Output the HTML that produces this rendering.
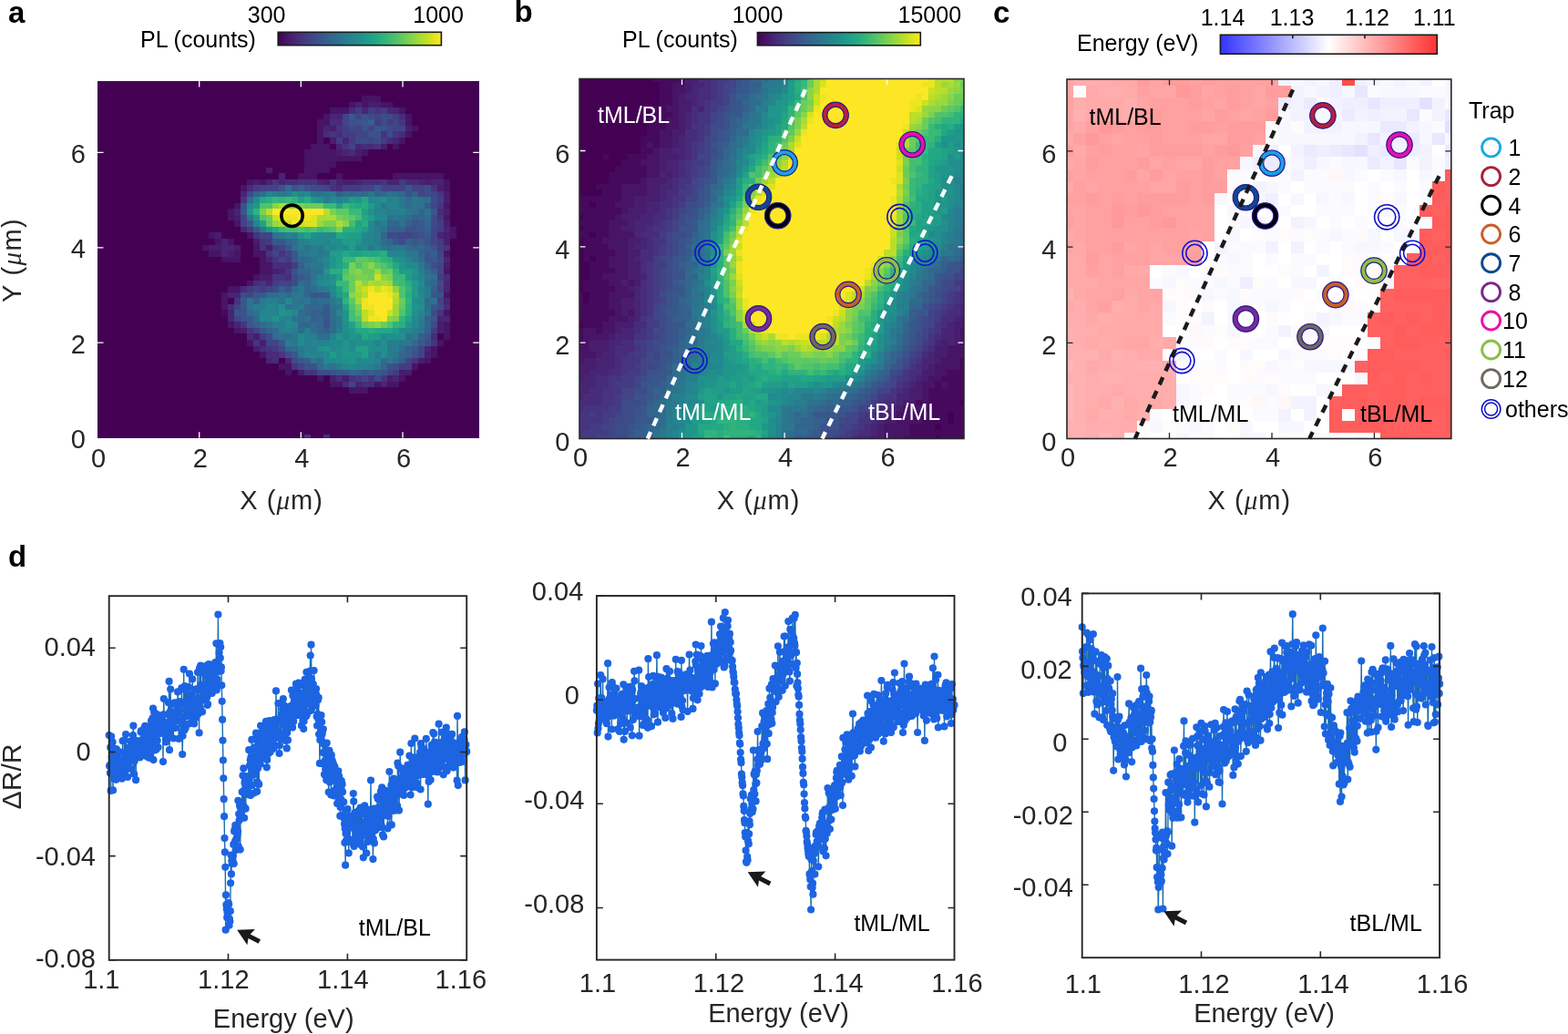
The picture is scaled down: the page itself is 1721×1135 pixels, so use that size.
<!DOCTYPE html><html><head><meta charset="utf-8"><title>Figure</title><style>html,body{margin:0;padding:0;background:#fff;overflow:hidden;}svg{display:block;}</style></head><body><svg width="1721" height="1135" viewBox="0 0 1721 1135" font-family="'Liberation Sans', Arial, Helvetica, sans-serif"><path fill="#440154" d="M107 477h227v4h-227zM341 477h14v4h-14zM362 477h164v4h-164zM107 471h419v6h-419zM107 464h419v7h-419zM107 458h419v6h-419zM107 451h419v7h-419zM107 445h419v6h-419zM107 438h419v7h-419zM107 432h419v6h-419zM107 425h276v7h-276zM404 425h122v7h-122zM107 419h255v6h-255zM438 419h88v6h-88zM107 412h241v7h-241zM355 412h7v7h-7zM445 412h81v7h-81zM107 406h206v6h-206zM320 406h7v6h-7zM452 406h74v6h-74zM107 399h199v7h-199zM459 399h67v7h-67zM107 393h185v6h-185zM306 393h7v6h-7zM473 393h53v6h-53zM107 386h178v7h-178zM480 386h46v7h-46zM107 380h171v6h-171zM480 380h46v6h-46zM107 373h164v7h-164zM487 373h39v7h-39zM107 366h164v7h-164zM480 366h7v7h-7zM494 366h32v7h-32zM107 360h150v6h-150zM494 360h32v6h-32zM107 353h143v7h-143zM494 353h32v7h-32zM107 347h143v6h-143zM494 347h32v6h-32zM107 340h136v7h-136zM494 340h32v7h-32zM107 334h136v6h-136zM494 334h32v6h-32zM107 327h136v7h-136zM250 327h7v7h-7zM494 327h32v7h-32zM107 321h136v6h-136zM494 321h32v6h-32zM107 314h143v7h-143zM494 314h32v7h-32zM107 308h164v6h-164zM494 308h32v6h-32zM107 301h171v7h-171zM494 301h32v7h-32zM107 295h178v6h-178zM494 295h32v6h-32zM107 288h178v7h-178zM494 288h32v7h-32zM107 282h136v6h-136zM264 282h21v6h-21zM494 282h32v6h-32zM107 275h122v7h-122zM264 275h14v7h-14zM494 275h32v7h-32zM107 269h115v6h-115zM264 269h14v6h-14zM494 269h32v6h-32zM107 262h129v7h-129zM257 262h21v7h-21zM494 262h32v7h-32zM107 255h122v7h-122zM243 255h28v7h-28zM501 255h25v7h-25zM107 249h157v6h-157zM501 249h25v6h-25zM107 242h150v7h-150zM494 242h32v7h-32zM107 236h143v6h-143zM494 236h32v6h-32zM107 229h143v7h-143zM494 229h32v7h-32zM107 223h150v6h-150zM494 223h32v6h-32zM107 216h157v7h-157zM494 216h32v7h-32zM107 210h157v6h-157zM494 210h32v6h-32zM107 203h157v7h-157zM494 203h32v7h-32zM107 197h164v6h-164zM494 197h32v6h-32zM107 190h199v7h-199zM313 190h14v7h-14zM348 190h21v7h-21zM376 190h55v7h-55zM487 190h39v7h-39zM107 184h185v6h-185zM299 184h35v6h-35zM362 184h164v6h-164zM107 177h227v7h-227zM369 177h157v7h-157zM107 171h227v6h-227zM397 171h129v6h-129zM107 164h227v7h-227zM404 164h122v7h-122zM107 158h234v6h-234zM362 158h7v6h-7zM425 158h6v6h-6zM438 158h88v6h-88zM107 151h241v7h-241zM355 151h7v7h-7zM445 151h81v7h-81zM107 144h241v7h-241zM452 144h74v7h-74zM107 138h241v6h-241zM459 138h67v6h-67zM107 131h241v7h-241zM452 131h74v7h-74zM107 125h248v6h-248zM452 125h74v6h-74zM107 118h255v7h-255zM445 118h81v7h-81zM107 112h276v6h-276zM431 112h95v6h-95zM107 105h290v7h-290zM418 105h108v7h-108zM107 99h419v6h-419zM107 92h419v7h-419zM107 89h419v3h-419z"/>
<path fill="#463480" d="M334 477h7v4h-7zM383 412h7v7h-7zM404 412h7v7h-7zM418 412h7v7h-7zM334 406h14v6h-14zM320 399h7v7h-7zM452 393h7v6h-7zM306 386h7v7h-7zM292 380h7v6h-7zM278 373h7v7h-7zM473 373h7v7h-7zM271 360h7v6h-7zM264 353h7v7h-7zM480 340h7v7h-7zM257 327h7v7h-7zM285 308h7v6h-7zM299 301h14v7h-14zM313 295h7v6h-7zM299 282h7v6h-7zM292 275h7v7h-7zM306 275h7v7h-7zM285 269h7v6h-7zM487 269h7v6h-7zM285 262h7v7h-7zM278 255h7v7h-7zM480 236h7v6h-7zM480 223h7v6h-7zM264 216h7v7h-7zM480 210h7v6h-7zM362 203h7v7h-7zM473 203h7v7h-7zM299 197h7v6h-7zM327 197h21v6h-21zM362 197h7v6h-7zM418 197h7v6h-7zM376 158h7v6h-7zM411 158h7v6h-7zM362 144h7v7h-7zM418 144h7v7h-7zM431 144h7v7h-7zM369 138h7v6h-7zM438 131h7v7h-7zM411 118h7v7h-7z"/>
<path fill="#472c7b" d="M355 477h7v4h-7zM376 419h7v6h-7zM397 419h14v6h-14zM369 412h7v7h-7zM299 393h7v6h-7zM292 386h14v7h-14zM285 380h7v6h-7zM271 366h7v7h-7zM473 366h7v7h-7zM250 334h7v6h-7zM487 334h7v6h-7zM264 314h7v7h-7zM278 308h7v6h-7zM313 301h7v7h-7zM487 301h7v7h-7zM299 288h21v7h-21zM480 229h7v7h-7zM271 203h7v7h-7zM369 203h7v7h-7zM313 197h14v6h-14zM397 197h21v6h-21zM445 197h14v6h-14zM383 164h7v7h-7zM397 158h14v6h-14zM425 151h6v7h-6zM355 144h7v7h-7zM369 144h7v7h-7zM438 144h7v7h-7zM362 131h14v7h-14zM438 125h7v6h-7zM383 118h7v7h-7z"/>
<path fill="#471466" d="M383 425h21v7h-21zM362 419h14v6h-14zM411 419h7v6h-7zM425 419h13v6h-13zM348 412h7v7h-7zM438 412h7v7h-7zM313 406h7v6h-7zM306 399h14v7h-14zM452 399h7v7h-7zM466 393h7v6h-7zM285 386h7v7h-7zM473 386h7v7h-7zM473 380h7v6h-7zM271 373h7v7h-7zM480 373h7v7h-7zM487 366h7v7h-7zM257 360h7v6h-7zM487 360h7v6h-7zM250 353h7v7h-7zM487 353h7v7h-7zM487 340h7v7h-7zM243 334h7v6h-7zM243 327h7v7h-7zM243 321h7v6h-7zM487 321h7v6h-7zM250 314h14v7h-14zM271 308h7v6h-7zM278 301h7v7h-7zM285 295h14v6h-14zM487 295h7v6h-7zM285 288h14v7h-14zM243 282h21v6h-21zM285 282h7v6h-7zM229 275h14v7h-14zM257 275h7v7h-7zM278 275h14v7h-14zM487 275h7v7h-7zM222 269h7v6h-7zM278 269h7v6h-7zM236 262h7v7h-7zM250 262h7v7h-7zM229 255h7v7h-7zM271 255h7v7h-7zM494 255h7v7h-7zM494 249h7v6h-7zM257 242h7v7h-7zM250 236h7v6h-7zM487 236h7v6h-7zM250 229h7v7h-7zM257 223h7v6h-7zM487 223h7v6h-7zM264 203h7v7h-7zM487 203h7v7h-7zM271 197h7v6h-7zM285 197h7v6h-7zM487 197h7v6h-7zM327 190h21v7h-21zM369 190h7v7h-7zM431 190h56v7h-56zM334 184h28v6h-28zM334 177h35v7h-35zM334 171h63v6h-63zM334 164h35v7h-35zM397 164h7v7h-7zM341 158h21v6h-21zM431 158h7v6h-7zM348 151h7v7h-7zM438 151h7v7h-7zM348 144h7v7h-7zM445 144h7v7h-7zM348 138h7v6h-7zM452 138h7v6h-7zM348 131h14v7h-14zM445 131h7v7h-7zM355 125h7v6h-7zM445 125h7v6h-7zM362 118h21v7h-21zM438 118h7v7h-7zM383 112h7v6h-7zM397 112h7v6h-7zM418 112h13v6h-13zM397 105h21v7h-21z"/>
<path fill="#414487" d="M383 419h7v6h-7zM397 412h7v7h-7zM425 406h6v6h-6zM327 399h7v7h-7zM445 393h7v6h-7zM459 386h7v7h-7zM459 380h7v6h-7zM292 373h14v7h-14zM278 360h7v6h-7zM257 347h7v6h-7zM257 334h7v6h-7zM480 327h7v7h-7zM271 321h7v6h-7zM278 314h7v7h-7zM292 314h7v7h-7zM480 314h7v7h-7zM306 308h14v6h-14zM480 295h7v6h-7zM480 288h7v7h-7zM306 282h7v6h-7zM299 275h7v7h-7zM313 275h7v7h-7zM480 275h7v7h-7zM306 269h7v6h-7zM473 262h7v7h-7zM285 255h14v7h-14zM438 255h14v7h-14zM473 255h7v7h-7zM473 249h7v6h-7zM264 242h7v7h-7zM264 236h7v6h-7zM473 223h7v6h-7zM459 210h7v6h-7zM473 210h7v6h-7zM285 203h21v7h-21zM355 203h7v7h-7zM397 203h14v7h-14zM418 203h27v7h-27zM452 203h14v7h-14zM383 158h7v6h-7zM404 151h7v7h-7zM390 144h14v7h-14zM390 138h7v6h-7zM404 138h7v6h-7zM431 138h14v6h-14zM376 131h7v7h-7zM431 131h7v7h-7zM376 125h7v6h-7zM390 125h7v6h-7zM411 125h7v6h-7z"/>
<path fill="#482474" d="M390 419h7v6h-7zM418 419h7v6h-7zM431 412h7v7h-7zM292 393h7v6h-7zM313 393h7v6h-7zM466 380h7v6h-7zM257 353h7v7h-7zM250 347h7v6h-7zM480 347h14v6h-14zM250 340h7v7h-7zM487 327h7v7h-7zM250 321h14v6h-14zM487 314h7v7h-7zM292 308h7v6h-7zM487 308h7v6h-7zM306 295h7v6h-7zM292 282h7v6h-7zM487 282h7v6h-7zM243 275h7v7h-7zM243 269h14v6h-14zM243 262h7v7h-7zM480 255h7v7h-7zM264 249h7v6h-7zM487 249h7v6h-7zM257 229h7v7h-7zM264 210h7v6h-7zM292 197h7v6h-7zM306 197h7v6h-7zM348 197h7v6h-7zM369 197h7v6h-7zM390 197h7v6h-7zM425 197h13v6h-13zM459 197h7v6h-7zM473 197h14v6h-14zM306 190h7v7h-7zM376 164h7v7h-7zM369 158h7v6h-7zM390 158h7v6h-7zM376 151h7v7h-7zM431 151h7v7h-7zM355 138h7v6h-7zM362 125h14v6h-14zM397 118h7v7h-7zM425 118h13v7h-13zM390 112h7v6h-7z"/>
<path fill="#481d6e" d="M362 412h7v7h-7zM376 412h7v7h-7zM425 412h6v7h-6zM327 406h7v6h-7zM438 406h14v6h-14zM459 393h7v6h-7zM466 386h7v7h-7zM278 380h7v6h-7zM285 373h7v7h-7zM278 366h7v7h-7zM264 360h7v6h-7zM480 360h7v6h-7zM480 353h7v7h-7zM285 301h14v7h-14zM299 295h7v6h-7zM487 288h7v7h-7zM250 275h7v7h-7zM229 269h14v6h-14zM257 269h7v6h-7zM292 269h7v6h-7zM278 262h7v7h-7zM487 262h7v7h-7zM236 255h7v7h-7zM487 255h7v7h-7zM487 242h7v7h-7zM257 236h7v6h-7zM487 229h7v7h-7zM487 216h7v7h-7zM487 210h7v6h-7zM480 203h7v7h-7zM278 197h7v6h-7zM355 197h7v6h-7zM376 197h14v6h-14zM466 197h7v6h-7zM292 184h7v6h-7zM369 164h7v7h-7zM390 164h7v7h-7zM418 158h7v6h-7zM362 151h7v7h-7zM362 138h7v6h-7zM445 138h7v6h-7zM404 112h14v6h-14z"/>
<path fill="#433c83" d="M390 412h7v7h-7zM431 406h7v6h-7zM438 399h14v7h-14zM299 380h7v6h-7zM285 366h7v7h-7zM473 360h7v6h-7zM271 314h7v7h-7zM285 314h7v7h-7zM299 308h7v6h-7zM480 301h7v7h-7zM320 288h7v7h-7zM313 282h7v6h-7zM299 269h7v6h-7zM480 269h7v6h-7zM292 262h7v7h-7zM480 262h7v7h-7zM271 249h7v6h-7zM480 249h7v6h-7zM480 242h7v7h-7zM480 216h7v7h-7zM278 203h7v7h-7zM376 203h21v7h-21zM438 197h7v6h-7zM369 151h7v7h-7zM383 151h7v7h-7zM418 151h7v7h-7zM376 144h14v7h-14zM376 138h7v6h-7zM411 131h7v7h-7zM425 131h6v7h-6zM431 125h7v6h-7zM390 118h7v7h-7zM404 118h7v7h-7zM418 118h7v7h-7z"/>
<path fill="#3e4b89" d="M411 412h7v7h-7zM348 406h14v6h-14zM431 399h7v7h-7zM320 393h7v6h-7zM313 386h7v7h-7zM306 380h7v6h-7zM466 373h7v7h-7zM292 366h7v7h-7zM473 353h7v7h-7zM473 340h7v7h-7zM480 334h7v6h-7zM264 321h7v6h-7zM299 314h7v7h-7zM320 308h7v6h-7zM480 308h7v6h-7zM320 301h7v7h-7zM473 288h7v7h-7zM480 282h7v6h-7zM438 262h7v7h-7zM425 255h13v7h-13zM452 255h7v7h-7zM473 242h7v7h-7zM473 236h7v6h-7zM473 216h7v7h-7zM271 210h7v6h-7zM466 210h7v6h-7zM341 203h14v7h-14zM466 203h7v7h-7zM390 151h14v7h-14zM411 151h7v7h-7zM425 144h6v7h-6zM383 138h7v6h-7zM425 138h6v6h-6zM418 131h7v7h-7zM404 125h7v6h-7zM418 125h13v6h-13z"/>
<path fill="#3b528b" d="M362 406h7v6h-7zM418 406h7v6h-7zM334 399h14v7h-14zM425 399h6v7h-6zM452 386h7v7h-7zM466 366h7v7h-7zM355 353h7v7h-7zM264 347h7v6h-7zM257 340h14v7h-14zM480 321h7v6h-7zM313 314h7v7h-7zM320 295h7v6h-7zM466 282h7v6h-7zM473 269h7v6h-7zM466 262h7v7h-7zM459 255h7v7h-7zM445 249h14v6h-14zM264 223h7v6h-7zM445 210h7v6h-7zM306 203h7v7h-7zM320 203h7v7h-7zM334 203h7v7h-7zM404 144h14v7h-14zM397 138h7v6h-7zM418 138h7v6h-7zM383 131h14v7h-14zM397 125h7v6h-7z"/>
<path fill="#38588c" d="M369 406h14v6h-14zM397 406h7v6h-7zM411 406h7v6h-7zM327 393h7v6h-7zM320 386h7v7h-7zM452 380h7v6h-7zM306 373h7v7h-7zM459 373h7v7h-7zM285 360h7v6h-7zM271 353h7v7h-7zM271 347h7v6h-7zM355 347h7v6h-7zM473 347h7v6h-7zM355 340h7v7h-7zM264 334h7v6h-7zM355 334h7v6h-7zM473 334h7v6h-7zM264 327h7v7h-7zM278 321h14v6h-14zM341 321h21v6h-21zM473 321h7v6h-7zM327 301h7v7h-7zM320 282h7v6h-7zM473 282h7v6h-7zM320 275h7v7h-7zM466 275h7v7h-7zM313 269h7v6h-7zM299 262h14v7h-14zM431 262h7v7h-7zM452 262h7v7h-7zM466 255h7v7h-7zM278 249h7v6h-7zM459 249h7v6h-7zM271 242h7v7h-7zM452 242h14v7h-14zM264 229h7v7h-7zM473 229h7v7h-7zM466 223h7v6h-7zM411 203h7v7h-7zM445 203h7v7h-7zM411 138h7v6h-7zM397 131h7v7h-7zM383 125h7v6h-7z"/>
<path fill="#32668e" d="M383 406h7v6h-7zM418 399h7v7h-7zM438 386h7v7h-7zM313 380h7v6h-7zM452 373h7v7h-7zM292 360h7v6h-7zM348 360h7v6h-7zM327 353h14v7h-14zM348 353h7v7h-7zM466 353h7v7h-7zM348 347h7v6h-7zM334 340h7v7h-7zM334 334h21v6h-21zM341 327h7v7h-7zM334 321h7v6h-7zM334 314h7v7h-7zM334 308h7v6h-7zM473 308h7v6h-7zM327 295h14v6h-14zM327 282h7v6h-7zM459 275h7v7h-7zM452 269h14v6h-14zM313 262h7v7h-7zM425 262h6v7h-6zM418 255h7v7h-7zM425 242h13v7h-13zM466 242h7v7h-7zM459 236h7v6h-7zM459 229h7v7h-7zM278 210h7v6h-7zM383 210h7v6h-7zM397 210h7v6h-7zM411 210h14v6h-14zM438 210h7v6h-7z"/>
<path fill="#355f8d" d="M390 406h7v6h-7zM404 406h7v6h-7zM334 393h7v6h-7zM438 393h7v6h-7zM445 386h7v7h-7zM445 380h7v6h-7zM459 366h7v7h-7zM355 360h7v6h-7zM466 360h7v6h-7zM278 353h7v7h-7zM341 347h7v6h-7zM466 347h7v6h-7zM341 340h14v7h-14zM278 327h7v7h-7zM306 314h7v7h-7zM473 314h7v7h-7zM334 301h7v7h-7zM473 295h7v6h-7zM327 288h7v7h-7zM466 288h7v7h-7zM473 275h7v7h-7zM466 269h7v6h-7zM445 262h7v7h-7zM459 262h7v7h-7zM425 249h20v6h-20zM466 249h7v6h-7zM445 242h7v7h-7zM452 236h7v6h-7zM369 210h7v6h-7zM452 210h7v6h-7zM327 203h7v7h-7zM404 131h7v7h-7z"/>
<path fill="#2f6c8e" d="M348 399h7v7h-7zM348 393h7v6h-7zM418 393h7v6h-7zM431 393h7v6h-7zM320 380h7v6h-7zM438 380h7v6h-7zM299 366h7v7h-7zM313 366h7v7h-7zM348 366h14v7h-14zM299 360h7v6h-7zM327 360h7v6h-7zM341 360h7v6h-7zM362 360h7v6h-7zM285 353h7v7h-7zM341 353h7v7h-7zM362 353h7v7h-7zM278 347h7v6h-7zM327 347h7v6h-7zM362 347h7v6h-7zM271 340h7v7h-7zM327 340h7v7h-7zM362 340h7v7h-7zM466 334h7v6h-7zM348 327h14v7h-14zM466 327h7v7h-7zM292 321h14v6h-14zM313 321h7v6h-7zM320 314h7v7h-7zM341 314h7v7h-7zM327 308h7v6h-7zM466 308h7v6h-7zM473 301h7v7h-7zM466 295h7v6h-7zM334 282h7v6h-7zM459 282h7v6h-7zM445 269h7v6h-7zM320 262h7v7h-7zM418 262h7v7h-7zM445 236h7v6h-7zM466 236h7v6h-7zM445 223h7v6h-7zM271 216h7v7h-7zM445 216h7v7h-7zM466 216h7v7h-7zM285 210h7v6h-7zM376 210h7v6h-7zM390 210h7v6h-7zM431 210h7v6h-7zM313 203h7v7h-7z"/>
<path fill="#2a788e" d="M355 399h7v7h-7zM411 399h7v7h-7zM341 393h7v6h-7zM425 393h6v6h-6zM327 386h7v7h-7zM431 386h7v7h-7zM327 380h7v6h-7zM425 380h6v6h-6zM320 373h7v7h-7zM438 373h14v7h-14zM320 366h7v7h-7zM452 366h7v7h-7zM459 360h7v6h-7zM369 353h7v7h-7zM459 353h7v7h-7zM369 347h7v6h-7zM320 334h7v6h-7zM369 334h7v6h-7zM285 327h7v7h-7zM320 327h7v7h-7zM334 327h7v7h-7zM362 327h7v7h-7zM320 321h14v6h-14zM466 321h7v6h-7zM327 314h7v7h-7zM348 314h7v7h-7zM466 314h7v7h-7zM341 308h7v6h-7zM341 288h14v7h-14zM459 288h7v7h-7zM452 282h7v6h-7zM334 275h7v7h-7zM348 275h7v7h-7zM445 275h14v7h-14zM348 269h7v6h-7zM404 269h7v6h-7zM418 269h7v6h-7zM431 269h14v6h-14zM306 255h7v7h-7zM285 249h7v6h-7zM411 242h7v7h-7zM271 236h7v6h-7zM431 236h7v6h-7zM445 229h7v7h-7zM418 223h7v6h-7zM438 223h7v6h-7zM438 216h7v7h-7zM452 216h7v7h-7zM306 210h7v6h-7zM355 210h14v6h-14zM404 210h7v6h-7z"/>
<path fill="#2d728e" d="M362 399h7v7h-7zM306 366h7v7h-7zM445 366h7v7h-7zM292 353h7v7h-7zM320 347h7v6h-7zM334 347h7v6h-7zM278 340h7v7h-7zM466 340h7v7h-7zM271 334h7v6h-7zM313 334h7v6h-7zM362 334h7v6h-7zM271 327h7v7h-7zM306 327h7v7h-7zM327 327h7v7h-7zM473 327h7v7h-7zM306 321h7v6h-7zM341 301h7v7h-7zM466 301h7v7h-7zM341 295h14v6h-14zM334 288h7v7h-7zM341 282h7v6h-7zM327 275h7v7h-7zM320 269h7v6h-7zM334 269h7v6h-7zM425 269h6v6h-6zM299 255h7v7h-7zM418 249h7v6h-7zM438 242h7v7h-7zM425 236h6v6h-6zM438 236h7v6h-7zM452 229h7v7h-7zM466 229h7v7h-7zM452 223h14v6h-14zM459 216h7v7h-7zM341 210h14v6h-14zM425 210h6v6h-6z"/>
<path fill="#277e8e" d="M369 399h7v7h-7zM404 399h7v7h-7zM411 386h7v7h-7zM425 386h6v7h-6zM334 380h14v6h-14zM431 380h7v6h-7zM313 373h7v7h-7zM334 373h7v7h-7zM425 373h13v7h-13zM334 366h14v7h-14zM306 360h7v6h-7zM320 360h7v6h-7zM334 360h7v6h-7zM369 360h7v6h-7zM452 360h7v6h-7zM299 353h14v7h-14zM459 347h7v6h-7zM278 334h14v6h-14zM327 334h7v6h-7zM292 327h14v7h-14zM355 314h7v7h-7zM459 295h7v6h-7zM348 282h7v6h-7zM341 275h7v7h-7zM355 275h7v7h-7zM327 269h7v6h-7zM341 269h7v6h-7zM327 262h7v7h-7zM411 262h7v7h-7zM320 255h7v7h-7zM411 255h7v7h-7zM411 249h7v6h-7zM418 242h7v7h-7zM425 229h13v7h-13zM355 216h7v7h-7zM425 216h6v7h-6zM299 210h7v6h-7zM313 210h7v6h-7z"/>
<path fill="#228a8e" d="M376 399h14v7h-14zM355 393h14v6h-14zM390 393h21v6h-21zM355 386h7v7h-7zM404 386h7v7h-7zM362 380h7v6h-7zM383 380h7v6h-7zM327 373h7v7h-7zM362 373h14v7h-14zM383 373h7v7h-7zM327 366h7v7h-7zM376 366h7v7h-7zM418 366h7v7h-7zM438 360h14v6h-14zM313 353h7v7h-7zM452 353h7v7h-7zM285 347h7v6h-7zM452 347h7v6h-7zM320 340h7v7h-7zM292 334h7v6h-7zM313 327h7v7h-7zM459 327h7v7h-7zM459 321h7v6h-7zM362 314h7v7h-7zM348 308h7v6h-7zM459 308h7v6h-7zM355 301h7v7h-7zM445 288h14v7h-14zM355 282h7v6h-7zM355 269h7v6h-7zM376 269h7v6h-7zM397 269h7v6h-7zM341 262h14v7h-14zM348 255h21v7h-21zM397 255h7v7h-7zM404 249h7v6h-7zM404 242h7v7h-7zM411 236h14v6h-14zM271 223h7v6h-7zM411 223h7v6h-7zM278 216h7v7h-7zM362 216h7v7h-7zM376 216h7v7h-7zM404 216h14v7h-14zM334 210h7v6h-7z"/>
<path fill="#25848e" d="M390 399h14v7h-14zM411 393h7v6h-7zM334 386h21v7h-21zM341 373h21v7h-21zM411 373h7v7h-7zM362 366h7v7h-7zM313 360h7v6h-7zM320 353h7v7h-7zM292 347h7v6h-7zM306 347h14v6h-14zM285 340h21v7h-21zM369 340h7v7h-7zM459 340h7v7h-7zM299 334h7v6h-7zM369 327h7v7h-7zM362 321h7v6h-7zM459 314h7v7h-7zM348 301h7v7h-7zM459 301h7v7h-7zM355 288h7v7h-7zM445 282h7v6h-7zM425 275h20v7h-20zM362 269h7v6h-7zM390 269h7v6h-7zM411 269h7v6h-7zM334 262h7v7h-7zM355 262h7v7h-7zM397 262h14v7h-14zM313 255h7v7h-7zM404 255h7v7h-7zM278 242h7v7h-7zM411 229h14v7h-14zM438 229h7v7h-7zM425 223h13v6h-13zM369 216h7v7h-7zM431 216h7v7h-7zM292 210h7v6h-7zM327 210h7v6h-7z"/>
<path fill="#21908c" d="M369 393h14v6h-14zM369 386h7v7h-7zM418 386h7v7h-7zM348 380h7v6h-7zM369 380h7v6h-7zM404 380h21v6h-21zM390 373h21v7h-21zM418 373h7v7h-7zM390 366h7v7h-7zM425 366h20v7h-20zM376 360h7v6h-7zM376 353h7v7h-7zM313 340h7v7h-7zM452 340h7v7h-7zM306 334h7v6h-7zM459 334h7v6h-7zM452 327h7v7h-7zM355 308h7v6h-7zM362 301h7v7h-7zM452 301h7v7h-7zM438 282h7v6h-7zM369 269h7v6h-7zM362 262h14v7h-14zM341 255h7v7h-7zM404 229h7v7h-7zM348 216h7v7h-7zM418 216h7v7h-7zM320 210h7v6h-7z"/>
<path fill="#20968b" d="M383 393h7v6h-7zM376 386h21v7h-21zM355 380h7v6h-7zM376 380h7v6h-7zM376 373h7v7h-7zM369 366h7v7h-7zM383 366h7v7h-7zM383 360h7v6h-7zM445 353h7v7h-7zM299 347h7v6h-7zM376 347h7v6h-7zM306 340h7v7h-7zM376 340h7v7h-7zM452 334h7v6h-7zM362 308h7v6h-7zM355 295h7v6h-7zM452 295h7v6h-7zM362 288h7v7h-7zM438 288h7v7h-7zM362 282h7v6h-7zM431 282h7v6h-7zM390 262h7v7h-7zM327 255h7v7h-7zM292 249h7v6h-7zM278 236h7v6h-7zM271 229h7v7h-7zM278 223h7v6h-7zM341 216h7v7h-7zM390 216h7v7h-7z"/>
<path fill="#209c89" d="M362 386h7v7h-7zM404 366h14v7h-14zM431 360h7v6h-7zM369 321h7v6h-7zM452 321h7v6h-7zM452 314h7v7h-7zM452 308h7v6h-7zM445 301h7v7h-7zM438 295h14v6h-14zM362 275h14v7h-14zM383 269h7v6h-7zM376 262h14v7h-14zM383 255h14v7h-14zM397 249h7v6h-7zM404 236h7v6h-7zM404 223h7v6h-7zM383 216h7v7h-7z"/>
<path fill="#21a287" d="M397 386h7v7h-7zM390 380h14v6h-14zM383 353h7v7h-7zM445 347h7v6h-7zM376 334h7v6h-7zM369 314h7v7h-7zM369 301h7v7h-7zM369 288h7v7h-7zM369 282h7v6h-7zM383 275h14v7h-14zM334 255h7v7h-7zM376 255h7v7h-7zM285 242h7v7h-7zM390 242h7v7h-7zM397 229h7v7h-7zM369 223h7v6h-7zM327 216h7v7h-7z"/>
<path fill="#22a884" d="M397 366h7v7h-7zM390 360h14v6h-14zM411 360h20v6h-20zM376 321h7v6h-7zM431 288h7v7h-7zM376 275h7v7h-7zM397 275h21v7h-21zM369 255h7v7h-7zM299 249h7v6h-7zM390 249h7v6h-7zM397 236h7v6h-7zM390 223h7v6h-7zM285 216h7v7h-7zM397 216h7v7h-7z"/>
<path fill="#29ae80" d="M404 360h7v6h-7zM438 353h7v7h-7zM445 340h7v7h-7zM445 334h7v6h-7zM445 321h7v6h-7zM445 308h7v6h-7zM362 295h14v6h-14zM376 288h7v7h-7zM425 282h6v6h-6zM418 275h7v7h-7zM376 249h14v6h-14zM397 242h7v7h-7zM383 223h7v6h-7zM397 223h7v6h-7zM292 216h7v7h-7zM334 216h7v7h-7z"/>
<path fill="#39b977" d="M390 353h7v7h-7zM376 314h7v7h-7zM369 308h14v6h-14zM438 308h7v6h-7zM431 301h14v7h-14zM425 288h6v7h-6zM376 282h14v6h-14zM306 249h7v6h-7zM348 249h7v6h-7zM383 229h14v7h-14zM355 223h14v6h-14zM376 223h7v6h-7zM299 216h7v7h-7zM313 216h7v7h-7z"/>
<path fill="#6ccc5a" d="M397 353h7v7h-7zM418 353h7v7h-7zM390 340h7v7h-7zM438 327h7v7h-7zM383 314h7v7h-7zM383 308h7v6h-7zM383 301h7v7h-7zM404 301h7v7h-7zM397 295h14v6h-14zM425 295h6v6h-6zM397 288h7v7h-7zM292 236h7v6h-7zM376 236h7v6h-7zM334 223h21v6h-21z"/>
<path fill="#7ad151" d="M404 353h7v7h-7zM431 347h7v6h-7zM390 334h7v6h-7zM390 301h14v7h-14zM425 301h6v7h-6zM383 295h7v6h-7zM383 288h7v7h-7zM369 249h7v6h-7zM355 242h14v7h-14zM369 236h7v6h-7zM285 229h7v7h-7zM362 229h7v7h-7zM327 223h7v6h-7z"/>
<path fill="#8ad547" d="M411 353h7v7h-7zM425 347h6v6h-6zM383 321h7v6h-7zM431 314h7v7h-7zM397 308h7v6h-7zM418 301h7v7h-7zM390 295h7v6h-7zM404 288h7v7h-7zM376 242h7v7h-7zM299 223h7v6h-7zM313 223h14v6h-14z"/>
<path fill="#50c36a" d="M425 353h6v7h-6zM390 347h7v6h-7zM438 340h7v7h-7zM383 334h7v6h-7zM438 321h7v6h-7zM438 314h7v7h-7zM376 295h7v6h-7zM390 288h7v7h-7zM418 288h7v7h-7zM404 282h7v6h-7zM327 249h7v6h-7zM341 249h7v6h-7zM362 249h7v6h-7zM285 236h7v6h-7zM285 223h14v6h-14z"/>
<path fill="#30b37c" d="M431 353h7v7h-7zM438 347h7v6h-7zM376 327h7v7h-7zM445 327h7v7h-7zM445 314h7v7h-7zM431 295h7v6h-7zM418 282h7v6h-7zM278 229h7v7h-7zM306 216h7v7h-7zM320 216h7v7h-7z"/>
<path fill="#44be70" d="M383 347h7v6h-7zM383 340h7v7h-7zM431 308h7v6h-7zM411 282h7v6h-7zM313 249h14v6h-14zM334 249h7v6h-7zM355 249h7v6h-7zM383 242h7v7h-7zM390 236h7v6h-7z"/>
<path fill="#bcde28" d="M397 347h7v6h-7zM397 340h7v7h-7zM397 321h7v6h-7zM431 321h7v6h-7zM390 308h7v6h-7zM292 229h7v7h-7zM355 229h7v7h-7z"/>
<path fill="#ede521" d="M404 347h14v6h-14zM397 334h14v6h-14zM397 327h7v7h-7zM425 321h6v6h-6zM404 314h7v7h-7zM418 314h7v7h-7zM306 236h21v6h-21zM334 236h7v6h-7z"/>
<path fill="#fde725" d="M418 347h7v6h-7zM411 340h14v7h-14zM411 334h20v6h-20zM404 327h27v7h-27zM404 321h21v6h-21zM320 242h7v7h-7zM327 236h7v6h-7zM299 229h56v7h-56z"/>
<path fill="#460a5d" d="M243 340h7v7h-7z"/>
<path fill="#dde31e" d="M404 340h7v7h-7zM425 314h6v7h-6zM334 242h14v7h-14zM341 236h7v6h-7z"/>
<path fill="#cce11e" d="M425 340h6v7h-6zM397 314h7v7h-7zM411 314h7v7h-7zM411 301h7v7h-7zM313 242h7v7h-7zM327 242h7v7h-7zM299 236h7v6h-7z"/>
<path fill="#9ad83d" d="M431 340h7v7h-7zM431 334h7v6h-7zM390 321h7v6h-7zM411 308h7v6h-7zM425 308h6v6h-6zM411 295h7v6h-7zM299 242h7v7h-7zM348 242h7v7h-7z"/>
<path fill="#5ec862" d="M438 334h7v6h-7zM383 327h7v7h-7zM376 301h7v7h-7zM418 295h7v6h-7zM411 288h7v7h-7zM390 282h14v6h-14zM292 242h7v7h-7zM383 236h7v6h-7zM369 229h14v7h-14z"/>
<path fill="#abdc33" d="M390 327h7v7h-7zM431 327h7v7h-7zM390 314h7v7h-7zM404 308h7v6h-7zM418 308h7v6h-7zM306 242h7v7h-7zM369 242h7v7h-7zM348 236h21v6h-21zM306 223h7v6h-7z"/>
<path d="M218.7 480.7v-6.5M218.7 89.0v6.5M330.3 480.7v-6.5M330.3 89.0v6.5M442.0 480.7v-6.5M442.0 89.0v6.5M107.0 376.2h6.5M525.7 376.2h-6.5M107.0 271.8h6.5M525.7 271.8h-6.5M107.0 167.3h6.5M525.7 167.3h-6.5" stroke="#ffffff" stroke-width="1.3" fill="none"/>
<text x="108.0" y="513.0" font-size="29" text-anchor="middle" fill="#262626" font-weight="normal" >0</text>
<text x="219.7" y="513.0" font-size="29" text-anchor="middle" fill="#262626" font-weight="normal" >2</text>
<text x="331.3" y="513.0" font-size="29" text-anchor="middle" fill="#262626" font-weight="normal" >4</text>
<text x="443.0" y="513.0" font-size="29" text-anchor="middle" fill="#262626" font-weight="normal" >6</text>
<text x="94.0" y="492.2" font-size="29" text-anchor="end" fill="#262626" font-weight="normal" >0</text>
<text x="94.0" y="387.7" font-size="29" text-anchor="end" fill="#262626" font-weight="normal" >2</text>
<text x="94.0" y="283.3" font-size="29" text-anchor="end" fill="#262626" font-weight="normal" >4</text>
<text x="94.0" y="178.8" font-size="29" text-anchor="end" fill="#262626" font-weight="normal" >6</text>
<circle cx="320.5" cy="236.8" r="11.7" fill="none" stroke="#000" stroke-width="3.6"/>
<path fill="#433c83" d="M636 478h18v4h-18zM921 478h14v4h-14zM640 472h28v6h-28zM928 472h7v6h-7zM647 465h14v7h-14zM935 465h7v7h-7zM661 458h7v7h-7zM647 452h7v6h-7zM661 452h14v6h-14zM942 452h7v6h-7zM668 445h14v7h-14zM956 445h7v7h-7zM675 439h7v6h-7zM956 439h7v6h-7zM675 432h7v7h-7zM963 432h7v7h-7zM675 419h21v7h-21zM682 412h14v7h-14zM984 412h7v7h-7zM689 406h14v6h-14zM696 399h7v7h-7zM998 393h7v6h-7zM696 386h14v7h-14zM1005 386h7v7h-7zM703 379h7v7h-7zM696 373h14v6h-14zM1012 373h7v6h-7zM710 366h7v7h-7zM710 360h7v6h-7zM1019 360h7v6h-7zM710 353h14v7h-14zM710 347h7v6h-7zM1026 347h7v6h-7zM1026 340h7v7h-7zM1033 333h7v7h-7zM717 327h7v6h-7zM1040 327h7v6h-7zM717 320h7v7h-7zM1040 320h7v7h-7zM717 314h7v6h-7zM717 307h7v7h-7zM1047 307h7v7h-7zM717 300h7v7h-7zM717 294h7v6h-7zM717 287h14v7h-14zM717 281h7v6h-7zM724 274h7v7h-7zM724 268h7v6h-7zM724 254h7v7h-7zM731 248h7v6h-7zM731 241h7v7h-7zM738 235h7v6h-7zM738 228h7v7h-7zM745 221h7v7h-7zM745 208h14v7h-14zM752 202h7v6h-7zM759 189h7v6h-7zM759 182h7v7h-7zM759 175h14v7h-14zM766 162h7v7h-7zM766 156h7v6h-7zM773 142h7v7h-7zM773 136h7v6h-7zM780 116h7v7h-7zM780 110h14v6h-14zM787 103h7v7h-7zM787 96h7v7h-7zM787 90h7v6h-7zM787 86h14v4h-14z"/>
<path fill="#414487" d="M654 478h14v4h-14zM914 478h7v4h-7zM668 472h7v6h-7zM921 472h7v6h-7zM661 465h14v7h-14zM921 465h14v7h-14zM668 458h7v7h-7zM928 458h14v7h-14zM675 452h7v6h-7zM935 452h7v6h-7zM942 445h14v7h-14zM682 432h14v7h-14zM682 426h14v6h-14zM963 426h14v6h-14zM696 419h7v7h-7zM977 419h7v7h-7zM696 412h7v7h-7zM977 412h7v7h-7zM703 406h7v6h-7zM984 406h7v6h-7zM703 399h14v7h-14zM991 399h7v7h-7zM703 393h7v6h-7zM717 386h7v7h-7zM998 386h7v7h-7zM710 379h7v7h-7zM1005 379h7v7h-7zM710 373h7v6h-7zM717 366h7v7h-7zM1012 366h7v7h-7zM1012 360h7v6h-7zM1019 353h7v7h-7zM717 347h7v6h-7zM1019 347h7v6h-7zM717 340h7v7h-7zM1019 340h7v7h-7zM717 333h7v7h-7zM1026 333h7v7h-7zM724 327h7v6h-7zM1033 327h7v6h-7zM1033 320h7v7h-7zM724 314h7v6h-7zM1040 314h14v6h-14zM724 307h7v7h-7zM724 300h7v7h-7zM1047 300h11v7h-11zM724 294h7v6h-7zM1054 294h4v6h-4zM724 281h7v6h-7zM731 274h7v7h-7zM731 268h7v6h-7zM731 261h7v7h-7zM731 254h7v7h-7zM738 248h7v6h-7zM738 241h7v7h-7zM745 228h7v7h-7zM752 215h14v6h-14zM759 208h7v7h-7zM759 202h7v6h-7zM759 195h7v7h-7zM766 189h7v6h-7zM766 182h7v7h-7zM773 175h7v7h-7zM766 169h14v6h-14zM773 162h7v7h-7zM773 156h7v6h-7zM773 149h7v7h-7zM780 129h7v7h-7zM780 123h7v6h-7zM787 116h7v7h-7zM794 110h7v6h-7zM794 103h7v7h-7zM794 96h7v7h-7zM794 90h14v6h-14zM801 86h7v4h-7z"/>
<path fill="#3e4b89" d="M668 478h21v4h-21zM907 478h7v4h-7zM675 472h14v6h-14zM907 472h14v6h-14zM675 465h14v7h-14zM675 458h21v7h-21zM921 458h7v7h-7zM682 452h14v6h-14zM928 452h7v6h-7zM682 445h14v7h-14zM682 439h21v6h-21zM949 439h7v6h-7zM956 432h7v7h-7zM696 426h14v6h-14zM970 419h7v7h-7zM703 412h7v7h-7zM977 406h7v6h-7zM717 399h7v7h-7zM710 393h14v6h-14zM991 393h7v6h-7zM710 386h7v7h-7zM717 379h7v7h-7zM998 379h7v7h-7zM717 373h14v6h-14zM1005 373h7v6h-7zM724 366h7v7h-7zM1005 366h7v7h-7zM717 360h14v6h-14zM724 353h7v7h-7zM1012 353h7v7h-7zM724 347h7v6h-7zM1012 347h7v6h-7zM724 340h7v7h-7zM724 333h7v7h-7zM1019 333h7v7h-7zM724 320h7v7h-7zM1026 320h7v7h-7zM731 314h7v6h-7zM1033 314h7v6h-7zM731 307h7v7h-7zM1033 307h14v7h-14zM731 300h7v7h-7zM731 294h7v6h-7zM731 287h7v7h-7zM1054 287h4v7h-4zM731 281h7v6h-7zM738 274h7v7h-7zM738 268h7v6h-7zM738 261h7v7h-7zM738 254h14v7h-14zM745 241h7v7h-7zM745 235h7v6h-7zM752 228h7v7h-7zM752 221h14v7h-14zM766 202h7v6h-7zM766 195h7v7h-7zM773 189h7v6h-7zM773 182h7v7h-7zM780 162h7v7h-7zM780 149h7v7h-7zM780 142h7v7h-7zM780 136h14v6h-14zM787 129h7v7h-7zM787 123h7v6h-7zM794 116h7v7h-7zM801 96h7v7h-7z"/>
<path fill="#38588c" d="M689 478h7v4h-7zM886 478h14v4h-14zM893 472h7v6h-7zM696 465h7v7h-7zM696 458h21v7h-21zM703 452h7v6h-7zM893 452h28v6h-28zM703 445h7v7h-7zM921 445h14v7h-14zM935 439h7v6h-7zM710 432h7v7h-7zM942 432h7v7h-7zM710 426h7v6h-7zM949 426h7v6h-7zM710 419h14v7h-14zM956 419h7v7h-7zM717 412h14v7h-14zM970 412h7v7h-7zM724 406h14v6h-14zM977 399h7v7h-7zM731 393h7v6h-7zM731 379h7v7h-7zM991 379h7v7h-7zM738 373h7v6h-7zM738 366h7v7h-7zM998 366h7v7h-7zM738 360h7v6h-7zM998 360h7v6h-7zM738 353h14v7h-14zM998 353h7v7h-7zM731 340h14v7h-14zM1005 340h14v7h-14zM738 333h7v7h-7zM738 327h7v6h-7zM1019 327h7v6h-7zM738 320h14v7h-14zM1019 320h7v7h-7zM745 314h7v6h-7zM1019 314h7v6h-7zM738 307h7v7h-7zM1026 307h7v7h-7zM1026 300h7v7h-7zM745 294h7v6h-7zM1040 287h7v7h-7zM745 281h7v6h-7zM1054 281h4v6h-4zM752 274h7v7h-7zM752 261h7v7h-7zM759 248h7v6h-7zM759 241h7v7h-7zM773 215h7v6h-7zM773 208h7v7h-7zM773 202h7v6h-7zM780 195h7v7h-7zM780 189h7v6h-7zM780 182h7v7h-7zM780 175h7v7h-7zM787 169h7v6h-7zM787 162h7v7h-7zM787 156h7v6h-7zM794 149h7v7h-7zM794 142h7v7h-7zM801 123h14v6h-14zM808 116h7v7h-7zM808 110h7v6h-7zM808 96h14v7h-14zM815 90h7v6h-7zM815 86h7v4h-7z"/>
<path fill="#355f8d" d="M696 478h14v4h-14zM872 478h14v4h-14zM696 472h14v6h-14zM886 472h7v6h-7zM703 465h7v7h-7zM893 465h7v7h-7zM893 458h14v7h-14zM907 445h14v7h-14zM710 439h7v6h-7zM921 439h14v6h-14zM717 432h7v7h-7zM935 432h7v7h-7zM724 426h7v6h-7zM942 426h7v6h-7zM724 419h7v7h-7zM963 412h7v7h-7zM970 406h7v6h-7zM731 399h7v7h-7zM738 393h7v6h-7zM738 386h7v7h-7zM984 386h7v7h-7zM738 379h7v7h-7zM991 373h7v6h-7zM745 366h7v7h-7zM991 366h7v7h-7zM745 360h7v6h-7zM738 347h14v6h-14zM998 347h7v6h-7zM745 340h14v7h-14zM998 340h7v7h-7zM745 333h7v7h-7zM1012 327h7v6h-7zM1012 320h7v7h-7zM745 307h7v7h-7zM1033 294h7v6h-7zM745 287h7v7h-7zM1033 287h7v7h-7zM752 281h7v6h-7zM1054 274h4v7h-4zM752 268h7v6h-7zM759 254h7v7h-7zM766 235h7v6h-7zM766 228h7v7h-7zM773 221h7v7h-7zM787 175h7v7h-7zM794 156h7v6h-7zM801 142h7v7h-7zM801 136h7v6h-7zM801 129h7v7h-7zM815 116h7v7h-7zM808 103h14v7h-14zM822 96h7v7h-7zM822 90h14v6h-14zM822 86h7v4h-7z"/>
<path fill="#32668e" d="M710 478h7v4h-7zM710 472h7v6h-7zM872 472h7v6h-7zM710 465h14v7h-14zM872 465h21v7h-21zM879 458h14v7h-14zM710 452h14v6h-14zM872 452h7v6h-7zM886 452h7v6h-7zM710 445h14v7h-14zM893 445h14v7h-14zM717 439h7v6h-7zM907 439h7v6h-7zM724 432h7v7h-7zM928 432h7v7h-7zM717 426h7v6h-7zM731 419h7v7h-7zM949 419h7v7h-7zM731 412h7v7h-7zM963 406h7v6h-7zM970 399h7v7h-7zM977 393h7v6h-7zM745 386h7v7h-7zM977 386h7v7h-7zM745 379h7v7h-7zM984 379h7v7h-7zM745 373h7v6h-7zM752 360h7v6h-7zM991 360h7v6h-7zM991 353h7v7h-7zM752 347h7v6h-7zM752 333h7v7h-7zM998 333h14v7h-14zM745 327h7v6h-7zM752 320h7v7h-7zM1005 320h7v7h-7zM752 314h7v6h-7zM1012 314h7v6h-7zM752 307h7v7h-7zM1012 307h14v7h-14zM752 300h14v7h-14zM752 294h7v6h-7zM1019 294h14v6h-14zM752 287h14v7h-14zM1033 281h7v6h-7zM1047 281h7v6h-7zM759 274h7v7h-7zM1054 268h4v6h-4zM759 261h7v7h-7zM773 228h7v7h-7zM780 215h7v6h-7zM780 202h7v6h-7zM787 189h7v6h-7zM787 182h7v7h-7zM794 169h7v6h-7zM794 162h7v7h-7zM801 149h7v7h-7zM808 136h7v6h-7zM808 129h7v7h-7zM815 110h7v6h-7zM829 96h7v7h-7zM829 86h7v4h-7z"/>
<path fill="#2d728e" d="M717 478h7v4h-7zM717 472h7v6h-7zM858 472h7v6h-7zM717 458h7v7h-7zM865 458h7v7h-7zM865 452h7v6h-7zM879 452h7v6h-7zM886 439h14v6h-14zM731 432h7v7h-7zM907 432h7v7h-7zM731 426h14v6h-14zM921 426h14v6h-14zM942 419h7v7h-7zM738 412h14v7h-14zM949 412h7v7h-7zM745 406h7v6h-7zM956 406h7v6h-7zM752 393h7v6h-7zM759 386h7v7h-7zM970 386h7v7h-7zM759 379h7v7h-7zM977 379h7v7h-7zM759 360h7v6h-7zM984 360h7v6h-7zM759 347h7v6h-7zM984 347h7v6h-7zM759 333h7v7h-7zM759 327h7v6h-7zM759 320h14v7h-14zM759 314h7v6h-7zM1005 314h7v6h-7zM1012 300h7v7h-7zM759 294h7v6h-7zM1012 294h7v6h-7zM1019 287h7v7h-7zM766 281h7v6h-7zM1040 268h14v6h-14zM1054 261h4v7h-4zM773 254h7v7h-7zM773 248h7v6h-7zM1054 248h4v6h-4zM773 241h7v7h-7zM780 221h7v7h-7zM787 208h7v7h-7zM801 182h7v7h-7zM801 175h7v7h-7zM801 169h7v6h-7zM808 156h7v6h-7zM808 149h7v7h-7zM822 123h7v6h-7zM829 103h7v7h-7zM836 96h7v7h-7zM843 86h8v4h-8z"/>
<path fill="#2a788e" d="M724 478h7v4h-7zM724 472h7v6h-7zM858 465h14v7h-14zM858 458h7v7h-7zM731 452h7v6h-7zM858 452h7v6h-7zM731 445h7v7h-7zM858 445h28v7h-28zM731 439h14v6h-14zM879 432h14v7h-14zM900 432h7v7h-7zM745 426h7v6h-7zM907 426h14v6h-14zM738 419h14v7h-14zM935 419h7v7h-7zM759 406h7v6h-7zM963 399h7v7h-7zM759 393h7v6h-7zM766 386h7v7h-7zM766 373h7v6h-7zM766 366h7v7h-7zM977 366h7v7h-7zM766 360h7v6h-7zM977 360h7v6h-7zM984 353h7v7h-7zM759 340h14v7h-14zM991 340h7v7h-7zM766 333h7v7h-7zM766 327h7v6h-7zM998 320h7v7h-7zM998 314h7v6h-7zM766 307h7v7h-7zM1005 307h7v7h-7zM1005 300h7v7h-7zM766 294h7v6h-7zM766 287h7v7h-7zM759 281h7v6h-7zM773 281h7v6h-7zM1026 281h7v6h-7zM773 274h7v7h-7zM1033 274h14v7h-14zM773 261h7v7h-7zM1047 261h7v7h-7zM1047 254h7v7h-7zM1047 248h7v6h-7zM1054 241h4v7h-4zM1054 235h4v6h-4zM780 228h7v7h-7zM787 221h7v7h-7zM1054 208h4v7h-4zM794 195h7v7h-7zM801 189h7v6h-7zM815 149h7v7h-7zM815 136h14v6h-14zM822 129h14v7h-14zM829 123h7v6h-7zM836 103h7v7h-7zM836 90h15v6h-15zM851 86h7v4h-7z"/>
<path fill="#277e8e" d="M731 478h7v4h-7zM731 472h7v6h-7zM731 465h14v7h-14zM731 458h7v7h-7zM738 445h7v7h-7zM745 439h7v6h-7zM872 439h14v6h-14zM738 432h14v7h-14zM893 432h7v7h-7zM752 412h14v7h-14zM752 406h7v6h-7zM949 406h7v6h-7zM766 399h7v7h-7zM956 399h7v7h-7zM766 393h7v6h-7zM963 393h7v6h-7zM773 386h7v7h-7zM963 386h7v7h-7zM766 379h7v7h-7zM970 379h7v7h-7zM977 373h7v6h-7zM773 366h7v7h-7zM773 360h7v6h-7zM766 353h7v7h-7zM766 347h7v6h-7zM773 340h7v7h-7zM773 333h7v7h-7zM984 333h14v7h-14zM991 327h7v6h-7zM991 320h7v7h-7zM766 314h7v6h-7zM998 307h7v7h-7zM766 300h7v7h-7zM1005 294h7v6h-7zM773 287h7v7h-7zM773 268h7v6h-7zM1033 268h7v6h-7zM1040 261h7v7h-7zM1040 254h7v7h-7zM1047 241h7v7h-7zM780 235h7v6h-7zM1047 235h7v6h-7zM1047 228h11v7h-11zM787 215h7v6h-7zM1054 215h4v6h-4zM794 202h7v6h-7zM1054 202h4v6h-4zM801 195h7v7h-7zM808 169h7v6h-7zM808 162h7v7h-7zM815 156h7v6h-7zM829 136h7v6h-7zM829 116h14v7h-14zM836 110h7v6h-7zM843 96h15v7h-15zM851 90h7v6h-7z"/>
<path fill="#25848e" d="M738 478h7v4h-7zM851 478h7v4h-7zM738 472h7v6h-7zM851 472h7v6h-7zM745 465h7v7h-7zM851 465h7v7h-7zM738 458h7v7h-7zM851 458h7v7h-7zM738 452h7v6h-7zM745 445h7v7h-7zM752 439h14v6h-14zM865 439h7v6h-7zM865 432h14v7h-14zM752 426h14v6h-14zM872 426h21v6h-21zM900 426h7v6h-7zM752 419h7v7h-7zM921 419h14v7h-14zM942 412h7v7h-7zM766 406h7v6h-7zM759 399h7v7h-7zM773 399h14v7h-14zM773 393h7v6h-7zM773 379h14v7h-14zM773 373h14v6h-14zM970 373h7v6h-7zM780 366h7v7h-7zM970 366h7v7h-7zM773 353h7v7h-7zM977 353h7v7h-7zM773 347h7v6h-7zM984 340h7v7h-7zM984 327h7v6h-7zM773 320h7v7h-7zM984 320h7v7h-7zM773 314h7v6h-7zM773 300h7v7h-7zM998 300h7v7h-7zM773 294h7v6h-7zM1005 287h14v7h-14zM1019 281h7v6h-7zM1026 274h7v7h-7zM1033 261h7v7h-7zM1033 254h7v7h-7zM780 248h7v6h-7zM1040 248h7v6h-7zM780 241h7v7h-7zM1040 241h7v7h-7zM1040 235h7v6h-7zM1047 221h11v7h-11zM794 208h7v7h-7zM801 202h7v6h-7zM1047 195h11v7h-11zM1054 189h4v6h-4zM808 182h7v7h-7zM808 175h7v7h-7zM815 162h7v7h-7zM822 142h7v7h-7zM843 110h8v6h-8zM843 103h8v7h-8zM858 90h7v6h-7zM858 86h7v4h-7z"/>
<path fill="#21908c" d="M745 478h7v4h-7zM745 472h7v6h-7zM843 472h8v6h-8zM843 465h8v7h-8zM843 458h8v7h-8zM752 452h14v6h-14zM759 445h7v7h-7zM766 439h7v6h-7zM851 439h7v6h-7zM851 432h7v7h-7zM851 426h7v6h-7zM865 426h7v6h-7zM766 419h7v7h-7zM893 419h7v7h-7zM766 412h21v7h-21zM780 406h7v6h-7zM942 406h7v6h-7zM956 393h7v6h-7zM956 386h7v7h-7zM963 379h7v7h-7zM963 373h7v6h-7zM787 366h7v7h-7zM963 366h7v7h-7zM780 360h7v6h-7zM780 353h7v7h-7zM780 347h7v6h-7zM970 347h7v6h-7zM970 340h14v7h-14zM977 333h7v7h-7zM780 327h7v6h-7zM977 327h7v6h-7zM984 314h7v6h-7zM773 307h7v7h-7zM991 300h7v7h-7zM1005 281h7v6h-7zM780 274h7v7h-7zM1012 274h7v7h-7zM780 261h7v7h-7zM1026 261h7v7h-7zM780 254h7v7h-7zM1026 254h7v7h-7zM1026 248h14v6h-14zM787 241h7v7h-7zM1033 241h7v7h-7zM1026 221h7v7h-7zM1040 221h7v7h-7zM794 215h7v6h-7zM1040 215h7v6h-7zM1033 208h7v7h-7zM1033 202h14v6h-14zM1033 195h14v7h-14zM1040 189h7v6h-7zM1047 182h7v7h-7zM1040 175h14v7h-14zM815 169h7v6h-7zM1040 169h7v6h-7zM1033 156h7v6h-7zM1047 156h7v6h-7zM829 149h7v7h-7zM829 142h7v7h-7zM1054 136h4v6h-4zM843 129h8v7h-8z"/>
<path fill="#20968b" d="M752 478h7v4h-7zM752 472h14v6h-14zM752 465h14v7h-14zM836 465h7v7h-7zM843 452h8v6h-8zM843 439h8v6h-8zM787 432h7v7h-7zM766 426h7v6h-7zM794 426h7v6h-7zM836 426h15v6h-15zM773 419h14v7h-14zM858 419h7v7h-7zM886 419h7v7h-7zM900 419h14v7h-14zM794 412h7v7h-7zM794 406h14v6h-14zM935 406h7v6h-7zM794 399h21v7h-21zM794 393h7v6h-7zM949 393h7v6h-7zM794 379h7v7h-7zM794 373h7v6h-7zM963 347h7v6h-7zM780 340h7v7h-7zM970 333h7v7h-7zM780 320h7v7h-7zM977 320h7v7h-7zM780 314h7v6h-7zM984 307h7v7h-7zM991 294h7v6h-7zM780 287h7v7h-7zM998 281h7v6h-7zM1005 274h7v7h-7zM780 268h7v6h-7zM1019 268h7v6h-7zM1019 261h7v7h-7zM1019 248h7v6h-7zM794 228h7v7h-7zM1026 228h7v7h-7zM1033 221h7v7h-7zM801 215h7v6h-7zM1026 215h7v6h-7zM1026 208h7v7h-7zM1040 208h7v7h-7zM1033 189h7v6h-7zM815 182h7v7h-7zM1026 182h21v7h-21zM1047 162h7v7h-7zM829 156h7v6h-7zM1054 156h4v6h-4zM1033 149h25v7h-25zM836 142h7v7h-7zM1047 142h11v7h-11zM843 136h8v6h-8zM851 129h7v7h-7zM843 123h15v6h-15zM843 116h15v7h-15zM851 110h14v6h-14zM858 103h7v7h-7zM865 86h7v4h-7z"/>
<path fill="#21a287" d="M759 478h14v4h-14zM822 478h7v4h-7zM836 472h7v6h-7zM773 458h7v7h-7zM836 458h7v7h-7zM766 452h7v6h-7zM766 445h14v7h-14zM829 445h7v7h-7zM773 439h14v6h-14zM815 439h7v6h-7zM836 439h7v6h-7zM773 432h14v7h-14zM794 432h14v7h-14zM815 432h14v7h-14zM773 426h7v6h-7zM822 426h7v6h-7zM815 419h7v7h-7zM836 419h7v7h-7zM865 419h7v7h-7zM815 412h7v7h-7zM858 412h21v7h-21zM893 412h14v7h-14zM808 393h7v6h-7zM808 386h7v7h-7zM956 373h7v6h-7zM956 366h7v7h-7zM787 347h7v6h-7zM787 340h7v7h-7zM787 333h7v7h-7zM970 327h7v6h-7zM984 300h7v7h-7zM780 294h7v6h-7zM984 294h7v6h-7zM991 281h7v6h-7zM998 274h7v7h-7zM1005 268h7v6h-7zM787 261h7v7h-7zM1012 254h7v7h-7zM1005 248h7v6h-7zM1005 241h7v7h-7zM794 235h7v6h-7zM1012 235h7v6h-7zM1012 228h14v7h-14zM801 221h7v7h-7zM1012 221h14v7h-14zM1019 215h7v6h-7zM808 208h7v7h-7zM1019 208h7v7h-7zM1019 202h14v6h-14zM815 189h7v6h-7zM1019 189h7v6h-7zM1019 182h7v7h-7zM1026 175h7v7h-7zM822 169h7v6h-7zM1033 169h7v6h-7zM1033 162h7v7h-7zM836 156h7v6h-7zM851 142h7v7h-7zM851 136h7v6h-7zM858 123h7v6h-7zM865 110h7v6h-7z"/>
<path fill="#39b977" d="M773 478h7v4h-7zM900 406h7v6h-7zM851 399h7v7h-7zM815 379h7v7h-7zM942 373h7v6h-7zM942 366h7v7h-7zM801 353h7v7h-7zM801 347h7v6h-7zM949 347h7v6h-7zM956 333h7v7h-7zM984 281h7v6h-7zM787 268h7v6h-7zM998 241h7v7h-7zM801 235h7v6h-7zM808 221h7v7h-7zM815 208h7v7h-7zM998 208h7v7h-7zM815 202h7v6h-7zM998 202h7v6h-7zM998 195h7v7h-7zM1005 189h7v6h-7zM1012 162h7v7h-7zM1005 156h14v6h-14zM1012 149h14v7h-14zM1019 142h14v7h-14zM1019 136h7v6h-7zM865 129h7v7h-7zM1054 116h4v7h-4zM872 110h7v6h-7zM879 90h7v6h-7z"/>
<path fill="#30b37c" d="M780 478h7v4h-7zM801 478h7v4h-7zM829 478h7v4h-7zM773 472h14v6h-14zM794 472h35v6h-35zM801 465h7v7h-7zM787 458h21v7h-21zM808 452h7v6h-7zM822 452h7v6h-7zM851 406h7v6h-7zM865 406h21v6h-21zM893 406h7v6h-7zM836 399h15v7h-15zM858 399h7v7h-7zM921 399h7v7h-7zM829 393h7v6h-7zM843 393h8v6h-8zM928 393h14v6h-14zM935 386h7v7h-7zM942 379h7v7h-7zM794 353h7v7h-7zM949 353h7v7h-7zM794 340h7v7h-7zM794 327h7v6h-7zM963 327h7v6h-7zM963 320h7v7h-7zM970 314h7v6h-7zM787 307h7v7h-7zM970 307h7v7h-7zM787 300h7v7h-7zM787 294h7v6h-7zM977 294h7v6h-7zM984 287h7v7h-7zM787 281h7v6h-7zM801 241h7v7h-7zM998 221h7v7h-7zM1005 202h7v6h-7zM822 195h7v7h-7zM1005 195h14v7h-14zM1012 189h7v6h-7zM1005 182h14v7h-14zM1012 175h7v7h-7zM843 162h8v7h-8zM843 156h8v6h-8zM1019 156h7v6h-7zM851 149h7v7h-7zM1033 129h21v7h-21zM865 123h7v6h-7zM1047 123h7v6h-7zM865 116h7v7h-7zM879 86h7v4h-7z"/>
<path fill="#29ae80" d="M787 478h7v4h-7zM808 478h14v4h-14zM787 472h7v6h-7zM829 472h7v6h-7zM794 465h7v7h-7zM808 465h14v7h-14zM808 458h14v7h-14zM773 452h7v6h-7zM794 452h14v6h-14zM815 452h7v6h-7zM787 445h21v7h-21zM815 445h7v7h-7zM801 439h14v6h-14zM829 419h7v7h-7zM836 412h7v7h-7zM843 406h8v6h-8zM907 406h7v6h-7zM921 406h7v6h-7zM822 399h7v7h-7zM822 393h7v6h-7zM815 386h7v7h-7zM949 386h7v7h-7zM808 379h7v7h-7zM801 366h7v7h-7zM949 366h7v7h-7zM801 360h7v6h-7zM949 360h14v6h-14zM794 347h7v6h-7zM956 347h7v6h-7zM956 340h7v7h-7zM963 333h7v7h-7zM787 327h7v6h-7zM787 320h7v7h-7zM787 314h7v6h-7zM977 307h7v7h-7zM977 300h7v7h-7zM787 287h7v7h-7zM787 274h7v7h-7zM991 274h7v7h-7zM998 261h7v7h-7zM794 248h7v6h-7zM998 235h7v6h-7zM801 228h7v7h-7zM998 228h14v7h-14zM1005 221h7v7h-7zM1005 208h7v7h-7zM815 195h7v7h-7zM829 175h7v7h-7zM836 169h7v6h-7zM1012 169h7v6h-7zM843 149h8v7h-8zM1026 149h7v7h-7zM1026 136h7v6h-7zM1040 136h7v6h-7zM1054 123h4v6h-4zM872 96h7v7h-7zM872 90h7v6h-7z"/>
<path fill="#44be70" d="M794 478h7v4h-7zM886 406h7v6h-7zM865 399h7v7h-7zM893 399h7v7h-7zM907 399h14v7h-14zM836 393h7v6h-7zM851 393h7v6h-7zM921 393h7v6h-7zM822 386h7v7h-7zM815 373h7v6h-7zM808 366h7v7h-7zM808 360h7v6h-7zM808 353h7v7h-7zM942 347h7v6h-7zM794 333h7v7h-7zM956 327h7v6h-7zM963 314h7v6h-7zM991 268h7v6h-7zM794 254h7v7h-7zM801 248h7v6h-7zM998 215h7v6h-7zM829 189h7v6h-7zM829 182h7v7h-7zM998 182h7v7h-7zM836 175h7v7h-7zM998 175h14v7h-14zM1005 169h7v6h-7zM1005 162h7v7h-7zM851 156h7v6h-7zM858 142h7v7h-7zM1026 129h7v7h-7zM1040 123h7v6h-7zM879 96h7v7h-7z"/>
<path fill="#209c89" d="M836 478h7v4h-7zM759 458h14v7h-14zM836 452h7v6h-7zM780 445h7v7h-7zM836 445h7v7h-7zM829 439h7v6h-7zM766 432h7v7h-7zM780 426h14v6h-14zM801 426h14v6h-14zM829 426h7v6h-7zM787 419h14v7h-14zM808 419h7v7h-7zM843 419h15v7h-15zM872 419h14v7h-14zM787 412h7v7h-7zM801 412h14v7h-14zM822 412h7v7h-7zM907 412h21v7h-21zM808 406h14v6h-14zM815 399h7v7h-7zM942 399h7v7h-7zM801 393h7v6h-7zM942 393h7v6h-7zM794 386h14v7h-14zM801 379h7v7h-7zM956 379h7v7h-7zM794 366h7v7h-7zM787 360h14v6h-14zM963 360h7v6h-7zM787 353h7v7h-7zM963 353h7v7h-7zM963 340h7v7h-7zM780 307h7v7h-7zM780 300h7v7h-7zM991 287h7v7h-7zM780 281h7v6h-7zM1012 268h7v6h-7zM1012 261h7v7h-7zM787 254h7v7h-7zM787 248h7v6h-7zM1012 248h7v6h-7zM1019 241h14v7h-14zM1019 235h14v6h-14zM1033 228h7v7h-7zM1033 215h7v6h-7zM808 202h7v6h-7zM808 195h7v7h-7zM1026 195h7v7h-7zM1026 189h7v6h-7zM822 175h7v7h-7zM1033 175h7v7h-7zM1047 169h7v6h-7zM829 162h7v7h-7zM1040 162h7v7h-7zM1026 156h7v6h-7zM1040 156h7v6h-7zM836 149h7v7h-7zM843 142h8v7h-8zM1040 142h7v7h-7zM1047 136h7v6h-7zM858 116h7v7h-7zM865 103h7v7h-7zM865 96h7v7h-7zM865 90h7v6h-7z"/>
<path fill="#228a8e" d="M843 478h8v4h-8zM745 458h14v7h-14zM745 452h7v6h-7zM851 452h7v6h-7zM752 445h7v7h-7zM843 445h15v7h-15zM858 439h7v6h-7zM752 432h14v7h-14zM843 432h8v7h-8zM858 432h7v7h-7zM858 426h7v6h-7zM893 426h7v6h-7zM759 419h7v7h-7zM914 419h7v7h-7zM928 412h14v7h-14zM773 406h7v6h-7zM787 406h7v6h-7zM787 399h7v7h-7zM949 399h7v7h-7zM780 393h14v6h-14zM780 386h14v7h-14zM787 379h7v7h-7zM787 373h7v6h-7zM970 360h7v6h-7zM970 353h7v7h-7zM977 347h7v6h-7zM780 333h7v7h-7zM773 327h7v6h-7zM991 314h7v6h-7zM991 307h7v7h-7zM998 294h7v6h-7zM998 287h7v7h-7zM1012 281h7v6h-7zM1019 274h7v7h-7zM1026 268h7v6h-7zM1019 254h7v7h-7zM787 235h7v6h-7zM1033 235h7v6h-7zM787 228h7v7h-7zM1040 228h7v7h-7zM794 221h7v7h-7zM1047 215h7v6h-7zM801 208h7v7h-7zM1047 208h7v7h-7zM1047 202h7v6h-7zM808 189h7v6h-7zM1047 189h7v6h-7zM1054 182h4v7h-4zM815 175h7v7h-7zM1054 175h4v7h-4zM1054 169h4v6h-4zM822 162h7v7h-7zM1054 162h4v7h-4zM822 156h7v6h-7zM822 149h7v7h-7zM836 136h7v6h-7zM836 129h7v7h-7zM836 123h7v6h-7zM851 103h7v7h-7zM858 96h7v7h-7z"/>
<path fill="#2f6c8e" d="M858 478h14v4h-14zM865 472h7v6h-7zM879 472h7v6h-7zM724 465h7v7h-7zM724 458h7v7h-7zM872 458h7v7h-7zM724 452h7v6h-7zM724 445h7v7h-7zM886 445h7v7h-7zM724 439h7v6h-7zM900 439h7v6h-7zM914 439h7v6h-7zM914 432h14v7h-14zM935 426h7v6h-7zM956 412h7v7h-7zM738 406h7v6h-7zM738 399h21v7h-21zM745 393h7v6h-7zM970 393h7v6h-7zM752 386h7v7h-7zM752 379h7v7h-7zM752 373h14v6h-14zM984 373h7v6h-7zM752 366h14v7h-14zM984 366h7v7h-7zM752 353h14v7h-14zM991 347h7v6h-7zM752 327h7v6h-7zM998 327h14v6h-14zM759 307h7v7h-7zM1019 300h7v7h-7zM1026 287h7v7h-7zM1040 281h7v6h-7zM766 274h7v7h-7zM1047 274h7v7h-7zM759 268h14v6h-14zM766 261h7v7h-7zM766 254h7v7h-7zM1054 254h4v7h-4zM766 248h7v6h-7zM766 241h7v7h-7zM773 235h7v6h-7zM780 208h7v7h-7zM787 202h7v6h-7zM787 195h7v7h-7zM794 189h7v6h-7zM794 182h7v7h-7zM794 175h7v7h-7zM801 162h7v7h-7zM801 156h7v6h-7zM808 142h14v7h-14zM815 129h7v7h-7zM815 123h7v6h-7zM822 116h7v7h-7zM822 110h14v6h-14zM822 103h7v7h-7zM836 86h7v4h-7z"/>
<path fill="#3b528b" d="M900 478h7v4h-7zM689 472h7v6h-7zM900 472h7v6h-7zM689 465h7v7h-7zM900 465h21v7h-21zM907 458h14v7h-14zM696 452h7v6h-7zM921 452h7v6h-7zM696 445h7v7h-7zM935 445h7v7h-7zM703 439h7v6h-7zM942 439h7v6h-7zM696 432h14v7h-14zM949 432h7v7h-7zM956 426h7v6h-7zM703 419h7v7h-7zM963 419h7v7h-7zM710 412h7v7h-7zM710 406h14v6h-14zM724 399h7v7h-7zM984 399h7v7h-7zM724 393h7v6h-7zM984 393h7v6h-7zM724 386h14v7h-14zM991 386h7v7h-7zM724 379h7v7h-7zM731 373h7v6h-7zM998 373h7v6h-7zM731 366h7v7h-7zM731 360h7v6h-7zM1005 360h7v6h-7zM731 353h7v7h-7zM1005 353h7v7h-7zM731 347h7v6h-7zM1005 347h7v6h-7zM731 333h7v7h-7zM1012 333h7v7h-7zM731 327h7v6h-7zM1026 327h7v6h-7zM731 320h7v7h-7zM738 314h7v6h-7zM1026 314h7v6h-7zM738 300h14v7h-14zM1033 300h14v7h-14zM738 294h7v6h-7zM1040 294h14v6h-14zM738 287h7v7h-7zM1047 287h7v7h-7zM738 281h7v6h-7zM745 274h7v7h-7zM745 268h7v6h-7zM745 261h7v7h-7zM752 254h7v7h-7zM745 248h14v6h-14zM752 241h7v7h-7zM752 235h14v6h-14zM759 228h7v7h-7zM766 221h7v7h-7zM766 215h7v6h-7zM766 208h7v7h-7zM773 195h7v7h-7zM780 169h7v6h-7zM780 156h7v6h-7zM787 149h7v7h-7zM787 142h7v7h-7zM794 136h7v6h-7zM794 129h7v7h-7zM794 123h7v6h-7zM801 116h7v7h-7zM801 110h7v6h-7zM801 103h7v7h-7zM808 90h7v6h-7zM808 86h7v4h-7z"/>
<path fill="#472c7b" d="M935 478h7v4h-7zM942 472h14v6h-14zM949 465h7v7h-7zM956 458h7v7h-7zM956 452h7v6h-7zM636 445h4v7h-4zM963 445h7v7h-7zM636 439h25v6h-25zM970 439h14v6h-14zM640 432h21v7h-21zM647 426h14v6h-14zM984 426h7v6h-7zM654 419h14v7h-14zM991 419h7v7h-7zM654 412h14v7h-14zM998 412h7v7h-7zM668 406h14v6h-14zM998 406h14v6h-14zM675 399h7v7h-7zM1005 399h7v7h-7zM675 393h7v6h-7zM675 386h14v7h-14zM1012 386h7v7h-7zM675 379h21v7h-21zM1019 379h7v7h-7zM682 373h14v6h-14zM1026 366h7v7h-7zM696 360h7v6h-7zM696 353h14v7h-14zM1033 353h7v7h-7zM1033 347h14v6h-14zM703 340h7v7h-7zM1040 340h14v7h-14zM703 333h7v7h-7zM1047 333h7v7h-7zM703 327h7v6h-7zM1054 327h4v6h-4zM703 320h7v7h-7zM1054 320h4v7h-4zM703 314h7v6h-7zM703 307h7v7h-7zM703 294h7v6h-7zM703 287h7v7h-7zM703 281h14v6h-14zM703 274h14v7h-14zM710 268h7v6h-7zM710 261h7v7h-7zM703 254h21v7h-21zM710 248h7v6h-7zM717 241h7v7h-7zM717 235h14v6h-14zM724 228h7v7h-7zM724 221h14v7h-14zM731 215h7v6h-7zM731 208h14v7h-14zM738 202h7v6h-7zM738 195h7v7h-7zM745 189h7v6h-7zM745 182h7v7h-7zM745 175h7v7h-7zM752 169h7v6h-7zM752 162h7v7h-7zM752 156h7v6h-7zM752 149h14v7h-14zM752 142h14v7h-14zM759 129h7v7h-7zM759 123h7v6h-7zM759 116h7v7h-7zM766 110h7v6h-7zM766 103h14v7h-14zM766 96h14v7h-14zM773 90h7v6h-7zM766 86h14v4h-14z"/>
<path fill="#482474" d="M942 478h14v4h-14zM956 472h7v6h-7zM956 465h7v7h-7zM963 458h7v7h-7zM963 452h14v6h-14zM970 445h14v7h-14zM984 439h7v6h-7zM636 432h4v7h-4zM984 432h14v7h-14zM636 426h11v6h-11zM991 426h7v6h-7zM636 419h18v7h-18zM998 419h7v7h-7zM640 412h14v7h-14zM1005 412h7v7h-7zM647 406h21v6h-21zM654 399h21v7h-21zM1012 399h7v7h-7zM654 393h21v6h-21zM1012 393h14v6h-14zM661 386h14v7h-14zM1019 386h7v7h-7zM668 379h7v7h-7zM668 373h14v6h-14zM1026 373h7v6h-7zM1040 373h7v6h-7zM675 366h21v7h-21zM1033 366h14v7h-14zM682 360h14v6h-14zM1033 360h14v6h-14zM1040 353h7v7h-7zM696 347h7v6h-7zM1047 347h7v6h-7zM696 340h7v7h-7zM1054 340h4v7h-4zM696 333h7v7h-7zM1054 333h4v7h-4zM696 327h7v6h-7zM696 320h7v7h-7zM696 314h7v6h-7zM703 300h7v7h-7zM696 281h7v6h-7zM696 268h14v6h-14zM703 261h7v7h-7zM696 254h7v7h-7zM696 248h14v6h-14zM696 241h21v7h-21zM703 235h14v6h-14zM710 228h14v7h-14zM710 221h14v7h-14zM724 215h7v6h-7zM724 208h7v7h-7zM724 202h14v6h-14zM731 195h7v7h-7zM724 189h7v6h-7zM738 189h7v6h-7zM731 182h14v7h-14zM731 175h14v7h-14zM745 169h7v6h-7zM738 162h14v7h-14zM745 156h7v6h-7zM745 149h7v7h-7zM752 136h7v6h-7zM752 129h7v7h-7zM752 123h7v6h-7zM766 116h7v7h-7zM759 110h7v6h-7zM752 103h14v7h-14zM759 96h7v7h-7zM759 90h14v6h-14z"/>
<path fill="#481d6e" d="M956 478h14v4h-14zM963 472h7v6h-7zM963 465h7v7h-7zM970 458h14v7h-14zM977 452h7v6h-7zM984 445h7v7h-7zM991 439h14v6h-14zM998 432h14v7h-14zM998 426h14v6h-14zM1005 419h7v7h-7zM636 412h4v7h-4zM1012 412h7v7h-7zM636 406h11v6h-11zM1012 406h14v6h-14zM636 399h18v7h-18zM1019 399h7v7h-7zM640 393h14v6h-14zM1026 393h7v6h-7zM654 386h7v7h-7zM1026 386h14v7h-14zM647 379h21v7h-21zM1026 379h14v7h-14zM647 373h21v6h-21zM1033 373h7v6h-7zM1047 373h7v6h-7zM668 366h7v7h-7zM1047 366h7v7h-7zM675 360h7v6h-7zM1047 360h7v6h-7zM675 353h21v7h-21zM1047 353h11v7h-11zM689 347h7v6h-7zM1054 347h4v6h-4zM682 340h7v7h-7zM682 333h14v7h-14zM682 327h14v6h-14zM689 314h7v6h-7zM682 307h7v7h-7zM696 307h7v7h-7zM689 300h14v7h-14zM689 294h14v6h-14zM689 287h14v7h-14zM689 281h7v6h-7zM689 274h14v7h-14zM689 268h7v6h-7zM689 261h14v7h-14zM682 248h14v6h-14zM689 241h7v7h-7zM682 235h21v6h-21zM689 228h21v7h-21zM696 221h14v7h-14zM696 215h28v6h-28zM710 208h14v7h-14zM710 202h14v6h-14zM710 195h21v7h-21zM731 189h7v6h-7zM724 182h7v7h-7zM724 175h7v7h-7zM724 169h21v6h-21zM724 162h14v7h-14zM738 156h7v6h-7zM738 149h7v7h-7zM738 142h14v7h-14zM745 136h7v6h-7zM745 129h7v7h-7zM745 123h7v6h-7zM745 116h14v7h-14zM745 110h14v6h-14zM745 103h7v7h-7zM752 96h7v7h-7zM752 90h7v6h-7zM752 86h14v4h-14z"/>
<path fill="#471466" d="M970 478h21v4h-21zM970 472h28v6h-28zM970 465h28v7h-28zM984 458h28v7h-28zM984 452h21v6h-21zM1012 452h7v6h-7zM991 445h21v7h-21zM1012 439h7v6h-7zM1012 432h7v7h-7zM1012 426h7v6h-7zM1012 419h14v7h-14zM1033 419h7v7h-7zM1019 412h14v7h-14zM1026 406h14v6h-14zM1026 399h28v7h-28zM636 393h4v6h-4zM1033 393h21v6h-21zM636 386h18v7h-18zM1040 386h18v7h-18zM636 379h11v7h-11zM1040 379h18v7h-18zM640 373h7v6h-7zM1054 373h4v6h-4zM640 366h28v7h-28zM1054 366h4v7h-4zM640 360h14v6h-14zM661 360h14v6h-14zM1054 360h4v6h-4zM661 353h14v7h-14zM668 347h21v6h-21zM675 340h7v7h-7zM689 340h7v7h-7zM668 333h14v7h-14zM668 327h14v6h-14zM668 320h28v7h-28zM675 314h14v6h-14zM668 307h14v7h-14zM689 307h7v7h-7zM661 300h28v7h-28zM675 294h14v6h-14zM668 287h21v7h-21zM668 281h21v6h-21zM675 274h14v7h-14zM668 268h21v6h-21zM661 261h28v7h-28zM668 254h28v7h-28zM668 248h14v6h-14zM668 241h21v7h-21zM675 235h7v6h-7zM682 228h7v7h-7zM675 221h21v7h-21zM682 215h14v6h-14zM682 208h28v7h-28zM682 202h28v6h-28zM703 195h7v7h-7zM710 189h14v6h-14zM710 182h14v7h-14zM703 175h21v7h-21zM710 169h14v6h-14zM717 162h7v7h-7zM710 156h7v6h-7zM724 156h14v6h-14zM724 149h14v7h-14zM724 142h14v7h-14zM731 136h14v6h-14zM731 129h14v7h-14zM738 123h7v6h-7zM731 116h14v7h-14zM738 110h7v6h-7zM738 103h7v7h-7zM738 96h14v7h-14zM738 90h14v6h-14z"/>
<path fill="#460a5d" d="M991 478h35v4h-35zM1033 478h25v4h-25zM998 472h60v6h-60zM998 465h28v7h-28zM1033 465h25v7h-25zM1012 458h28v7h-28zM1047 458h11v7h-11zM1005 452h7v6h-7zM1019 452h21v6h-21zM1047 452h11v6h-11zM1012 445h46v7h-46zM1005 439h7v6h-7zM1019 439h35v6h-35zM1019 432h39v7h-39zM1019 426h39v6h-39zM1026 419h7v7h-7zM1040 419h18v7h-18zM1033 412h25v7h-25zM1040 406h18v6h-18zM1054 399h4v7h-4zM1054 393h4v6h-4zM636 373h4v6h-4zM636 366h4v7h-4zM636 360h4v6h-4zM654 360h7v6h-7zM640 353h21v7h-21zM636 347h32v6h-32zM636 340h39v7h-39zM636 333h32v7h-32zM636 327h4v6h-4zM647 327h21v6h-21zM636 320h4v7h-4zM647 320h21v7h-21zM640 314h35v6h-35zM640 307h28v7h-28zM647 300h14v7h-14zM647 294h28v6h-28zM647 287h21v7h-21zM640 281h7v6h-7zM654 281h14v6h-14zM640 274h35v7h-35zM640 268h28v6h-28zM640 261h21v7h-21zM636 254h11v7h-11zM654 254h14v7h-14zM640 248h28v6h-28zM636 241h32v7h-32zM640 235h35v6h-35zM636 228h46v7h-46zM636 221h11v7h-11zM654 221h21v7h-21zM636 215h46v6h-46zM661 208h21v7h-21zM654 202h28v6h-28zM668 195h35v7h-35zM668 189h42v6h-42zM675 182h35v7h-35zM682 175h21v7h-21zM661 169h7v6h-7zM689 169h21v6h-21zM703 162h14v7h-14zM703 156h7v6h-7zM717 156h7v6h-7zM703 149h21v7h-21zM710 142h14v7h-14zM710 136h21v6h-21zM710 129h21v7h-21zM717 123h21v6h-21zM717 116h14v7h-14zM724 110h14v6h-14zM724 103h14v7h-14zM724 96h14v7h-14zM724 90h14v6h-14zM717 86h35v4h-35z"/>
<path fill="#440154" d="M1026 478h7v4h-7zM1026 465h7v7h-7zM1040 458h7v7h-7zM1040 452h7v6h-7zM1054 439h4v6h-4zM636 353h4v7h-4zM640 327h7v6h-7zM640 320h7v7h-7zM636 314h4v6h-4zM636 307h4v7h-4zM636 300h11v7h-11zM636 294h11v6h-11zM636 287h11v7h-11zM636 281h4v6h-4zM647 281h7v6h-7zM636 274h4v7h-4zM636 268h4v6h-4zM636 261h4v7h-4zM647 254h7v7h-7zM636 248h4v6h-4zM636 235h4v6h-4zM647 221h7v7h-7zM636 208h25v7h-25zM636 202h18v6h-18zM636 195h32v7h-32zM636 189h32v6h-32zM636 182h39v7h-39zM636 175h46v7h-46zM636 169h25v6h-25zM668 169h21v6h-21zM636 162h67v7h-67zM636 156h67v6h-67zM636 149h67v7h-67zM636 142h74v7h-74zM636 136h74v6h-74zM636 129h74v7h-74zM636 123h81v6h-81zM636 116h81v7h-81zM636 110h88v6h-88zM636 103h88v7h-88zM636 96h88v7h-88zM636 90h88v6h-88zM636 86h81v4h-81z"/>
<path fill="#463480" d="M636 472h4v6h-4zM935 472h7v6h-7zM636 465h11v7h-11zM942 465h7v7h-7zM636 458h25v7h-25zM942 458h14v7h-14zM636 452h11v6h-11zM654 452h7v6h-7zM949 452h7v6h-7zM640 445h28v7h-28zM661 439h14v6h-14zM963 439h7v6h-7zM661 432h14v7h-14zM970 432h14v7h-14zM661 426h21v6h-21zM977 426h7v6h-7zM668 419h7v7h-7zM984 419h7v7h-7zM668 412h14v7h-14zM991 412h7v7h-7zM682 406h7v6h-7zM991 406h7v6h-7zM682 399h14v7h-14zM998 399h7v7h-7zM682 393h21v6h-21zM1005 393h7v6h-7zM689 386h7v7h-7zM696 379h7v7h-7zM1012 379h7v7h-7zM1019 373h7v6h-7zM696 366h14v7h-14zM1019 366h7v7h-7zM703 360h7v6h-7zM1026 360h7v6h-7zM1026 353h7v7h-7zM703 347h7v6h-7zM710 340h7v7h-7zM1033 340h7v7h-7zM710 333h7v7h-7zM1040 333h7v7h-7zM710 327h7v6h-7zM1047 327h7v6h-7zM710 320h7v7h-7zM1047 320h7v7h-7zM710 314h7v6h-7zM1054 314h4v6h-4zM710 307h7v7h-7zM1054 307h4v7h-4zM710 300h7v7h-7zM710 294h7v6h-7zM710 287h7v7h-7zM717 274h7v7h-7zM717 268h7v6h-7zM717 261h14v7h-14zM717 248h14v6h-14zM724 241h7v7h-7zM731 235h7v6h-7zM731 228h7v7h-7zM738 221h7v7h-7zM738 215h14v6h-14zM745 202h7v6h-7zM745 195h14v7h-14zM752 189h7v6h-7zM752 182h7v7h-7zM752 175h7v7h-7zM759 169h7v6h-7zM759 162h7v7h-7zM759 156h7v6h-7zM766 149h7v7h-7zM766 142h7v7h-7zM759 136h14v6h-14zM766 129h14v7h-14zM766 123h14v6h-14zM773 116h7v7h-7zM773 110h7v6h-7zM780 103h7v7h-7zM780 96h7v7h-7zM780 90h7v6h-7zM780 86h7v4h-7z"/>
<path fill="#22a884" d="M766 472h7v6h-7zM766 465h28v7h-28zM822 465h14v7h-14zM780 458h7v7h-7zM822 458h14v7h-14zM780 452h14v6h-14zM829 452h7v6h-7zM808 445h7v7h-7zM822 445h7v7h-7zM787 439h14v6h-14zM822 439h7v6h-7zM808 432h7v7h-7zM829 432h14v7h-14zM815 426h7v6h-7zM801 419h7v7h-7zM822 419h7v7h-7zM829 412h7v7h-7zM843 412h15v7h-15zM879 412h14v7h-14zM822 406h21v6h-21zM858 406h7v6h-7zM914 406h7v6h-7zM928 406h7v6h-7zM829 399h7v7h-7zM928 399h14v7h-14zM815 393h7v6h-7zM942 386h7v7h-7zM949 379h7v7h-7zM801 373h14v6h-14zM949 373h7v6h-7zM956 353h7v7h-7zM970 320h7v7h-7zM977 314h7v6h-7zM998 268h7v6h-7zM1005 261h7v7h-7zM998 254h14v7h-14zM998 248h7v6h-7zM794 241h7v7h-7zM1012 241h7v7h-7zM1005 235h7v6h-7zM808 215h7v6h-7zM1005 215h14v6h-14zM1012 208h7v7h-7zM1012 202h7v6h-7zM1019 195h7v7h-7zM822 182h7v7h-7zM1019 175h7v7h-7zM829 169h7v6h-7zM1019 169h14v6h-14zM836 162h7v7h-7zM1019 162h14v7h-14zM1033 142h7v7h-7zM858 136h7v6h-7zM1033 136h7v6h-7zM858 129h7v7h-7zM1054 129h4v7h-4zM872 103h7v7h-7zM872 86h7v4h-7z"/>
<path fill="#5ec862" d="M872 399h7v7h-7zM865 393h35v6h-35zM907 393h14v6h-14zM843 386h8v7h-8zM858 386h7v7h-7zM928 379h7v7h-7zM822 373h7v6h-7zM935 360h7v6h-7zM935 353h7v7h-7zM949 333h7v7h-7zM801 327h7v6h-7zM949 327h7v6h-7zM794 300h7v7h-7zM794 294h7v6h-7zM970 294h7v6h-7zM794 287h7v7h-7zM794 268h7v6h-7zM991 261h7v7h-7zM991 254h7v7h-7zM991 241h7v7h-7zM808 235h7v6h-7zM991 228h7v7h-7zM815 215h7v6h-7zM836 182h7v7h-7zM851 162h7v7h-7zM998 162h7v7h-7zM1005 149h7v7h-7zM865 142h7v7h-7zM872 123h7v6h-7zM1040 116h7v7h-7zM1054 110h4v6h-4z"/>
<path fill="#50c36a" d="M879 399h14v7h-14zM900 399h7v7h-7zM858 393h7v6h-7zM829 386h14v7h-14zM921 386h14v7h-14zM822 379h7v7h-7zM935 379h7v7h-7zM815 366h7v7h-7zM935 366h7v7h-7zM942 360h7v6h-7zM942 353h7v7h-7zM801 340h7v7h-7zM942 340h14v7h-14zM801 333h7v7h-7zM794 320h7v7h-7zM956 320h7v7h-7zM794 314h7v6h-7zM794 307h7v7h-7zM970 300h7v7h-7zM977 287h7v7h-7zM794 281h7v6h-7zM984 274h7v7h-7zM794 261h7v7h-7zM991 248h7v6h-7zM991 235h7v6h-7zM808 228h7v7h-7zM991 221h7v7h-7zM822 189h7v6h-7zM998 189h7v6h-7zM843 169h8v6h-8zM998 169h7v6h-7zM858 149h7v7h-7zM1012 142h7v7h-7zM865 136h7v6h-7zM1019 129h7v7h-7zM1026 123h14v6h-14zM872 116h7v7h-7zM1047 116h7v7h-7zM879 103h7v7h-7z"/>
<path fill="#6ccc5a" d="M900 393h7v6h-7zM865 386h14v7h-14zM914 386h7v7h-7zM829 379h7v7h-7zM935 373h7v6h-7zM928 366h7v7h-7zM815 360h7v6h-7zM935 347h7v6h-7zM949 320h7v7h-7zM963 307h7v7h-7zM984 268h7v6h-7zM801 254h7v7h-7zM991 215h7v6h-7zM822 202h7v6h-7zM991 202h7v6h-7zM829 195h7v7h-7zM836 189h7v6h-7zM991 189h7v6h-7zM991 182h7v7h-7zM843 175h8v7h-8zM851 169h7v6h-7zM858 156h7v6h-7zM998 156h7v6h-7zM998 149h7v7h-7zM1005 142h7v7h-7zM1012 136h7v6h-7zM1012 129h7v7h-7zM879 116h7v7h-7zM1033 116h7v7h-7zM879 110h7v6h-7zM1047 110h7v6h-7zM1047 103h11v7h-11zM886 90h7v6h-7zM1054 90h4v6h-4zM886 86h7v4h-7z"/>
<path fill="#7ad151" d="M851 386h7v7h-7zM893 386h14v7h-14zM836 379h15v7h-15zM865 379h7v7h-7zM921 373h7v6h-7zM822 366h7v7h-7zM921 366h7v7h-7zM928 353h7v7h-7zM935 340h7v7h-7zM935 333h14v7h-14zM801 320h7v7h-7zM949 314h14v6h-14zM801 307h7v7h-7zM801 294h7v6h-7zM794 274h7v7h-7zM801 261h7v7h-7zM984 254h7v7h-7zM808 241h7v7h-7zM815 221h7v7h-7zM991 208h7v7h-7zM991 195h7v7h-7zM991 175h7v7h-7zM991 169h7v6h-7zM858 162h7v7h-7zM991 162h7v7h-7zM865 149h7v7h-7zM872 136h7v6h-7zM872 129h7v7h-7zM1019 123h7v6h-7zM886 110h7v6h-7zM1040 110h7v6h-7zM1054 96h4v7h-4zM1054 86h4v4h-4z"/>
<path fill="#8ad547" d="M879 386h14v7h-14zM907 386h7v7h-7zM851 379h14v7h-14zM914 379h14v7h-14zM829 373h7v6h-7zM843 373h8v6h-8zM928 373h7v6h-7zM928 360h7v6h-7zM808 347h7v6h-7zM928 347h7v6h-7zM808 340h7v7h-7zM928 340h7v7h-7zM942 327h7v6h-7zM801 314h7v6h-7zM956 307h7v7h-7zM963 300h7v7h-7zM963 294h7v6h-7zM970 287h7v7h-7zM801 281h7v6h-7zM977 281h7v6h-7zM984 261h7v7h-7zM822 208h7v7h-7zM843 182h8v7h-8zM851 175h7v7h-7zM858 169h7v6h-7zM998 142h7v7h-7zM1005 136h7v6h-7zM879 123h7v6h-7zM886 116h7v7h-7zM1019 116h14v7h-14zM886 103h7v7h-7zM1040 103h7v7h-7zM886 96h7v7h-7zM1047 96h7v7h-7zM1047 86h7v4h-7z"/>
<path fill="#9ad83d" d="M872 379h7v7h-7zM893 379h7v7h-7zM907 379h7v7h-7zM836 373h7v6h-7zM851 373h7v6h-7zM921 360h7v6h-7zM921 353h7v7h-7zM801 300h7v7h-7zM801 287h7v7h-7zM801 274h7v7h-7zM801 268h7v6h-7zM984 248h7v6h-7zM984 241h7v7h-7zM984 235h7v6h-7zM815 228h7v7h-7zM984 228h7v7h-7zM822 215h7v6h-7zM836 195h7v7h-7zM843 189h8v6h-8zM851 182h7v7h-7zM872 142h7v7h-7zM998 136h7v6h-7zM1012 123h7v6h-7zM1012 116h7v7h-7zM1026 110h14v6h-14zM1033 103h7v7h-7zM1040 96h7v7h-7zM1033 90h7v6h-7zM1047 90h7v6h-7z"/>
<path fill="#bcde28" d="M879 379h7v7h-7zM858 373h7v6h-7zM872 373h7v6h-7zM893 373h28v6h-28zM914 366h7v7h-7zM914 353h7v7h-7zM815 347h7v6h-7zM921 347h7v6h-7zM935 327h7v6h-7zM935 320h7v7h-7zM808 314h7v6h-7zM949 307h7v7h-7zM970 274h14v7h-14zM977 268h7v6h-7zM977 261h7v7h-7zM808 254h7v7h-7zM815 241h7v7h-7zM815 235h7v6h-7zM984 221h7v7h-7zM984 208h7v7h-7zM843 195h8v7h-8zM851 189h7v6h-7zM858 182h7v7h-7zM865 169h7v6h-7zM879 136h7v6h-7zM998 129h7v7h-7zM998 123h14v6h-14zM1019 103h7v7h-7zM1026 96h14v7h-14zM1026 90h7v6h-7zM1026 86h21v4h-21z"/>
<path fill="#abdc33" d="M886 379h7v7h-7zM900 379h7v7h-7zM865 373h7v6h-7zM829 366h7v7h-7zM843 366h8v7h-8zM907 366h7v7h-7zM822 360h7v6h-7zM914 360h7v6h-7zM815 353h7v7h-7zM808 333h7v7h-7zM928 333h7v7h-7zM808 327h7v6h-7zM942 320h7v7h-7zM956 300h7v7h-7zM963 287h7v7h-7zM808 248h7v6h-7zM822 221h7v7h-7zM984 215h7v6h-7zM829 208h7v7h-7zM829 202h7v6h-7zM984 202h7v6h-7zM858 175h7v7h-7zM865 162h7v7h-7zM865 156h7v6h-7zM991 156h7v6h-7zM991 149h7v7h-7zM879 129h7v7h-7zM1005 129h7v7h-7zM1019 110h7v6h-7zM1026 103h7v7h-7zM893 96h7v7h-7zM893 90h7v6h-7zM1040 90h7v6h-7zM893 86h7v4h-7z"/>
<path fill="#cce11e" d="M879 373h14v6h-14zM836 366h7v7h-7zM829 360h7v6h-7zM914 347h7v6h-7zM815 340h7v7h-7zM921 340h7v7h-7zM808 320h7v7h-7zM942 314h7v6h-7zM808 307h7v7h-7zM956 294h7v6h-7zM808 281h7v6h-7zM963 281h14v6h-14zM808 268h7v6h-7zM977 254h7v7h-7zM977 248h7v6h-7zM836 202h7v6h-7zM984 182h7v7h-7zM984 169h7v6h-7zM984 162h7v7h-7zM872 149h7v7h-7zM991 142h7v7h-7zM893 110h7v6h-7zM1012 110h7v6h-7zM893 103h7v7h-7zM1019 96h7v7h-7zM900 86h7v4h-7z"/>
<path fill="#ede521" d="M851 366h14v7h-14zM872 366h28v7h-28zM836 360h7v6h-7zM907 347h7v6h-7zM914 340h7v7h-7zM815 333h7v7h-7zM815 327h7v6h-7zM921 327h7v6h-7zM949 300h7v7h-7zM808 294h7v6h-7zM949 294h7v6h-7zM808 287h7v7h-7zM956 287h7v7h-7zM808 274h7v7h-7zM815 248h7v6h-7zM977 235h7v6h-7zM822 228h7v7h-7zM977 221h7v7h-7zM829 215h7v6h-7zM977 215h7v6h-7zM977 195h7v7h-7zM858 189h7v6h-7zM865 175h7v7h-7zM879 142h7v7h-7zM991 136h7v6h-7zM886 129h7v7h-7zM893 116h7v7h-7zM998 116h7v7h-7zM998 110h14v6h-14zM900 103h7v7h-7zM1005 103h7v7h-7zM1012 90h14v6h-14zM1019 86h7v4h-7z"/>
<path fill="#fde725" d="M865 366h7v7h-7zM843 360h64v6h-64zM829 353h85v7h-85zM822 347h85v6h-85zM822 340h92v7h-92zM822 333h99v7h-99zM822 327h99v6h-99zM815 320h113v7h-113zM815 314h127v6h-127zM815 307h134v7h-134zM815 300h134v7h-134zM815 294h134v6h-134zM815 287h141v7h-141zM815 281h148v6h-148zM815 274h155v7h-155zM815 268h162v6h-162zM815 261h162v7h-162zM815 254h162v7h-162zM822 248h155v6h-155zM822 241h155v7h-155zM822 235h155v6h-155zM829 228h155v7h-155zM829 221h148v7h-148zM836 215h141v6h-141zM843 208h141v7h-141zM851 202h133v6h-133zM851 195h126v7h-126zM865 189h119v6h-119zM865 182h119v7h-119zM872 175h112v7h-112zM872 169h112v6h-112zM872 162h112v7h-112zM879 156h105v6h-105zM879 149h112v7h-112zM886 142h105v7h-105zM886 136h105v6h-105zM893 129h105v7h-105zM893 123h105v6h-105zM900 116h98v7h-98zM900 110h98v6h-98zM907 103h98v7h-98zM1012 103h7v7h-7zM900 96h119v7h-119zM907 90h105v6h-105zM907 86h112v4h-112z"/>
<path fill="#dde31e" d="M900 366h7v7h-7zM907 360h7v6h-7zM822 353h7v7h-7zM921 333h7v7h-7zM928 327h7v6h-7zM928 320h7v7h-7zM808 300h7v7h-7zM808 261h7v7h-7zM977 241h7v7h-7zM836 208h7v7h-7zM843 202h8v6h-8zM984 195h7v7h-7zM984 189h7v6h-7zM984 175h7v7h-7zM872 156h7v6h-7zM984 156h7v6h-7zM886 123h7v6h-7zM1005 116h7v7h-7zM900 90h7v6h-7z"/>
<path d="M748.5 481.5v-6.5M748.5 86.5v6.5M861.1 481.5v-6.5M861.1 86.5v6.5M973.6 481.5v-6.5M973.6 86.5v6.5M636.0 376.2h6.5M1058.0 376.2h-6.5M636.0 270.8h6.5M1058.0 270.8h-6.5M636.0 165.5h6.5M1058.0 165.5h-6.5" stroke="#ffffff" stroke-width="1.3" fill="none"/>
<rect x="636.0" y="86.5" width="422.0" height="395.0" fill="none" stroke="#2a2a2a" stroke-width="1.6"/>
<text x="637.0" y="512.0" font-size="29" text-anchor="middle" fill="#262626" font-weight="normal" >0</text>
<text x="749.5" y="512.0" font-size="29" text-anchor="middle" fill="#262626" font-weight="normal" >2</text>
<text x="862.1" y="512.0" font-size="29" text-anchor="middle" fill="#262626" font-weight="normal" >4</text>
<text x="974.6" y="512.0" font-size="29" text-anchor="middle" fill="#262626" font-weight="normal" >6</text>
<text x="625.5" y="494.5" font-size="29" text-anchor="end" fill="#262626" font-weight="normal" >0</text>
<text x="625.5" y="389.2" font-size="29" text-anchor="end" fill="#262626" font-weight="normal" >2</text>
<text x="625.5" y="283.8" font-size="29" text-anchor="end" fill="#262626" font-weight="normal" >4</text>
<text x="625.5" y="178.5" font-size="29" text-anchor="end" fill="#262626" font-weight="normal" >6</text>
<text x="656.0" y="135.0" font-size="25" text-anchor="start" fill="#fff" font-weight="normal" >tML/BL</text>
<text x="741.0" y="461.0" font-size="25" text-anchor="start" fill="#fff" font-weight="normal" >tML/ML</text>
<text x="953.0" y="461.0" font-size="25" text-anchor="start" fill="#fff" font-weight="normal" >tBL/ML</text>
<circle cx="917.1" cy="126.4" r="11.8" fill="none" stroke="#b8203c" stroke-width="5.2"/>
<circle cx="917.1" cy="126.4" r="14.2" fill="none" stroke="#2a1a8a" stroke-width="1.2"/>
<circle cx="917.1" cy="126.4" r="9.3" fill="none" stroke="#2a1a8a" stroke-width="1.2"/>
<circle cx="1001.2" cy="158.7" r="11.8" fill="none" stroke="#e810b0" stroke-width="5.2"/>
<circle cx="1001.2" cy="158.7" r="14.2" fill="none" stroke="#2a1a8a" stroke-width="1.2"/>
<circle cx="1001.2" cy="158.7" r="9.3" fill="none" stroke="#2a1a8a" stroke-width="1.2"/>
<circle cx="861.1" cy="178.8" r="11.8" fill="none" stroke="#1aa0ea" stroke-width="5.2"/>
<circle cx="861.1" cy="178.8" r="14.2" fill="none" stroke="#2a1a8a" stroke-width="1.2"/>
<circle cx="861.1" cy="178.8" r="9.3" fill="none" stroke="#2a1a8a" stroke-width="1.2"/>
<circle cx="832.5" cy="216.3" r="11.8" fill="none" stroke="#0d4a94" stroke-width="5.2"/>
<circle cx="832.5" cy="216.3" r="14.2" fill="none" stroke="#2a1a8a" stroke-width="1.2"/>
<circle cx="832.5" cy="216.3" r="9.3" fill="none" stroke="#2a1a8a" stroke-width="1.2"/>
<circle cx="853.7" cy="236.7" r="11.8" fill="none" stroke="#000010" stroke-width="5.2"/>
<circle cx="853.7" cy="236.7" r="14.2" fill="none" stroke="#2a1a8a" stroke-width="1.2"/>
<circle cx="853.7" cy="236.7" r="9.3" fill="none" stroke="#2a1a8a" stroke-width="1.2"/>
<circle cx="987.4" cy="238.0" r="13.6" fill="none" stroke="#1010c0" stroke-width="1.6"/>
<circle cx="987.4" cy="238.0" r="9.6" fill="none" stroke="#1010c0" stroke-width="1.6"/>
<circle cx="776.5" cy="277.6" r="13.6" fill="none" stroke="#1010d0" stroke-width="1.6"/>
<circle cx="776.5" cy="277.6" r="9.6" fill="none" stroke="#1010d0" stroke-width="1.6"/>
<circle cx="1015.3" cy="277.6" r="13.6" fill="none" stroke="#1010d0" stroke-width="1.6"/>
<circle cx="1015.3" cy="277.6" r="9.6" fill="none" stroke="#1010d0" stroke-width="1.6"/>
<circle cx="973.2" cy="296.9" r="11.8" fill="none" stroke="#8cc048" stroke-width="5.2"/>
<circle cx="973.2" cy="296.9" r="14.2" fill="none" stroke="#2a1a8a" stroke-width="1.2"/>
<circle cx="973.2" cy="296.9" r="9.3" fill="none" stroke="#2a1a8a" stroke-width="1.2"/>
<circle cx="931.1" cy="323.4" r="11.8" fill="none" stroke="#c8602a" stroke-width="5.2"/>
<circle cx="931.1" cy="323.4" r="14.2" fill="none" stroke="#2a1a8a" stroke-width="1.2"/>
<circle cx="931.1" cy="323.4" r="9.3" fill="none" stroke="#2a1a8a" stroke-width="1.2"/>
<circle cx="832.5" cy="349.8" r="11.8" fill="none" stroke="#7a2a9a" stroke-width="5.2"/>
<circle cx="832.5" cy="349.8" r="14.2" fill="none" stroke="#2a1a8a" stroke-width="1.2"/>
<circle cx="832.5" cy="349.8" r="9.3" fill="none" stroke="#2a1a8a" stroke-width="1.2"/>
<circle cx="903.1" cy="369.6" r="11.8" fill="none" stroke="#706860" stroke-width="5.2"/>
<circle cx="903.1" cy="369.6" r="14.2" fill="none" stroke="#2a1a8a" stroke-width="1.2"/>
<circle cx="903.1" cy="369.6" r="9.3" fill="none" stroke="#2a1a8a" stroke-width="1.2"/>
<circle cx="762.4" cy="395.9" r="13.6" fill="none" stroke="#1010d0" stroke-width="1.6"/>
<circle cx="762.4" cy="395.9" r="9.6" fill="none" stroke="#1010d0" stroke-width="1.6"/>
<path d="M710.8 481.5L886.9 91.8" stroke="#ffffff" stroke-width="4.4" stroke-dasharray="9 7.5" stroke-dashoffset="1" fill="none"/>
<path d="M902.4 481.5L1047.9 186.6" stroke="#ffffff" stroke-width="4.4" stroke-dasharray="9 7.5" stroke-dashoffset="1" fill="none"/>
<path fill="#ffadad" d="M1171 475h7v7h-7zM1192 475h14v7h-14zM1220 475h14v7h-14zM1192 462h56v13h-56zM1220 449h14v13h-14zM1192 435h14v14h-14zM1248 435h14v14h-14zM1276 435h15v14h-15zM1192 422h28v13h-28zM1234 422h57v13h-57zM1171 409h7v13h-7zM1192 409h14v13h-14zM1234 409h57v13h-57zM1206 396h42v13h-42zM1276 396h15v13h-15zM1171 383h7v13h-7zM1234 383h14v13h-14zM1178 370h14v13h-14zM1206 370h14v13h-14zM1262 370h14v13h-14zM1178 357h28v13h-28zM1171 343h21v14h-21zM1206 343h14v14h-14zM1178 330h14v13h-14zM1220 330h14v13h-14zM1220 120h28v13h-28zM1178 107h14v13h-14zM1234 107h14v13h-14zM1206 94h28v13h-28zM1178 87h42v7h-42z"/>
<path fill="#ffb1b1" d="M1178 475h14v7h-14zM1171 462h21v13h-21zM1178 449h14v13h-14zM1206 449h14v13h-14zM1248 449h14v13h-14zM1178 435h14v14h-14zM1220 435h14v14h-14zM1178 422h14v13h-14zM1178 409h14v13h-14zM1206 409h28v13h-28zM1178 396h14v13h-14zM1248 396h28v13h-28zM1178 383h28v13h-28zM1220 383h14v13h-14zM1171 370h7v13h-7zM1171 357h7v13h-7zM1171 317h7v13h-7zM1178 120h14v13h-14z"/>
<path fill="#ffb6b6" d="M1206 475h14v7h-14zM1171 449h7v13h-7zM1171 435h7v14h-7zM1171 422h7v13h-7zM1171 396h7v13h-7z"/>
<path fill="#fbfbff" d="M1234 475h28v7h-28zM1305 475h28v7h-28zM1417 475h28v7h-28zM1459 475h14v7h-14zM1291 462h14v13h-14zM1319 462h14v13h-14zM1262 449h14v13h-14zM1375 449h28v13h-28zM1305 435h14v14h-14zM1347 435h14v14h-14zM1389 435h14v14h-14zM1305 422h14v13h-14zM1347 422h42v13h-42zM1459 422h14v13h-14zM1375 409h14v13h-14zM1403 409h42v13h-42zM1291 396h28v13h-28zM1333 396h14v13h-14zM1403 396h14v13h-14zM1333 383h14v13h-14zM1417 383h42v13h-42zM1291 370h28v13h-28zM1375 370h28v13h-28zM1431 370h14v13h-14zM1501 370h14v13h-14zM1319 357h14v13h-14zM1389 357h14v13h-14zM1276 343h15v14h-15zM1431 343h14v14h-14zM1473 343h28v14h-28zM1361 330h14v13h-14zM1403 330h14v13h-14zM1487 330h14v13h-14zM1305 317h14v13h-14zM1333 317h14v13h-14zM1375 317h42v13h-42zM1445 317h14v13h-14zM1473 317h14v13h-14zM1262 304h14v13h-14zM1305 304h28v13h-28zM1347 304h14v13h-14zM1389 304h14v13h-14zM1459 304h14v13h-14zM1276 291h15v13h-15zM1347 291h28v13h-28zM1417 291h14v13h-14zM1487 291h14v13h-14zM1333 278h14v13h-14zM1361 278h14v13h-14zM1389 278h14v13h-14zM1417 278h28v13h-28zM1487 278h28v13h-28zM1347 265h42v13h-42zM1445 265h14v13h-14zM1473 265h14v13h-14zM1515 265h15v13h-15zM1544 265h14v13h-14zM1389 251h14v14h-14zM1417 251h14v14h-14zM1445 251h14v14h-14zM1473 251h14v14h-14zM1389 238h14v13h-14zM1459 238h14v13h-14zM1487 238h14v13h-14zM1530 238h14v13h-14zM1558 238h14v13h-14zM1361 225h14v13h-14zM1389 225h28v13h-28zM1445 225h42v13h-42zM1501 225h14v13h-14zM1530 225h14v13h-14zM1459 212h14v13h-14zM1501 212h14v13h-14zM1558 212h14v13h-14zM1361 199h14v13h-14zM1403 199h14v13h-14zM1431 199h56v13h-56zM1501 199h14v13h-14zM1530 199h14v13h-14zM1558 199h14v13h-14zM1347 186h28v13h-28zM1403 186h14v13h-14zM1431 186h28v13h-28zM1487 186h14v13h-14zM1515 186h15v13h-15zM1572 186h14v13h-14zM1403 172h14v14h-14zM1459 172h14v14h-14zM1544 172h14v14h-14zM1572 172h14v14h-14zM1389 146h14v13h-14zM1572 133h14v13h-14zM1558 120h14v13h-14zM1586 107h7v13h-7zM1501 94h14v13h-14zM1558 94h28v13h-28z"/>
<path fill="#ffffff" d="M1262 475h29v7h-29zM1333 475h28v7h-28zM1389 475h14v7h-14zM1473 475h14v7h-14zM1501 475h14v7h-14zM1333 462h14v13h-14zM1375 462h28v13h-28zM1431 462h28v13h-28zM1276 449h57v13h-57zM1361 449h14v13h-14zM1417 449h14v13h-14zM1445 449h14v13h-14zM1473 449h14v13h-14zM1319 435h28v14h-28zM1445 435h14v14h-14zM1333 422h14v13h-14zM1417 422h28v13h-28zM1291 409h14v13h-14zM1347 409h14v13h-14zM1445 409h42v13h-42zM1347 396h14v13h-14zM1305 383h28v13h-28zM1347 383h14v13h-14zM1375 383h28v13h-28zM1473 383h14v13h-14zM1333 370h14v13h-14zM1403 370h14v13h-14zM1445 370h14v13h-14zM1487 370h14v13h-14zM1276 357h29v13h-29zM1361 357h28v13h-28zM1459 357h42v13h-42zM1333 343h14v14h-14zM1361 343h28v14h-28zM1403 343h28v14h-28zM1305 330h14v13h-14zM1333 330h14v13h-14zM1417 330h14v13h-14zM1445 330h14v13h-14zM1501 330h14v13h-14zM1431 317h14v13h-14zM1459 317h14v13h-14zM1487 317h14v13h-14zM1403 304h14v13h-14zM1445 304h14v13h-14zM1473 304h14v13h-14zM1501 304h14v13h-14zM1262 291h14v13h-14zM1305 291h14v13h-14zM1375 291h28v13h-28zM1431 291h14v13h-14zM1459 291h14v13h-14zM1319 278h14v13h-14zM1375 278h14v13h-14zM1403 278h14v13h-14zM1445 278h28v13h-28zM1515 278h29v13h-29zM1319 265h14v13h-14zM1403 265h14v13h-14zM1431 265h14v13h-14zM1459 265h14v13h-14zM1530 265h14v13h-14zM1333 251h14v14h-14zM1361 251h14v14h-14zM1515 251h15v14h-15zM1333 238h14v13h-14zM1403 238h14v13h-14zM1445 238h14v13h-14zM1473 238h14v13h-14zM1501 238h29v13h-29zM1544 238h14v13h-14zM1333 225h14v13h-14zM1375 225h14v13h-14zM1417 225h28v13h-28zM1487 225h14v13h-14zM1544 225h14v13h-14zM1361 212h14v13h-14zM1403 212h14v13h-14zM1431 212h14v13h-14zM1487 212h14v13h-14zM1544 212h14v13h-14zM1417 199h14v13h-14zM1487 199h14v13h-14zM1515 199h15v13h-15zM1544 199h14v13h-14zM1375 186h14v13h-14zM1501 186h14v13h-14zM1544 186h14v13h-14zM1403 159h14v13h-14zM1572 159h14v13h-14zM1445 107h14v13h-14zM1178 94h14v13h-14zM1572 87h14v7h-14z"/>
<path fill="#f7f7ff" d="M1291 475h14v7h-14zM1361 475h28v7h-28zM1262 462h14v13h-14zM1305 462h14v13h-14zM1361 462h14v13h-14zM1403 462h28v13h-28zM1291 435h14v14h-14zM1291 422h14v13h-14zM1389 422h14v13h-14zM1445 422h14v13h-14zM1487 409h14v13h-14zM1389 396h14v13h-14zM1431 396h56v13h-56zM1361 383h14v13h-14zM1403 383h14v13h-14zM1347 357h14v13h-14zM1431 357h28v13h-28zM1347 343h14v14h-14zM1459 343h14v14h-14zM1276 330h15v13h-15zM1347 330h14v13h-14zM1389 330h14v13h-14zM1459 330h14v13h-14zM1319 317h14v13h-14zM1347 317h14v13h-14zM1276 304h15v13h-15zM1333 304h14v13h-14zM1417 304h28v13h-28zM1291 291h14v13h-14zM1515 291h15v13h-15zM1347 278h14v13h-14zM1487 265h28v13h-28zM1347 251h14v14h-14zM1459 251h14v14h-14zM1501 251h14v14h-14zM1530 251h28v14h-28zM1361 238h14v13h-14zM1431 238h14v13h-14zM1347 225h14v13h-14zM1515 225h15v13h-15zM1333 212h14v13h-14zM1375 212h14v13h-14zM1417 212h14v13h-14zM1445 212h14v13h-14zM1473 212h14v13h-14zM1530 212h14v13h-14zM1389 199h14v13h-14zM1473 186h14v13h-14zM1530 186h14v13h-14zM1558 186h14v13h-14zM1361 172h14v14h-14zM1417 172h14v14h-14zM1445 172h14v14h-14zM1473 172h28v14h-28zM1375 159h14v13h-14zM1403 146h84v13h-84zM1558 146h14v13h-14zM1586 146h7v13h-7zM1403 133h14v13h-14zM1473 133h42v13h-42zM1558 133h14v13h-14zM1403 120h14v13h-14zM1445 120h28v13h-28zM1431 94h14v13h-14zM1473 94h14v13h-14zM1515 94h43v13h-43zM1586 94h7v13h-7zM1417 87h14v7h-14zM1445 87h14v7h-14zM1515 87h15v7h-15zM1544 87h14v7h-14zM1586 87h7v7h-7z"/>
<path fill="#fffbfb" d="M1403 475h14v7h-14zM1445 475h14v7h-14zM1487 475h14v7h-14zM1248 462h14v13h-14zM1276 462h15v13h-15zM1347 462h14v13h-14zM1333 449h28v13h-28zM1361 435h14v14h-14zM1319 422h14v13h-14zM1403 422h14v13h-14zM1305 409h42v13h-42zM1361 409h14v13h-14zM1389 409h14v13h-14zM1319 396h14v13h-14zM1361 396h28v13h-28zM1417 396h14v13h-14zM1276 383h15v13h-15zM1459 383h14v13h-14zM1487 383h14v13h-14zM1319 370h14v13h-14zM1347 370h28v13h-28zM1417 370h14v13h-14zM1459 370h28v13h-28zM1333 357h14v13h-14zM1417 357h14v13h-14zM1291 343h28v14h-28zM1389 343h14v14h-14zM1291 330h14v13h-14zM1319 330h14v13h-14zM1375 330h14v13h-14zM1431 330h14v13h-14zM1276 317h29v13h-29zM1361 317h14v13h-14zM1417 317h14v13h-14zM1501 317h14v13h-14zM1291 304h14v13h-14zM1375 304h14v13h-14zM1487 304h14v13h-14zM1319 291h28v13h-28zM1403 291h14v13h-14zM1473 291h14v13h-14zM1501 291h14v13h-14zM1473 278h14v13h-14zM1375 251h14v14h-14zM1403 251h14v14h-14zM1431 251h14v14h-14zM1487 251h14v14h-14zM1347 238h14v13h-14zM1347 212h14v13h-14zM1515 212h15v13h-15zM1347 199h14v13h-14zM1389 186h14v13h-14zM1389 133h14v13h-14zM1417 133h14v13h-14z"/>
<path fill="#ff5c5c" d="M1515 475h29v7h-29zM1459 462h71v13h-71zM1558 462h14v13h-14zM1586 462h7v13h-7zM1459 449h14v13h-14zM1515 449h15v13h-15zM1586 449h7v13h-7zM1473 435h28v14h-28zM1515 435h29v14h-29zM1558 435h35v14h-35zM1473 422h28v13h-28zM1515 422h29v13h-29zM1501 409h14v13h-14zM1530 409h14v13h-14zM1558 409h14v13h-14zM1501 396h57v13h-57zM1501 383h29v13h-29zM1586 383h7v13h-7zM1530 370h28v13h-28zM1530 357h14v13h-14zM1558 357h35v13h-35zM1515 343h15v14h-15zM1544 343h14v14h-14zM1572 343h14v14h-14zM1572 330h14v13h-14zM1530 317h63v13h-63zM1558 291h28v13h-28zM1544 278h28v13h-28zM1586 278h7v13h-7zM1558 265h35v13h-35zM1558 251h14v14h-14zM1586 251h7v14h-7zM1572 238h21v13h-21zM1558 225h14v13h-14zM1586 225h7v13h-7zM1572 212h14v13h-14zM1572 199h14v13h-14zM1586 186h7v13h-7z"/>
<path fill="#ff6060" d="M1544 475h49v7h-49zM1530 462h28v13h-28zM1572 462h14v13h-14zM1487 449h28v13h-28zM1530 449h56v13h-56zM1459 435h14v14h-14zM1501 435h14v14h-14zM1544 435h14v14h-14zM1501 422h14v13h-14zM1544 422h49v13h-49zM1515 409h15v13h-15zM1544 409h14v13h-14zM1572 409h21v13h-21zM1487 396h14v13h-14zM1558 396h35v13h-35zM1530 383h56v13h-56zM1515 370h15v13h-15zM1558 370h35v13h-35zM1501 357h29v13h-29zM1544 357h14v13h-14zM1501 343h14v14h-14zM1530 343h14v14h-14zM1558 343h14v14h-14zM1586 343h7v14h-7zM1515 330h57v13h-57zM1586 330h7v13h-7zM1515 317h15v13h-15zM1530 304h42v13h-42zM1530 291h28v13h-28zM1586 291h7v13h-7zM1572 278h14v13h-14zM1572 251h14v14h-14zM1572 225h14v13h-14zM1586 212h7v13h-7zM1586 199h7v13h-7z"/>
<path fill="#ffa9a9" d="M1192 449h14v13h-14zM1234 449h14v13h-14zM1206 435h14v14h-14zM1234 435h14v14h-14zM1262 435h14v14h-14zM1220 422h14v13h-14zM1192 396h14v13h-14zM1206 383h14v13h-14zM1248 383h28v13h-28zM1192 370h14v13h-14zM1220 370h14v13h-14zM1276 370h15v13h-15zM1206 357h70v13h-70zM1192 343h14v14h-14zM1220 343h56v14h-56zM1171 330h7v13h-7zM1234 330h14v13h-14zM1262 330h14v13h-14zM1178 317h14v13h-14zM1234 317h14v13h-14zM1171 304h35v13h-35zM1171 291h21v13h-21zM1234 291h28v13h-28zM1171 278h21v13h-21zM1178 265h14v13h-14zM1171 251h7v14h-7zM1171 199h7v13h-7zM1171 172h7v14h-7zM1178 159h14v13h-14zM1171 146h7v13h-7zM1178 133h14v13h-14zM1192 120h28v13h-28zM1192 107h42v13h-42zM1192 94h14v13h-14zM1234 94h14v13h-14zM1220 87h28v7h-28z"/>
<path fill="#f3f3ff" d="M1403 449h14v13h-14zM1431 449h14v13h-14zM1417 435h28v14h-28zM1291 383h14v13h-14zM1403 357h14v13h-14zM1319 343h14v14h-14zM1445 343h14v14h-14zM1515 304h15v13h-15zM1445 291h14v13h-14zM1333 265h14v13h-14zM1389 265h14v13h-14zM1417 265h14v13h-14zM1375 238h14v13h-14zM1417 238h14v13h-14zM1375 199h14v13h-14zM1417 186h14v13h-14zM1515 172h15v14h-15zM1558 172h14v14h-14zM1417 159h14v13h-14zM1530 159h14v13h-14zM1558 159h14v13h-14zM1487 146h14v13h-14zM1515 146h15v13h-15zM1431 133h42v13h-42zM1544 133h14v13h-14zM1417 120h28v13h-28zM1487 120h14v13h-14zM1515 120h29v13h-29zM1572 120h14v13h-14zM1417 107h14v13h-14zM1459 107h14v13h-14zM1572 107h14v13h-14zM1417 94h14v13h-14zM1445 94h14v13h-14zM1403 87h14v7h-14zM1431 87h14v7h-14zM1501 87h14v7h-14zM1530 87h14v7h-14zM1558 87h14v7h-14z"/>
<path fill="#fff7f7" d="M1375 435h14v14h-14zM1403 435h14v14h-14zM1305 357h14v13h-14zM1473 330h14v13h-14zM1459 186h14v13h-14z"/>
<path fill="#ffa5a5" d="M1234 370h28v13h-28zM1192 330h14v13h-14zM1248 330h14v13h-14zM1192 317h28v13h-28zM1248 317h28v13h-28zM1206 304h56v13h-56zM1206 291h14v13h-14zM1206 278h14v13h-14zM1262 278h43v13h-43zM1171 265h7v13h-7zM1234 265h14v13h-14zM1262 265h14v13h-14zM1178 251h14v14h-14zM1305 251h14v14h-14zM1178 238h14v13h-14zM1171 225h21v13h-21zM1192 199h14v13h-14zM1262 199h29v13h-29zM1178 186h14v13h-14zM1248 186h14v13h-14zM1276 186h15v13h-15zM1178 172h14v14h-14zM1262 172h14v14h-14zM1291 172h28v14h-28zM1248 159h14v13h-14zM1220 146h14v13h-14zM1319 146h28v13h-28zM1171 133h7v13h-7zM1171 120h7v13h-7zM1319 120h14v13h-14zM1361 120h14v13h-14zM1248 107h14v13h-14zM1333 107h14v13h-14zM1375 107h14v13h-14zM1171 94h7v13h-7zM1262 94h29v13h-29zM1319 94h14v13h-14zM1375 94h14v13h-14zM1171 87h7v7h-7zM1262 87h14v7h-14z"/>
<path fill="#ffa1a1" d="M1206 330h14v13h-14zM1220 317h14v13h-14zM1192 291h14v13h-14zM1220 291h14v13h-14zM1220 278h42v13h-42zM1192 265h28v13h-28zM1248 265h14v13h-14zM1276 265h43v13h-43zM1192 251h113v14h-113zM1319 251h14v14h-14zM1171 238h7v13h-7zM1192 238h28v13h-28zM1234 238h28v13h-28zM1291 238h42v13h-42zM1192 225h28v13h-28zM1276 225h57v13h-57zM1171 212h21v13h-21zM1206 212h14v13h-14zM1234 212h14v13h-14zM1305 212h14v13h-14zM1178 199h14v13h-14zM1206 199h56v13h-56zM1305 199h14v13h-14zM1171 186h7v13h-7zM1192 186h42v13h-42zM1291 186h28v13h-28zM1333 186h14v13h-14zM1206 172h42v14h-42zM1276 172h15v14h-15zM1333 172h28v14h-28zM1171 159h7v13h-7zM1192 159h14v13h-14zM1220 159h28v13h-28zM1319 159h14v13h-14zM1361 159h14v13h-14zM1178 146h14v13h-14zM1206 146h14v13h-14zM1234 146h28v13h-28zM1276 146h43v13h-43zM1375 146h14v13h-14zM1192 133h14v13h-14zM1234 133h14v13h-14zM1276 133h29v13h-29zM1333 133h14v13h-14zM1276 120h43v13h-43zM1347 120h14v13h-14zM1375 120h14v13h-14zM1171 107h7v13h-7zM1262 107h43v13h-43zM1319 107h14v13h-14zM1361 107h14v13h-14zM1389 107h14v13h-14zM1248 94h14v13h-14zM1333 94h14v13h-14zM1361 94h14v13h-14zM1305 87h14v7h-14zM1333 87h70v7h-70z"/>
<path fill="#efefff" d="M1361 304h14v13h-14zM1389 212h14v13h-14zM1375 172h14v14h-14zM1431 172h14v14h-14zM1586 172h7v14h-7zM1389 159h14v13h-14zM1445 159h14v13h-14zM1501 159h14v13h-14zM1544 159h14v13h-14zM1530 146h14v13h-14zM1501 120h14v13h-14zM1473 107h28v13h-28zM1515 107h43v13h-43zM1459 94h14v13h-14zM1459 87h14v7h-14zM1487 87h14v7h-14z"/>
<path fill="#ff6464" d="M1572 304h21v13h-21z"/>
<path fill="#ff9d9d" d="M1192 278h14v13h-14zM1305 278h14v13h-14zM1220 265h14v13h-14zM1262 238h14v13h-14zM1234 225h14v13h-14zM1262 225h14v13h-14zM1192 212h14v13h-14zM1220 212h14v13h-14zM1248 212h57v13h-57zM1319 212h14v13h-14zM1291 199h14v13h-14zM1319 199h28v13h-28zM1234 186h14v13h-14zM1262 186h14v13h-14zM1319 186h14v13h-14zM1192 172h14v14h-14zM1248 172h14v14h-14zM1319 172h14v14h-14zM1206 159h14v13h-14zM1262 159h57v13h-57zM1333 159h14v13h-14zM1262 146h14v13h-14zM1347 146h28v13h-28zM1220 133h14v13h-14zM1248 133h28v13h-28zM1305 133h28v13h-28zM1347 133h42v13h-42zM1248 120h28v13h-28zM1333 120h14v13h-14zM1389 120h14v13h-14zM1305 107h14v13h-14zM1347 107h14v13h-14zM1305 94h14v13h-14zM1347 94h14v13h-14zM1389 94h28v13h-28zM1248 87h14v7h-14zM1276 87h29v7h-29zM1319 87h14v7h-14z"/>
<path fill="#ff9999" d="M1220 238h14v13h-14zM1276 238h15v13h-15zM1220 225h14v13h-14zM1248 225h14v13h-14zM1347 159h14v13h-14zM1192 146h14v13h-14zM1206 133h14v13h-14zM1291 94h14v13h-14z"/>
<path fill="#ebebff" d="M1389 172h14v14h-14zM1501 172h14v14h-14zM1431 159h14v13h-14zM1459 159h14v13h-14zM1515 159h15v13h-15zM1586 159h7v13h-7zM1544 146h14v13h-14zM1515 133h29v13h-29zM1473 120h14v13h-14zM1403 107h14v13h-14zM1431 107h14v13h-14z"/>
<path fill="#e7e7ff" d="M1530 172h14v14h-14zM1473 159h14v13h-14zM1501 146h14v13h-14zM1572 146h14v13h-14zM1544 120h14v13h-14zM1586 120h7v13h-7zM1501 107h14v13h-14zM1487 94h14v13h-14z"/>
<path fill="#e2e2ff" d="M1487 159h14v13h-14zM1586 133h7v13h-7zM1558 107h14v13h-14z"/>
<path fill="#ff4b4b" d="M1473 87h14v7h-14z"/>
<path d="M1283.5 481.5v-6.5M1283.5 87.0v6.5M1396.0 481.5v-6.5M1396.0 87.0v6.5M1508.4 481.5v-6.5M1508.4 87.0v6.5M1171.0 376.3h6.5M1592.8 376.3h-6.5M1171.0 271.1h6.5M1592.8 271.1h-6.5M1171.0 165.9h6.5M1592.8 165.9h-6.5" stroke="#262626" stroke-width="1.3" fill="none"/>
<rect x="1171.0" y="87.0" width="421.79999999999995" height="394.5" fill="none" stroke="#262626" stroke-width="1.6"/>
<text x="1172.0" y="512.0" font-size="29" text-anchor="middle" fill="#262626" font-weight="normal" >0</text>
<text x="1284.5" y="512.0" font-size="29" text-anchor="middle" fill="#262626" font-weight="normal" >2</text>
<text x="1397.0" y="512.0" font-size="29" text-anchor="middle" fill="#262626" font-weight="normal" >4</text>
<text x="1509.4" y="512.0" font-size="29" text-anchor="middle" fill="#262626" font-weight="normal" >6</text>
<text x="1159.5" y="494.5" font-size="29" text-anchor="end" fill="#262626" font-weight="normal" >0</text>
<text x="1159.5" y="389.3" font-size="29" text-anchor="end" fill="#262626" font-weight="normal" >2</text>
<text x="1159.5" y="284.1" font-size="29" text-anchor="end" fill="#262626" font-weight="normal" >4</text>
<text x="1159.5" y="178.9" font-size="29" text-anchor="end" fill="#262626" font-weight="normal" >6</text>
<text x="1195.5" y="137.0" font-size="25" text-anchor="start" fill="#000" font-weight="normal" >tML/BL</text>
<text x="1287.0" y="463.0" font-size="25" text-anchor="start" fill="#000" font-weight="normal" >tML/ML</text>
<text x="1493.0" y="463.0" font-size="25" text-anchor="start" fill="#000" font-weight="normal" >tBL/ML</text>
<circle cx="1451.9" cy="126.9" r="11.8" fill="none" stroke="#b8203c" stroke-width="5.2"/>
<circle cx="1451.9" cy="126.9" r="14.2" fill="none" stroke="#2a1a8a" stroke-width="1.2"/>
<circle cx="1451.9" cy="126.9" r="9.3" fill="none" stroke="#2a1a8a" stroke-width="1.2"/>
<circle cx="1536.0" cy="159.1" r="11.8" fill="none" stroke="#e810b0" stroke-width="5.2"/>
<circle cx="1536.0" cy="159.1" r="14.2" fill="none" stroke="#2a1a8a" stroke-width="1.2"/>
<circle cx="1536.0" cy="159.1" r="9.3" fill="none" stroke="#2a1a8a" stroke-width="1.2"/>
<circle cx="1396.0" cy="179.2" r="11.8" fill="none" stroke="#1aa0ea" stroke-width="5.2"/>
<circle cx="1396.0" cy="179.2" r="14.2" fill="none" stroke="#2a1a8a" stroke-width="1.2"/>
<circle cx="1396.0" cy="179.2" r="9.3" fill="none" stroke="#2a1a8a" stroke-width="1.2"/>
<circle cx="1367.4" cy="216.7" r="11.8" fill="none" stroke="#0d4a94" stroke-width="5.2"/>
<circle cx="1367.4" cy="216.7" r="14.2" fill="none" stroke="#2a1a8a" stroke-width="1.2"/>
<circle cx="1367.4" cy="216.7" r="9.3" fill="none" stroke="#2a1a8a" stroke-width="1.2"/>
<circle cx="1388.6" cy="237.0" r="11.8" fill="none" stroke="#000010" stroke-width="5.2"/>
<circle cx="1388.6" cy="237.0" r="14.2" fill="none" stroke="#2a1a8a" stroke-width="1.2"/>
<circle cx="1388.6" cy="237.0" r="9.3" fill="none" stroke="#2a1a8a" stroke-width="1.2"/>
<circle cx="1522.2" cy="238.3" r="13.6" fill="none" stroke="#1010c0" stroke-width="1.6"/>
<circle cx="1522.2" cy="238.3" r="9.6" fill="none" stroke="#1010c0" stroke-width="1.6"/>
<circle cx="1311.4" cy="277.9" r="13.6" fill="none" stroke="#1010d0" stroke-width="1.6"/>
<circle cx="1311.4" cy="277.9" r="9.6" fill="none" stroke="#1010d0" stroke-width="1.6"/>
<circle cx="1550.2" cy="277.9" r="13.6" fill="none" stroke="#1010d0" stroke-width="1.6"/>
<circle cx="1550.2" cy="277.9" r="9.6" fill="none" stroke="#1010d0" stroke-width="1.6"/>
<circle cx="1508.0" cy="297.1" r="11.8" fill="none" stroke="#8cc048" stroke-width="5.2"/>
<circle cx="1508.0" cy="297.1" r="14.2" fill="none" stroke="#2a1a8a" stroke-width="1.2"/>
<circle cx="1508.0" cy="297.1" r="9.3" fill="none" stroke="#2a1a8a" stroke-width="1.2"/>
<circle cx="1465.9" cy="323.6" r="11.8" fill="none" stroke="#c8602a" stroke-width="5.2"/>
<circle cx="1465.9" cy="323.6" r="14.2" fill="none" stroke="#2a1a8a" stroke-width="1.2"/>
<circle cx="1465.9" cy="323.6" r="9.3" fill="none" stroke="#2a1a8a" stroke-width="1.2"/>
<circle cx="1367.4" cy="350.0" r="11.8" fill="none" stroke="#7a2a9a" stroke-width="5.2"/>
<circle cx="1367.4" cy="350.0" r="14.2" fill="none" stroke="#2a1a8a" stroke-width="1.2"/>
<circle cx="1367.4" cy="350.0" r="9.3" fill="none" stroke="#2a1a8a" stroke-width="1.2"/>
<circle cx="1438.0" cy="369.7" r="11.8" fill="none" stroke="#706860" stroke-width="5.2"/>
<circle cx="1438.0" cy="369.7" r="14.2" fill="none" stroke="#2a1a8a" stroke-width="1.2"/>
<circle cx="1438.0" cy="369.7" r="9.3" fill="none" stroke="#2a1a8a" stroke-width="1.2"/>
<circle cx="1297.3" cy="396.0" r="13.6" fill="none" stroke="#1010d0" stroke-width="1.6"/>
<circle cx="1297.3" cy="396.0" r="9.6" fill="none" stroke="#1010d0" stroke-width="1.6"/>
<path d="M1245.8 481.5L1421.8 92.3" stroke="#1a1a1a" stroke-width="4.4" stroke-dasharray="9 7.5" stroke-dashoffset="1" fill="none"/>
<path d="M1437.2 481.5L1582.7 186.9" stroke="#1a1a1a" stroke-width="4.4" stroke-dasharray="9 7.5" stroke-dashoffset="1" fill="none"/>
<text x="1612.0" y="130.0" font-size="25" text-anchor="start" fill="#000" font-weight="normal" >Trap</text>
<circle cx="1636.6" cy="161.9" r="10.0" fill="none" stroke="#1ea8e0" stroke-width="2.9"/>
<text x="1655.5" y="171.2" font-size="25" text-anchor="start" fill="#000" font-weight="normal" >1</text>
<circle cx="1636.6" cy="193.6" r="10.0" fill="none" stroke="#a8203a" stroke-width="2.9"/>
<text x="1655.5" y="202.9" font-size="25" text-anchor="start" fill="#000" font-weight="normal" >2</text>
<circle cx="1636.6" cy="225.3" r="10.0" fill="none" stroke="#000000" stroke-width="2.9"/>
<text x="1655.5" y="234.6" font-size="25" text-anchor="start" fill="#000" font-weight="normal" >4</text>
<circle cx="1636.6" cy="257.0" r="10.0" fill="none" stroke="#c8602a" stroke-width="2.9"/>
<text x="1655.5" y="266.3" font-size="25" text-anchor="start" fill="#000" font-weight="normal" >6</text>
<circle cx="1636.6" cy="288.7" r="10.0" fill="none" stroke="#0d4a8c" stroke-width="2.9"/>
<text x="1655.5" y="298.0" font-size="25" text-anchor="start" fill="#000" font-weight="normal" >7</text>
<circle cx="1636.6" cy="320.6" r="10.0" fill="none" stroke="#7a2a8a" stroke-width="2.9"/>
<text x="1655.5" y="329.9" font-size="25" text-anchor="start" fill="#000" font-weight="normal" >8</text>
<circle cx="1636.6" cy="352.0" r="10.0" fill="none" stroke="#e810a8" stroke-width="2.9"/>
<text x="1649.0" y="361.3" font-size="25" text-anchor="start" fill="#000" font-weight="normal" >10</text>
<circle cx="1636.6" cy="384.0" r="10.0" fill="none" stroke="#88c048" stroke-width="2.9"/>
<text x="1649.0" y="393.3" font-size="25" text-anchor="start" fill="#000" font-weight="normal" >11</text>
<circle cx="1636.6" cy="415.6" r="10.0" fill="none" stroke="#706860" stroke-width="2.9"/>
<text x="1649.0" y="424.9" font-size="25" text-anchor="start" fill="#000" font-weight="normal" >12</text>
<circle cx="1636.6" cy="449.0" r="10.3" fill="none" stroke="#1010c8" stroke-width="1.5"/>
<circle cx="1636.6" cy="449.0" r="7.0" fill="none" stroke="#1010c8" stroke-width="1.5"/>
<text x="1652.0" y="457.5" font-size="25" text-anchor="start" fill="#000" font-weight="normal" >others</text>
<defs><linearGradient id="gv" x1="0" x2="1" y1="0" y2="0"><stop offset="0.0000" stop-color="#440154"/><stop offset="0.0667" stop-color="#481a6c"/><stop offset="0.1333" stop-color="#472f7d"/><stop offset="0.2000" stop-color="#414487"/><stop offset="0.2667" stop-color="#39568c"/><stop offset="0.3333" stop-color="#31688e"/><stop offset="0.4000" stop-color="#2a788e"/><stop offset="0.4667" stop-color="#23888e"/><stop offset="0.5333" stop-color="#1f988b"/><stop offset="0.6000" stop-color="#22a884"/><stop offset="0.6667" stop-color="#35b779"/><stop offset="0.7333" stop-color="#54c568"/><stop offset="0.8000" stop-color="#7ad151"/><stop offset="0.8667" stop-color="#a5db36"/><stop offset="0.9333" stop-color="#d2e21b"/><stop offset="1.0000" stop-color="#fde725"/></linearGradient><linearGradient id="gbwr" x1="0" x2="1" y1="0" y2="0"><stop offset="0" stop-color="#3333ff"/><stop offset="0.5" stop-color="#ffffff"/><stop offset="1" stop-color="#ff3333"/></linearGradient></defs>
<rect x="305.2" y="35.3" width="179.2" height="14.4" fill="url(#gv)" stroke="#1a1a1a" stroke-width="1.6"/>
<text x="292.6" y="24.5" font-size="25" text-anchor="middle" fill="#000" font-weight="normal" >300</text>
<text x="481.1" y="24.5" font-size="25" text-anchor="middle" fill="#000" font-weight="normal" >1000</text>
<text x="154.0" y="52.0" font-size="25" text-anchor="start" fill="#000" font-weight="normal" >PL (counts)</text>
<rect x="831.4" y="35.6" width="178.9" height="14.2" fill="url(#gv)" stroke="#1a1a1a" stroke-width="1.6"/>
<text x="831.5" y="24.5" font-size="25" text-anchor="middle" fill="#000" font-weight="normal" >1000</text>
<text x="1020.3" y="24.5" font-size="25" text-anchor="middle" fill="#000" font-weight="normal" >15000</text>
<text x="683.0" y="52.0" font-size="25" text-anchor="start" fill="#000" font-weight="normal" >PL (counts)</text>
<rect x="1339.4" y="38.3" width="237.9" height="20.9" fill="url(#gbwr)" stroke="#1a1a1a" stroke-width="1.6"/>
<path d="M1418.8 38.3v4M1498 38.3v4" stroke="#1a1a1a" stroke-width="1.6"/>
<text x="1342.0" y="27.5" font-size="25" text-anchor="middle" fill="#000" font-weight="normal" >1.14</text>
<text x="1418.0" y="27.5" font-size="25" text-anchor="middle" fill="#000" font-weight="normal" >1.13</text>
<text x="1500.5" y="27.5" font-size="25" text-anchor="middle" fill="#000" font-weight="normal" >1.12</text>
<text x="1574.3" y="27.5" font-size="25" text-anchor="middle" fill="#000" font-weight="normal" >1.11</text>
<text x="1182.0" y="56.3" font-size="25" text-anchor="start" fill="#000" font-weight="normal" >Energy (eV)</text>
<text x="263.3" y="558.8" font-size="29" textLength="90.5" lengthAdjust="spacing" fill="#262626">X (<tspan font-family="Liberation Serif" font-style="italic">μ</tspan>m)</text>
<text x="786.8" y="558.8" font-size="29" textLength="90.5" lengthAdjust="spacing" fill="#262626">X (<tspan font-family="Liberation Serif" font-style="italic">μ</tspan>m)</text>
<text x="1325.6" y="558.8" font-size="29" textLength="90.5" lengthAdjust="spacing" fill="#262626">X (<tspan font-family="Liberation Serif" font-style="italic">μ</tspan>m)</text>
<text transform="translate(22.8,331.9) rotate(-90)" font-size="29" textLength="91.5" lengthAdjust="spacing" fill="#262626">Y (<tspan font-family="Liberation Serif" font-style="italic">μ</tspan>m)</text>
<text x="9.0" y="24.6" font-size="33" text-anchor="start" fill="#000" font-weight="bold" >a</text>
<text x="564.5" y="24.4" font-size="33" text-anchor="start" fill="#000" font-weight="bold" >b</text>
<text x="1090.0" y="24.6" font-size="33" text-anchor="start" fill="#000" font-weight="bold" >c</text>
<text x="9.0" y="622.0" font-size="33" text-anchor="start" fill="#000" font-weight="bold" >d</text>
<path d="M119.7 807.1 120.1 840.8 120.5 840.0 120.9 848.6 121.3 820.4 121.7 867.9 122.1 808.4 122.4 846.1 122.8 830.5 123.2 839.5 123.6 814.6 124.0 867.4 124.4 842.1 124.8 843.5 125.2 821.5 125.6 855.2 126.0 841.9 126.4 852.7 126.8 839.0 127.2 830.9 127.5 855.8 127.9 822.4 128.3 825.9 128.7 831.7 129.1 825.7 129.5 849.2 129.9 840.8 130.3 852.7 130.7 842.7 131.1 825.3 131.5 848.9 131.9 844.4 132.3 848.6 132.7 850.9 133.0 848.2 133.4 838.3 133.8 854.7 134.2 834.5 134.6 813.3 135.0 826.8 135.4 840.6 135.8 850.8 136.2 848.6 136.6 812.4 137.0 836.6 137.4 846.8 137.8 834.4 138.1 806.0 138.5 835.3 138.9 827.8 139.3 832.4 139.7 841.7 140.1 853.0 140.5 840.8 140.9 838.3 141.3 826.0 141.7 821.9 142.1 820.1 142.5 829.2 142.9 819.9 143.2 843.8 143.6 813.6 144.0 824.1 144.4 835.7 144.8 823.6 145.2 831.6 145.6 813.2 146.0 807.0 146.4 796.7 146.8 849.5 147.2 849.7 147.6 835.4 148.0 825.1 148.4 814.0 148.7 821.9 149.1 856.2 149.5 830.3 149.9 813.0 150.3 821.5 150.7 813.1 151.1 827.3 151.5 826.6 151.9 820.4 152.3 816.7 152.7 819.4 153.1 820.1 153.5 831.4 153.8 815.4 154.2 818.8 154.6 803.4 155.0 802.0 155.4 816.6 155.8 824.5 156.2 827.9 156.6 811.8 157.0 816.5 157.4 825.9 157.8 816.1 158.2 825.5 158.6 798.3 158.9 822.1 159.3 796.9 159.7 808.6 160.1 799.2 160.5 830.0 160.9 810.8 161.3 801.9 161.7 826.6 162.1 816.0 162.5 811.1 162.9 831.6 163.3 806.1 163.7 797.8 164.1 822.7 164.4 804.3 164.8 828.5 165.2 809.2 165.6 832.2 166.0 791.4 166.4 801.7 166.8 808.1 167.2 818.8 167.6 788.1 168.0 777.6 168.4 834.1 168.8 787.9 169.2 781.9 169.5 800.8 169.9 823.4 170.3 792.5 170.7 807.8 171.1 820.1 171.5 822.8 171.9 796.2 172.3 784.1 172.7 813.1 173.1 795.9 173.5 820.3 173.9 791.2 174.3 802.2 174.6 805.4 175.0 803.9 175.4 789.2 175.8 790.8 176.2 793.8 176.6 799.4 177.0 800.0 177.4 791.7 177.8 797.2 178.2 790.3 178.6 804.8 179.0 836.1 179.4 784.3 179.8 767.0 180.1 792.6 180.5 800.4 180.9 800.7 181.3 800.2 181.7 798.0 182.1 814.6 182.5 805.4 182.9 812.3 183.3 793.5 183.7 801.4 184.1 784.2 184.5 800.8 184.9 771.2 185.2 792.6 185.6 747.9 186.0 823.2 186.4 804.4 186.8 781.1 187.2 756.6 187.6 797.5 188.0 792.8 188.4 796.5 188.8 773.1 189.2 796.8 189.6 782.1 190.0 796.6 190.3 810.5 190.7 786.6 191.1 783.5 191.5 771.4 191.9 791.9 192.3 799.1 192.7 781.3 193.1 785.7 193.5 784.8 193.9 789.8 194.3 771.1 194.7 782.5 195.1 759.4 195.5 770.9 195.8 777.3 196.2 810.9 196.6 777.5 197.0 779.9 197.4 773.7 197.8 770.0 198.2 791.1 198.6 772.6 199.0 792.8 199.4 755.2 199.8 803.6 200.2 828.0 200.6 807.7 200.9 796.1 201.3 799.2 201.7 734.8 202.1 786.8 202.5 801.5 202.9 753.2 203.3 795.8 203.7 799.0 204.1 758.2 204.5 770.8 204.9 786.1 205.3 758.3 205.7 776.8 206.0 754.2 206.4 770.3 206.8 754.1 207.2 775.2 207.6 794.4 208.0 739.5 208.4 783.4 208.8 777.8 209.2 784.8 209.6 776.9 210.0 769.8 210.4 770.0 210.8 762.7 211.2 745.4 211.5 773.3 211.9 789.4 212.3 788.1 212.7 780.0 213.1 794.5 213.5 756.9 213.9 776.1 214.3 772.8 214.7 767.8 215.1 788.0 215.5 779.6 215.9 756.3 216.3 756.7 216.6 771.9 217.0 738.0 217.4 783.8 217.8 772.6 218.2 766.9 218.6 804.4 219.0 733.7 219.4 756.6 219.8 777.1 220.2 730.6 220.6 751.9 221.0 753.8 221.4 768.7 221.7 757.6 222.1 781.3 222.5 738.2 222.9 763.3 223.3 755.3 223.7 739.0 224.1 752.1 224.5 751.9 224.9 751.3 225.3 765.8 225.7 742.0 226.1 731.0 226.5 742.2 226.9 730.7 227.2 765.5 227.6 773.9 228.0 772.9 228.4 732.8 228.8 754.2 229.2 729.0 229.6 760.8 230.0 755.1 230.4 746.6 230.8 733.7 231.2 745.9 231.6 743.0 232.0 745.3 232.3 742.3 232.7 760.9 233.1 741.7 233.5 745.9 233.9 743.3 234.3 734.6 234.7 751.4 235.1 742.8 235.5 744.4 235.9 733.2 236.3 727.2 236.7 752.4 237.1 728.9 237.4 706.3 237.8 757.4 238.2 746.4 238.6 745.8 239.0 735.4 239.4 674.5 239.8 728.2 240.2 737.3 240.6 716.3 241.0 733.0 241.4 706.0 241.8 722.3 242.2 710.3 242.6 736.5 242.9 732.4 243.3 752.3 243.7 769.8 244.1 789.9 244.5 812.8 244.9 834.5 245.3 854.3 245.7 877.2 246.1 896.2 246.5 920.1 246.9 935.4 247.3 951.8 247.7 1020.7 248.0 982.4 248.4 993.2 248.8 997.9 249.2 1007.2 249.6 1002.2 250.0 1003.5 250.4 998.1 250.8 991.2 251.2 992.4 251.6 1015.7 252.0 1008.7 252.4 1011.5 252.8 1000.1 253.1 969.3 253.5 938.6 253.9 959.4 254.3 944.9 254.7 948.1 255.1 943.2 255.5 944.4 255.9 939.5 256.3 926.9 256.7 948.0 257.1 912.4 257.5 910.6 257.9 923.9 258.3 905.9 258.6 933.2 259.0 921.7 259.4 909.5 259.8 912.8 260.2 914.7 260.6 916.2 261.0 912.6 261.4 878.8 261.8 929.4 262.2 893.5 262.6 900.4 263.0 884.2 263.4 885.5 263.7 932.6 264.1 880.7 264.5 882.7 264.9 885.3 265.3 890.7 265.7 869.3 266.1 886.4 266.5 851.3 266.9 868.5 267.3 843.4 267.7 885.1 268.1 897.8 268.5 859.4 268.8 855.6 269.2 866.0 269.6 887.7 270.0 869.8 270.4 852.2 270.8 862.4 271.2 859.7 271.6 858.9 272.0 868.4 272.4 860.8 272.8 872.3 273.2 823.2 273.6 855.1 274.0 840.3 274.3 861.9 274.7 834.2 275.1 873.1 275.5 831.0 275.9 844.5 276.3 811.9 276.7 862.0 277.1 840.8 277.5 835.8 277.9 822.2 278.3 846.1 278.7 837.9 279.1 870.3 279.4 850.1 279.8 830.4 280.2 820.0 280.6 839.9 281.0 804.5 281.4 808.2 281.8 834.6 282.2 868.8 282.6 858.7 283.0 843.2 283.4 814.4 283.8 825.8 284.2 860.9 284.5 832.7 284.9 804.7 285.3 833.7 285.7 838.7 286.1 796.5 286.5 825.6 286.9 832.9 287.3 820.1 287.7 824.4 288.1 830.5 288.5 805.6 288.9 806.4 289.3 801.2 289.7 823.4 290.0 804.2 290.4 821.4 290.8 813.2 291.2 804.2 291.6 798.6 292.0 791.9 292.4 811.1 292.8 842.3 293.2 833.9 293.6 796.1 294.0 820.5 294.4 809.3 294.8 827.1 295.1 799.0 295.5 819.0 295.9 791.1 296.3 825.7 296.7 795.1 297.1 801.1 297.5 821.3 297.9 793.7 298.3 822.9 298.7 821.2 299.1 797.7 299.5 817.1 299.9 816.1 300.2 811.9 300.6 821.1 301.0 790.2 301.4 796.1 301.8 805.6 302.2 805.7 302.6 796.8 303.0 758.4 303.4 789.5 303.8 809.4 304.2 789.8 304.6 802.5 305.0 803.2 305.4 772.0 305.7 805.4 306.1 805.7 306.5 827.0 306.9 818.3 307.3 790.3 307.7 806.7 308.1 788.2 308.5 811.9 308.9 806.2 309.3 784.2 309.7 772.1 310.1 778.4 310.5 775.1 310.8 767.2 311.2 776.6 311.6 805.3 312.0 792.8 312.4 774.9 312.8 796.5 313.2 783.2 313.6 812.9 314.0 801.4 314.4 780.8 314.8 821.4 315.2 804.2 315.6 787.6 315.9 812.4 316.3 785.6 316.7 797.9 317.1 793.0 317.5 791.7 317.9 782.0 318.3 792.7 318.7 782.6 319.1 792.4 319.5 774.8 319.9 757.5 320.3 779.3 320.7 779.3 321.1 798.6 321.4 763.4 321.8 791.8 322.2 792.1 322.6 771.4 323.0 776.5 323.4 762.3 323.8 756.8 324.2 785.8 324.6 775.4 325.0 750.7 325.4 762.0 325.8 765.3 326.2 756.0 326.5 783.9 326.9 765.0 327.3 753.1 327.7 749.5 328.1 785.1 328.5 776.4 328.9 766.5 329.3 776.0 329.7 777.0 330.1 760.6 330.5 775.5 330.9 796.4 331.3 764.0 331.6 775.2 332.0 779.3 332.4 791.2 332.8 752.4 333.2 800.1 333.6 791.8 334.0 770.2 334.4 747.4 334.8 745.7 335.2 781.8 335.6 766.9 336.0 786.2 336.4 737.8 336.8 784.7 337.1 764.4 337.5 746.3 337.9 764.3 338.3 738.5 338.7 772.6 339.1 753.5 339.5 745.7 339.9 759.8 340.3 736.5 340.7 719.6 341.1 780.1 341.5 707.7 341.9 744.9 342.2 753.0 342.6 776.9 343.0 755.5 343.4 765.9 343.8 751.0 344.2 756.6 344.6 736.1 345.0 763.0 345.4 759.0 345.8 762.6 346.2 771.8 346.6 773.8 347.0 756.2 347.3 762.5 347.7 786.4 348.1 796.5 348.5 783.9 348.9 768.6 349.3 789.2 349.7 765.8 350.1 806.1 350.5 795.5 350.9 837.9 351.3 812.3 351.7 811.0 352.1 801.3 352.5 785.2 352.8 811.8 353.2 792.5 353.6 805.9 354.0 802.8 354.4 826.1 354.8 800.3 355.2 838.5 355.6 817.0 356.0 850.1 356.4 835.4 356.8 851.1 357.2 844.2 357.6 827.7 357.9 835.6 358.3 856.3 358.7 815.5 359.1 833.0 359.5 823.7 359.9 827.7 360.3 849.9 360.7 869.6 361.1 855.0 361.5 823.9 361.9 858.4 362.3 831.4 362.7 853.3 363.0 839.0 363.4 872.6 363.8 828.9 364.2 847.5 364.6 834.5 365.0 845.5 365.4 837.1 365.8 851.2 366.2 839.3 366.6 873.4 367.0 867.8 367.4 841.6 367.8 853.7 368.2 857.2 368.5 857.4 368.9 848.3 369.3 865.7 369.7 850.4 370.1 882.1 370.5 866.1 370.9 846.5 371.3 846.3 371.7 879.6 372.1 851.9 372.5 880.8 372.9 855.6 373.3 895.7 373.6 885.9 374.0 879.8 374.4 877.7 374.8 857.1 375.2 867.8 375.6 860.9 376.0 869.3 376.4 894.4 376.8 897.2 377.2 880.4 377.6 898.2 378.0 904.6 378.4 925.1 378.7 909.8 379.1 949.7 379.5 915.0 379.9 922.8 380.3 898.0 380.7 915.3 381.1 913.1 381.5 888.2 381.9 923.8 382.3 903.5 382.7 936.4 383.1 906.0 383.5 902.1 383.9 895.5 384.2 921.6 384.6 903.5 385.0 903.5 385.4 908.5 385.8 906.0 386.2 901.4 386.6 902.3 387.0 923.0 387.4 926.0 387.8 871.0 388.2 879.7 388.6 928.9 389.0 901.5 389.3 892.4 389.7 897.1 390.1 906.1 390.5 922.0 390.9 910.9 391.3 915.5 391.7 906.2 392.1 912.2 392.5 910.2 392.9 893.1 393.3 890.0 393.7 925.8 394.1 915.1 394.4 920.0 394.8 890.1 395.2 909.1 395.6 886.7 396.0 915.2 396.4 907.6 396.8 927.9 397.2 888.4 397.6 912.9 398.0 929.4 398.4 916.0 398.8 941.3 399.2 907.4 399.6 905.1 399.9 902.4 400.3 884.3 400.7 913.9 401.1 894.2 401.5 901.4 401.9 908.8 402.3 936.6 402.7 891.5 403.1 918.2 403.5 905.0 403.9 924.0 404.3 900.8 404.7 903.3 405.0 904.3 405.4 906.6 405.8 888.8 406.2 889.9 406.6 893.3 407.0 856.5 407.4 912.7 407.8 909.3 408.2 918.6 408.6 896.9 409.0 913.4 409.4 943.1 409.8 920.9 410.1 901.7 410.5 887.6 410.9 925.4 411.3 910.8 411.7 904.6 412.1 911.3 412.5 892.0 412.9 899.2 413.3 893.9 413.7 908.9 414.1 874.7 414.5 896.9 414.9 877.1 415.3 902.2 415.6 886.3 416.0 904.5 416.4 908.0 416.8 903.7 417.2 893.3 417.6 895.3 418.0 868.6 418.4 907.9 418.8 906.4 419.2 864.4 419.6 880.0 420.0 916.3 420.4 880.4 420.7 883.7 421.1 918.4 421.5 891.5 421.9 885.7 422.3 874.0 422.7 870.1 423.1 882.3 423.5 867.9 423.9 884.8 424.3 894.8 424.7 895.4 425.1 872.9 425.5 909.5 425.8 869.8 426.2 895.8 426.6 884.1 427.0 870.7 427.4 847.0 427.8 905.9 428.2 888.6 428.6 875.3 429.0 884.3 429.4 862.1 429.8 905.4 430.2 868.5 430.6 867.0 431.0 872.0 431.3 855.8 431.7 889.9 432.1 854.6 432.5 881.0 432.9 859.2 433.3 874.2 433.7 856.8 434.1 856.7 434.5 889.5 434.9 869.5 435.3 868.1 435.7 869.7 436.1 884.6 436.4 837.6 436.8 861.4 437.2 840.8 437.6 871.8 438.0 889.6 438.4 860.3 438.8 870.1 439.2 825.7 439.6 857.0 440.0 843.0 440.4 862.9 440.8 864.1 441.2 859.4 441.5 853.3 441.9 845.6 442.3 859.7 442.7 867.6 443.1 873.0 443.5 858.0 443.9 848.0 444.3 849.4 444.7 856.1 445.1 864.4 445.5 853.0 445.9 846.3 446.3 855.0 446.7 852.4 447.0 856.0 447.4 839.8 447.8 859.6 448.2 850.0 448.6 846.5 449.0 841.3 449.4 829.5 449.8 841.3 450.2 842.1 450.6 872.5 451.0 841.3 451.4 816.0 451.8 862.0 452.1 864.5 452.5 852.2 452.9 833.5 453.3 840.5 453.7 855.0 454.1 848.1 454.5 831.9 454.9 836.9 455.3 810.5 455.7 831.3 456.1 840.6 456.5 836.4 456.9 850.4 457.2 859.4 457.6 842.0 458.0 836.9 458.4 864.5 458.8 851.2 459.2 848.6 459.6 838.9 460.0 846.3 460.4 835.5 460.8 840.3 461.2 825.7 461.6 866.5 462.0 816.2 462.4 819.4 462.7 839.3 463.1 830.1 463.5 830.4 463.9 850.0 464.3 834.5 464.7 826.8 465.1 833.4 465.5 822.1 465.9 835.9 466.3 835.8 466.7 848.1 467.1 842.0 467.5 843.2 467.8 810.9 468.2 832.4 468.6 850.6 469.0 829.7 469.4 838.3 469.8 882.7 470.2 827.9 470.6 857.9 471.0 826.1 471.4 848.7 471.8 855.9 472.2 826.7 472.6 856.1 472.9 840.3 473.3 830.5 473.7 817.9 474.1 822.1 474.5 833.5 474.9 845.1 475.3 804.0 475.7 841.4 476.1 805.4 476.5 838.7 476.9 814.6 477.3 815.7 477.7 846.9 478.1 826.0 478.4 819.8 478.8 820.4 479.2 833.6 479.6 826.0 480.0 836.1 480.4 847.5 480.8 815.3 481.2 838.0 481.6 794.7 482.0 820.4 482.4 842.4 482.8 831.3 483.2 833.0 483.5 841.5 483.9 820.9 484.3 835.3 484.7 803.8 485.1 815.0 485.5 840.7 485.9 827.7 486.3 830.6 486.7 850.3 487.1 813.0 487.5 812.6 487.9 803.1 488.3 833.1 488.6 810.2 489.0 829.0 489.4 802.1 489.8 798.6 490.2 823.3 490.6 846.2 491.0 829.7 491.4 815.2 491.8 806.5 492.2 841.2 492.6 827.0 493.0 820.5 493.4 817.4 493.8 810.1 494.1 837.5 494.5 829.5 494.9 808.1 495.3 817.0 495.7 816.0 496.1 805.9 496.5 821.1 496.9 814.8 497.3 827.3 497.7 842.6 498.1 841.8 498.5 821.5 498.9 825.6 499.2 832.3 499.6 817.9 500.0 835.8 500.4 821.0 500.8 823.1 501.2 835.1 501.6 856.7 502.0 785.9 502.4 817.9 502.8 862.1 503.2 828.9 503.6 816.8 504.0 826.0 504.3 814.0 504.7 837.0 505.1 820.0 505.5 823.4 505.9 825.3 506.3 825.9 506.7 819.6 507.1 808.8 507.5 836.0 507.9 828.6 508.3 820.2 508.7 824.4 509.1 816.9 509.5 811.9 509.8 803.4 510.2 824.3 510.6 856.4 511.0 823.6 511.4 817.4 511.8 825.4 512.2 824.9" fill="none" stroke="#1a6db0" stroke-width="1.4"/>
<path d="M119.7 807.1h0M120.1 840.8h0M120.5 840.0h0M120.9 848.6h0M121.3 820.4h0M121.7 867.9h0M122.1 808.4h0M122.4 846.1h0M122.8 830.5h0M123.2 839.5h0M123.6 814.6h0M124.0 867.4h0M124.4 842.1h0M124.8 843.5h0M125.2 821.5h0M125.6 855.2h0M126.0 841.9h0M126.4 852.7h0M126.8 839.0h0M127.2 830.9h0M127.5 855.8h0M127.9 822.4h0M128.3 825.9h0M128.7 831.7h0M129.1 825.7h0M129.5 849.2h0M129.9 840.8h0M130.3 852.7h0M130.7 842.7h0M131.1 825.3h0M131.5 848.9h0M131.9 844.4h0M132.3 848.6h0M132.7 850.9h0M133.0 848.2h0M133.4 838.3h0M133.8 854.7h0M134.2 834.5h0M134.6 813.3h0M135.0 826.8h0M135.4 840.6h0M135.8 850.8h0M136.2 848.6h0M136.6 812.4h0M137.0 836.6h0M137.4 846.8h0M137.8 834.4h0M138.1 806.0h0M138.5 835.3h0M138.9 827.8h0M139.3 832.4h0M139.7 841.7h0M140.1 853.0h0M140.5 840.8h0M140.9 838.3h0M141.3 826.0h0M141.7 821.9h0M142.1 820.1h0M142.5 829.2h0M142.9 819.9h0M143.2 843.8h0M143.6 813.6h0M144.0 824.1h0M144.4 835.7h0M144.8 823.6h0M145.2 831.6h0M145.6 813.2h0M146.0 807.0h0M146.4 796.7h0M146.8 849.5h0M147.2 849.7h0M147.6 835.4h0M148.0 825.1h0M148.4 814.0h0M148.7 821.9h0M149.1 856.2h0M149.5 830.3h0M149.9 813.0h0M150.3 821.5h0M150.7 813.1h0M151.1 827.3h0M151.5 826.6h0M151.9 820.4h0M152.3 816.7h0M152.7 819.4h0M153.1 820.1h0M153.5 831.4h0M153.8 815.4h0M154.2 818.8h0M154.6 803.4h0M155.0 802.0h0M155.4 816.6h0M155.8 824.5h0M156.2 827.9h0M156.6 811.8h0M157.0 816.5h0M157.4 825.9h0M157.8 816.1h0M158.2 825.5h0M158.6 798.3h0M158.9 822.1h0M159.3 796.9h0M159.7 808.6h0M160.1 799.2h0M160.5 830.0h0M160.9 810.8h0M161.3 801.9h0M161.7 826.6h0M162.1 816.0h0M162.5 811.1h0M162.9 831.6h0M163.3 806.1h0M163.7 797.8h0M164.1 822.7h0M164.4 804.3h0M164.8 828.5h0M165.2 809.2h0M165.6 832.2h0M166.0 791.4h0M166.4 801.7h0M166.8 808.1h0M167.2 818.8h0M167.6 788.1h0M168.0 777.6h0M168.4 834.1h0M168.8 787.9h0M169.2 781.9h0M169.5 800.8h0M169.9 823.4h0M170.3 792.5h0M170.7 807.8h0M171.1 820.1h0M171.5 822.8h0M171.9 796.2h0M172.3 784.1h0M172.7 813.1h0M173.1 795.9h0M173.5 820.3h0M173.9 791.2h0M174.3 802.2h0M174.6 805.4h0M175.0 803.9h0M175.4 789.2h0M175.8 790.8h0M176.2 793.8h0M176.6 799.4h0M177.0 800.0h0M177.4 791.7h0M177.8 797.2h0M178.2 790.3h0M178.6 804.8h0M179.0 836.1h0M179.4 784.3h0M179.8 767.0h0M180.1 792.6h0M180.5 800.4h0M180.9 800.7h0M181.3 800.2h0M181.7 798.0h0M182.1 814.6h0M182.5 805.4h0M182.9 812.3h0M183.3 793.5h0M183.7 801.4h0M184.1 784.2h0M184.5 800.8h0M184.9 771.2h0M185.2 792.6h0M185.6 747.9h0M186.0 823.2h0M186.4 804.4h0M186.8 781.1h0M187.2 756.6h0M187.6 797.5h0M188.0 792.8h0M188.4 796.5h0M188.8 773.1h0M189.2 796.8h0M189.6 782.1h0M190.0 796.6h0M190.3 810.5h0M190.7 786.6h0M191.1 783.5h0M191.5 771.4h0M191.9 791.9h0M192.3 799.1h0M192.7 781.3h0M193.1 785.7h0M193.5 784.8h0M193.9 789.8h0M194.3 771.1h0M194.7 782.5h0M195.1 759.4h0M195.5 770.9h0M195.8 777.3h0M196.2 810.9h0M196.6 777.5h0M197.0 779.9h0M197.4 773.7h0M197.8 770.0h0M198.2 791.1h0M198.6 772.6h0M199.0 792.8h0M199.4 755.2h0M199.8 803.6h0M200.2 828.0h0M200.6 807.7h0M200.9 796.1h0M201.3 799.2h0M201.7 734.8h0M202.1 786.8h0M202.5 801.5h0M202.9 753.2h0M203.3 795.8h0M203.7 799.0h0M204.1 758.2h0M204.5 770.8h0M204.9 786.1h0M205.3 758.3h0M205.7 776.8h0M206.0 754.2h0M206.4 770.3h0M206.8 754.1h0M207.2 775.2h0M207.6 794.4h0M208.0 739.5h0M208.4 783.4h0M208.8 777.8h0M209.2 784.8h0M209.6 776.9h0M210.0 769.8h0M210.4 770.0h0M210.8 762.7h0M211.2 745.4h0M211.5 773.3h0M211.9 789.4h0M212.3 788.1h0M212.7 780.0h0M213.1 794.5h0M213.5 756.9h0M213.9 776.1h0M214.3 772.8h0M214.7 767.8h0M215.1 788.0h0M215.5 779.6h0M215.9 756.3h0M216.3 756.7h0M216.6 771.9h0M217.0 738.0h0M217.4 783.8h0M217.8 772.6h0M218.2 766.9h0M218.6 804.4h0M219.0 733.7h0M219.4 756.6h0M219.8 777.1h0M220.2 730.6h0M220.6 751.9h0M221.0 753.8h0M221.4 768.7h0M221.7 757.6h0M222.1 781.3h0M222.5 738.2h0M222.9 763.3h0M223.3 755.3h0M223.7 739.0h0M224.1 752.1h0M224.5 751.9h0M224.9 751.3h0M225.3 765.8h0M225.7 742.0h0M226.1 731.0h0M226.5 742.2h0M226.9 730.7h0M227.2 765.5h0M227.6 773.9h0M228.0 772.9h0M228.4 732.8h0M228.8 754.2h0M229.2 729.0h0M229.6 760.8h0M230.0 755.1h0M230.4 746.6h0M230.8 733.7h0M231.2 745.9h0M231.6 743.0h0M232.0 745.3h0M232.3 742.3h0M232.7 760.9h0M233.1 741.7h0M233.5 745.9h0M233.9 743.3h0M234.3 734.6h0M234.7 751.4h0M235.1 742.8h0M235.5 744.4h0M235.9 733.2h0M236.3 727.2h0M236.7 752.4h0M237.1 728.9h0M237.4 706.3h0M237.8 757.4h0M238.2 746.4h0M238.6 745.8h0M239.0 735.4h0M239.4 674.5h0M239.8 728.2h0M240.2 737.3h0M240.6 716.3h0M241.0 733.0h0M241.4 706.0h0M241.8 722.3h0M242.2 710.3h0M242.6 736.5h0M242.9 732.4h0M243.3 752.3h0M243.7 769.8h0M244.1 789.9h0M244.5 812.8h0M244.9 834.5h0M245.3 854.3h0M245.7 877.2h0M246.1 896.2h0M246.5 920.1h0M246.9 935.4h0M247.3 951.8h0M247.7 1020.7h0M248.0 982.4h0M248.4 993.2h0M248.8 997.9h0M249.2 1007.2h0M249.6 1002.2h0M250.0 1003.5h0M250.4 998.1h0M250.8 991.2h0M251.2 992.4h0M251.6 1015.7h0M252.0 1008.7h0M252.4 1011.5h0M252.8 1000.1h0M253.1 969.3h0M253.5 938.6h0M253.9 959.4h0M254.3 944.9h0M254.7 948.1h0M255.1 943.2h0M255.5 944.4h0M255.9 939.5h0M256.3 926.9h0M256.7 948.0h0M257.1 912.4h0M257.5 910.6h0M257.9 923.9h0M258.3 905.9h0M258.6 933.2h0M259.0 921.7h0M259.4 909.5h0M259.8 912.8h0M260.2 914.7h0M260.6 916.2h0M261.0 912.6h0M261.4 878.8h0M261.8 929.4h0M262.2 893.5h0M262.6 900.4h0M263.0 884.2h0M263.4 885.5h0M263.7 932.6h0M264.1 880.7h0M264.5 882.7h0M264.9 885.3h0M265.3 890.7h0M265.7 869.3h0M266.1 886.4h0M266.5 851.3h0M266.9 868.5h0M267.3 843.4h0M267.7 885.1h0M268.1 897.8h0M268.5 859.4h0M268.8 855.6h0M269.2 866.0h0M269.6 887.7h0M270.0 869.8h0M270.4 852.2h0M270.8 862.4h0M271.2 859.7h0M271.6 858.9h0M272.0 868.4h0M272.4 860.8h0M272.8 872.3h0M273.2 823.2h0M273.6 855.1h0M274.0 840.3h0M274.3 861.9h0M274.7 834.2h0M275.1 873.1h0M275.5 831.0h0M275.9 844.5h0M276.3 811.9h0M276.7 862.0h0M277.1 840.8h0M277.5 835.8h0M277.9 822.2h0M278.3 846.1h0M278.7 837.9h0M279.1 870.3h0M279.4 850.1h0M279.8 830.4h0M280.2 820.0h0M280.6 839.9h0M281.0 804.5h0M281.4 808.2h0M281.8 834.6h0M282.2 868.8h0M282.6 858.7h0M283.0 843.2h0M283.4 814.4h0M283.8 825.8h0M284.2 860.9h0M284.5 832.7h0M284.9 804.7h0M285.3 833.7h0M285.7 838.7h0M286.1 796.5h0M286.5 825.6h0M286.9 832.9h0M287.3 820.1h0M287.7 824.4h0M288.1 830.5h0M288.5 805.6h0M288.9 806.4h0M289.3 801.2h0M289.7 823.4h0M290.0 804.2h0M290.4 821.4h0M290.8 813.2h0M291.2 804.2h0M291.6 798.6h0M292.0 791.9h0M292.4 811.1h0M292.8 842.3h0M293.2 833.9h0M293.6 796.1h0M294.0 820.5h0M294.4 809.3h0M294.8 827.1h0M295.1 799.0h0M295.5 819.0h0M295.9 791.1h0M296.3 825.7h0M296.7 795.1h0M297.1 801.1h0M297.5 821.3h0M297.9 793.7h0M298.3 822.9h0M298.7 821.2h0M299.1 797.7h0M299.5 817.1h0M299.9 816.1h0M300.2 811.9h0M300.6 821.1h0M301.0 790.2h0M301.4 796.1h0M301.8 805.6h0M302.2 805.7h0M302.6 796.8h0M303.0 758.4h0M303.4 789.5h0M303.8 809.4h0M304.2 789.8h0M304.6 802.5h0M305.0 803.2h0M305.4 772.0h0M305.7 805.4h0M306.1 805.7h0M306.5 827.0h0M306.9 818.3h0M307.3 790.3h0M307.7 806.7h0M308.1 788.2h0M308.5 811.9h0M308.9 806.2h0M309.3 784.2h0M309.7 772.1h0M310.1 778.4h0M310.5 775.1h0M310.8 767.2h0M311.2 776.6h0M311.6 805.3h0M312.0 792.8h0M312.4 774.9h0M312.8 796.5h0M313.2 783.2h0M313.6 812.9h0M314.0 801.4h0M314.4 780.8h0M314.8 821.4h0M315.2 804.2h0M315.6 787.6h0M315.9 812.4h0M316.3 785.6h0M316.7 797.9h0M317.1 793.0h0M317.5 791.7h0M317.9 782.0h0M318.3 792.7h0M318.7 782.6h0M319.1 792.4h0M319.5 774.8h0M319.9 757.5h0M320.3 779.3h0M320.7 779.3h0M321.1 798.6h0M321.4 763.4h0M321.8 791.8h0M322.2 792.1h0M322.6 771.4h0M323.0 776.5h0M323.4 762.3h0M323.8 756.8h0M324.2 785.8h0M324.6 775.4h0M325.0 750.7h0M325.4 762.0h0M325.8 765.3h0M326.2 756.0h0M326.5 783.9h0M326.9 765.0h0M327.3 753.1h0M327.7 749.5h0M328.1 785.1h0M328.5 776.4h0M328.9 766.5h0M329.3 776.0h0M329.7 777.0h0M330.1 760.6h0M330.5 775.5h0M330.9 796.4h0M331.3 764.0h0M331.6 775.2h0M332.0 779.3h0M332.4 791.2h0M332.8 752.4h0M333.2 800.1h0M333.6 791.8h0M334.0 770.2h0M334.4 747.4h0M334.8 745.7h0M335.2 781.8h0M335.6 766.9h0M336.0 786.2h0M336.4 737.8h0M336.8 784.7h0M337.1 764.4h0M337.5 746.3h0M337.9 764.3h0M338.3 738.5h0M338.7 772.6h0M339.1 753.5h0M339.5 745.7h0M339.9 759.8h0M340.3 736.5h0M340.7 719.6h0M341.1 780.1h0M341.5 707.7h0M341.9 744.9h0M342.2 753.0h0M342.6 776.9h0M343.0 755.5h0M343.4 765.9h0M343.8 751.0h0M344.2 756.6h0M344.6 736.1h0M345.0 763.0h0M345.4 759.0h0M345.8 762.6h0M346.2 771.8h0M346.6 773.8h0M347.0 756.2h0M347.3 762.5h0M347.7 786.4h0M348.1 796.5h0M348.5 783.9h0M348.9 768.6h0M349.3 789.2h0M349.7 765.8h0M350.1 806.1h0M350.5 795.5h0M350.9 837.9h0M351.3 812.3h0M351.7 811.0h0M352.1 801.3h0M352.5 785.2h0M352.8 811.8h0M353.2 792.5h0M353.6 805.9h0M354.0 802.8h0M354.4 826.1h0M354.8 800.3h0M355.2 838.5h0M355.6 817.0h0M356.0 850.1h0M356.4 835.4h0M356.8 851.1h0M357.2 844.2h0M357.6 827.7h0M357.9 835.6h0M358.3 856.3h0M358.7 815.5h0M359.1 833.0h0M359.5 823.7h0M359.9 827.7h0M360.3 849.9h0M360.7 869.6h0M361.1 855.0h0M361.5 823.9h0M361.9 858.4h0M362.3 831.4h0M362.7 853.3h0M363.0 839.0h0M363.4 872.6h0M363.8 828.9h0M364.2 847.5h0M364.6 834.5h0M365.0 845.5h0M365.4 837.1h0M365.8 851.2h0M366.2 839.3h0M366.6 873.4h0M367.0 867.8h0M367.4 841.6h0M367.8 853.7h0M368.2 857.2h0M368.5 857.4h0M368.9 848.3h0M369.3 865.7h0M369.7 850.4h0M370.1 882.1h0M370.5 866.1h0M370.9 846.5h0M371.3 846.3h0M371.7 879.6h0M372.1 851.9h0M372.5 880.8h0M372.9 855.6h0M373.3 895.7h0M373.6 885.9h0M374.0 879.8h0M374.4 877.7h0M374.8 857.1h0M375.2 867.8h0M375.6 860.9h0M376.0 869.3h0M376.4 894.4h0M376.8 897.2h0M377.2 880.4h0M377.6 898.2h0M378.0 904.6h0M378.4 925.1h0M378.7 909.8h0M379.1 949.7h0M379.5 915.0h0M379.9 922.8h0M380.3 898.0h0M380.7 915.3h0M381.1 913.1h0M381.5 888.2h0M381.9 923.8h0M382.3 903.5h0M382.7 936.4h0M383.1 906.0h0M383.5 902.1h0M383.9 895.5h0M384.2 921.6h0M384.6 903.5h0M385.0 903.5h0M385.4 908.5h0M385.8 906.0h0M386.2 901.4h0M386.6 902.3h0M387.0 923.0h0M387.4 926.0h0M387.8 871.0h0M388.2 879.7h0M388.6 928.9h0M389.0 901.5h0M389.3 892.4h0M389.7 897.1h0M390.1 906.1h0M390.5 922.0h0M390.9 910.9h0M391.3 915.5h0M391.7 906.2h0M392.1 912.2h0M392.5 910.2h0M392.9 893.1h0M393.3 890.0h0M393.7 925.8h0M394.1 915.1h0M394.4 920.0h0M394.8 890.1h0M395.2 909.1h0M395.6 886.7h0M396.0 915.2h0M396.4 907.6h0M396.8 927.9h0M397.2 888.4h0M397.6 912.9h0M398.0 929.4h0M398.4 916.0h0M398.8 941.3h0M399.2 907.4h0M399.6 905.1h0M399.9 902.4h0M400.3 884.3h0M400.7 913.9h0M401.1 894.2h0M401.5 901.4h0M401.9 908.8h0M402.3 936.6h0M402.7 891.5h0M403.1 918.2h0M403.5 905.0h0M403.9 924.0h0M404.3 900.8h0M404.7 903.3h0M405.0 904.3h0M405.4 906.6h0M405.8 888.8h0M406.2 889.9h0M406.6 893.3h0M407.0 856.5h0M407.4 912.7h0M407.8 909.3h0M408.2 918.6h0M408.6 896.9h0M409.0 913.4h0M409.4 943.1h0M409.8 920.9h0M410.1 901.7h0M410.5 887.6h0M410.9 925.4h0M411.3 910.8h0M411.7 904.6h0M412.1 911.3h0M412.5 892.0h0M412.9 899.2h0M413.3 893.9h0M413.7 908.9h0M414.1 874.7h0M414.5 896.9h0M414.9 877.1h0M415.3 902.2h0M415.6 886.3h0M416.0 904.5h0M416.4 908.0h0M416.8 903.7h0M417.2 893.3h0M417.6 895.3h0M418.0 868.6h0M418.4 907.9h0M418.8 906.4h0M419.2 864.4h0M419.6 880.0h0M420.0 916.3h0M420.4 880.4h0M420.7 883.7h0M421.1 918.4h0M421.5 891.5h0M421.9 885.7h0M422.3 874.0h0M422.7 870.1h0M423.1 882.3h0M423.5 867.9h0M423.9 884.8h0M424.3 894.8h0M424.7 895.4h0M425.1 872.9h0M425.5 909.5h0M425.8 869.8h0M426.2 895.8h0M426.6 884.1h0M427.0 870.7h0M427.4 847.0h0M427.8 905.9h0M428.2 888.6h0M428.6 875.3h0M429.0 884.3h0M429.4 862.1h0M429.8 905.4h0M430.2 868.5h0M430.6 867.0h0M431.0 872.0h0M431.3 855.8h0M431.7 889.9h0M432.1 854.6h0M432.5 881.0h0M432.9 859.2h0M433.3 874.2h0M433.7 856.8h0M434.1 856.7h0M434.5 889.5h0M434.9 869.5h0M435.3 868.1h0M435.7 869.7h0M436.1 884.6h0M436.4 837.6h0M436.8 861.4h0M437.2 840.8h0M437.6 871.8h0M438.0 889.6h0M438.4 860.3h0M438.8 870.1h0M439.2 825.7h0M439.6 857.0h0M440.0 843.0h0M440.4 862.9h0M440.8 864.1h0M441.2 859.4h0M441.5 853.3h0M441.9 845.6h0M442.3 859.7h0M442.7 867.6h0M443.1 873.0h0M443.5 858.0h0M443.9 848.0h0M444.3 849.4h0M444.7 856.1h0M445.1 864.4h0M445.5 853.0h0M445.9 846.3h0M446.3 855.0h0M446.7 852.4h0M447.0 856.0h0M447.4 839.8h0M447.8 859.6h0M448.2 850.0h0M448.6 846.5h0M449.0 841.3h0M449.4 829.5h0M449.8 841.3h0M450.2 842.1h0M450.6 872.5h0M451.0 841.3h0M451.4 816.0h0M451.8 862.0h0M452.1 864.5h0M452.5 852.2h0M452.9 833.5h0M453.3 840.5h0M453.7 855.0h0M454.1 848.1h0M454.5 831.9h0M454.9 836.9h0M455.3 810.5h0M455.7 831.3h0M456.1 840.6h0M456.5 836.4h0M456.9 850.4h0M457.2 859.4h0M457.6 842.0h0M458.0 836.9h0M458.4 864.5h0M458.8 851.2h0M459.2 848.6h0M459.6 838.9h0M460.0 846.3h0M460.4 835.5h0M460.8 840.3h0M461.2 825.7h0M461.6 866.5h0M462.0 816.2h0M462.4 819.4h0M462.7 839.3h0M463.1 830.1h0M463.5 830.4h0M463.9 850.0h0M464.3 834.5h0M464.7 826.8h0M465.1 833.4h0M465.5 822.1h0M465.9 835.9h0M466.3 835.8h0M466.7 848.1h0M467.1 842.0h0M467.5 843.2h0M467.8 810.9h0M468.2 832.4h0M468.6 850.6h0M469.0 829.7h0M469.4 838.3h0M469.8 882.7h0M470.2 827.9h0M470.6 857.9h0M471.0 826.1h0M471.4 848.7h0M471.8 855.9h0M472.2 826.7h0M472.6 856.1h0M472.9 840.3h0M473.3 830.5h0M473.7 817.9h0M474.1 822.1h0M474.5 833.5h0M474.9 845.1h0M475.3 804.0h0M475.7 841.4h0M476.1 805.4h0M476.5 838.7h0M476.9 814.6h0M477.3 815.7h0M477.7 846.9h0M478.1 826.0h0M478.4 819.8h0M478.8 820.4h0M479.2 833.6h0M479.6 826.0h0M480.0 836.1h0M480.4 847.5h0M480.8 815.3h0M481.2 838.0h0M481.6 794.7h0M482.0 820.4h0M482.4 842.4h0M482.8 831.3h0M483.2 833.0h0M483.5 841.5h0M483.9 820.9h0M484.3 835.3h0M484.7 803.8h0M485.1 815.0h0M485.5 840.7h0M485.9 827.7h0M486.3 830.6h0M486.7 850.3h0M487.1 813.0h0M487.5 812.6h0M487.9 803.1h0M488.3 833.1h0M488.6 810.2h0M489.0 829.0h0M489.4 802.1h0M489.8 798.6h0M490.2 823.3h0M490.6 846.2h0M491.0 829.7h0M491.4 815.2h0M491.8 806.5h0M492.2 841.2h0M492.6 827.0h0M493.0 820.5h0M493.4 817.4h0M493.8 810.1h0M494.1 837.5h0M494.5 829.5h0M494.9 808.1h0M495.3 817.0h0M495.7 816.0h0M496.1 805.9h0M496.5 821.1h0M496.9 814.8h0M497.3 827.3h0M497.7 842.6h0M498.1 841.8h0M498.5 821.5h0M498.9 825.6h0M499.2 832.3h0M499.6 817.9h0M500.0 835.8h0M500.4 821.0h0M500.8 823.1h0M501.2 835.1h0M501.6 856.7h0M502.0 785.9h0M502.4 817.9h0M502.8 862.1h0M503.2 828.9h0M503.6 816.8h0M504.0 826.0h0M504.3 814.0h0M504.7 837.0h0M505.1 820.0h0M505.5 823.4h0M505.9 825.3h0M506.3 825.9h0M506.7 819.6h0M507.1 808.8h0M507.5 836.0h0M507.9 828.6h0M508.3 820.2h0M508.7 824.4h0M509.1 816.9h0M509.5 811.9h0M509.8 803.4h0M510.2 824.3h0M510.6 856.4h0M511.0 823.6h0M511.4 817.4h0M511.8 825.4h0M512.2 824.9h0" stroke="#1c64e2" stroke-width="8.2" stroke-linecap="round" fill="none"/>
<path d="M250.5 1053.8v-7M250.5 654.2v7M381.4 1053.8v-7M381.4 654.2v7M119.7 711.3h7M512.2 711.3h-7M119.7 825.5h7M512.2 825.5h-7M119.7 939.6h7M512.2 939.6h-7M119.7 1053.8h7M512.2 1053.8h-7" stroke="#262626" stroke-width="1.6" fill="none"/>
<rect x="119.7" y="654.2" width="392.5" height="399.6" fill="none" stroke="#262626" stroke-width="1.9"/>
<text x="105.0" y="720.4" font-size="29" text-anchor="end" fill="#262626" font-weight="normal" >0.04</text>
<text x="99.7" y="834.8" font-size="29" text-anchor="end" fill="#262626" font-weight="normal" >0</text>
<text x="105.0" y="950.3" font-size="29" text-anchor="end" fill="#262626" font-weight="normal" >-0.04</text>
<text x="105.0" y="1061.9" font-size="29" text-anchor="end" fill="#262626" font-weight="normal" >-0.08</text>
<text x="111.3" y="1084.6" font-size="29" text-anchor="middle" fill="#262626" font-weight="normal" >1.1</text>
<text x="245.3" y="1084.6" font-size="29" text-anchor="middle" fill="#262626" font-weight="normal" >1.12</text>
<text x="376.3" y="1084.6" font-size="29" text-anchor="middle" fill="#262626" font-weight="normal" >1.14</text>
<text x="505.8" y="1084.6" font-size="29" text-anchor="middle" fill="#262626" font-weight="normal" >1.16</text>
<text x="311.2" y="1127.8" font-size="29" text-anchor="middle" fill="#262626" font-weight="normal" >Energy (eV)</text>
<text x="393.7" y="1026.8" font-size="25" text-anchor="start" fill="#000" font-weight="normal" >tML/BL</text>
<path d="M260.2 1020.7l19.7 -0.8l-5.2 5.6l11.3 5.7l-2.4 4.6l-11.1 -5.8l-1.1 7.2z" fill="#1a1a1a"/>
<path d="M654.9 779.8 655.3 774.7 655.7 804.4 656.1 750.5 656.5 799.5 656.9 794.3 657.3 766.7 657.6 791.7 658.0 789.0 658.4 786.9 658.8 766.0 659.2 741.2 659.6 773.3 660.0 789.8 660.4 766.2 660.8 782.4 661.2 774.2 661.6 745.4 662.0 784.6 662.4 773.8 662.8 786.4 663.1 776.1 663.5 770.2 663.9 788.0 664.3 778.7 664.7 777.3 665.1 783.0 665.5 790.8 665.9 794.2 666.3 776.1 666.7 777.7 667.1 728.2 667.5 808.6 667.9 772.3 668.2 768.6 668.6 754.5 669.0 766.7 669.4 785.9 669.8 773.9 670.2 766.1 670.6 778.4 671.0 762.9 671.4 800.5 671.8 749.2 672.2 752.9 672.6 782.0 673.0 765.2 673.4 773.2 673.7 785.7 674.1 771.8 674.5 759.6 674.9 779.3 675.3 779.2 675.7 774.9 676.1 767.7 676.5 755.6 676.9 782.9 677.3 766.6 677.7 770.8 678.1 800.4 678.5 779.9 678.8 775.8 679.2 774.4 679.6 769.2 680.0 803.0 680.4 773.2 680.8 783.6 681.2 794.4 681.6 766.4 682.0 763.4 682.4 783.2 682.8 761.9 683.2 779.3 683.6 772.9 684.0 789.6 684.3 751.3 684.7 811.8 685.1 775.2 685.5 764.0 685.9 802.9 686.3 776.6 686.7 775.0 687.1 762.1 687.5 756.1 687.9 779.6 688.3 793.6 688.7 754.4 689.1 756.5 689.4 780.5 689.8 768.9 690.2 768.4 690.6 765.8 691.0 771.0 691.4 753.8 691.8 798.7 692.2 759.0 692.6 768.5 693.0 777.0 693.4 757.1 693.8 807.3 694.2 757.3 694.6 768.4 694.9 790.1 695.3 767.7 695.7 778.1 696.1 736.8 696.5 747.4 696.9 767.1 697.3 783.6 697.7 781.5 698.1 777.7 698.5 780.9 698.9 785.7 699.3 781.1 699.7 776.5 700.0 779.8 700.4 782.3 700.8 785.5 701.2 735.7 701.6 807.7 702.0 786.4 702.4 765.5 702.8 779.4 703.2 761.2 703.6 759.9 704.0 753.2 704.4 760.4 704.8 785.2 705.2 755.0 705.5 795.9 705.9 772.3 706.3 777.6 706.7 785.5 707.1 755.9 707.5 772.7 707.9 755.5 708.3 791.0 708.7 757.7 709.1 762.5 709.5 767.7 709.9 789.6 710.3 772.9 710.6 791.2 711.0 798.8 711.4 723.2 711.8 754.9 712.2 743.1 712.6 774.7 713.0 758.5 713.4 758.3 713.8 753.6 714.2 767.9 714.6 771.1 715.0 797.2 715.4 758.7 715.8 761.2 716.1 751.1 716.5 770.8 716.9 741.8 717.3 777.4 717.7 784.3 718.1 752.8 718.5 772.7 718.9 783.7 719.3 763.8 719.7 754.6 720.1 759.4 720.5 758.0 720.9 719.2 721.2 744.8 721.6 742.6 722.0 792.7 722.4 758.9 722.8 752.9 723.2 769.0 723.6 776.1 724.0 757.7 724.4 767.7 724.8 771.5 725.2 746.4 725.6 743.6 726.0 758.2 726.4 768.8 726.7 754.8 727.1 750.1 727.5 752.7 727.9 782.3 728.3 766.2 728.7 756.1 729.1 752.1 729.5 747.1 729.9 749.8 730.3 788.0 730.7 770.4 731.1 777.5 731.5 734.2 731.8 757.2 732.2 751.6 732.6 744.6 733.0 763.8 733.4 775.3 733.8 764.8 734.2 760.6 734.6 736.8 735.0 736.9 735.4 773.3 735.8 748.1 736.2 746.9 736.6 772.3 737.0 758.5 737.3 783.2 737.7 751.8 738.1 760.8 738.5 788.9 738.9 765.9 739.3 752.3 739.7 763.4 740.1 751.0 740.5 747.2 740.9 766.8 741.3 759.1 741.7 723.8 742.1 752.5 742.4 766.1 742.8 752.9 743.2 772.6 743.6 737.2 744.0 747.8 744.4 737.4 744.8 739.8 745.2 746.9 745.6 738.3 746.0 749.3 746.4 761.3 746.8 766.2 747.2 757.8 747.6 786.9 747.9 724.9 748.3 775.2 748.7 751.6 749.1 769.1 749.5 779.0 749.9 751.1 750.3 754.0 750.7 751.8 751.1 741.4 751.5 757.9 751.9 743.4 752.3 741.3 752.7 753.2 753.0 752.2 753.4 740.2 753.8 746.8 754.2 745.1 754.6 781.0 755.0 746.0 755.4 741.2 755.8 748.2 756.2 741.2 756.6 718.5 757.0 744.2 757.4 735.7 757.8 757.0 758.2 756.8 758.5 751.2 758.9 758.6 759.3 743.9 759.7 756.9 760.1 745.8 760.5 777.9 760.9 766.3 761.3 752.1 761.7 757.4 762.1 751.2 762.5 756.5 762.9 746.4 763.3 726.1 763.7 707.6 764.0 730.2 764.4 745.4 764.8 718.6 765.2 761.5 765.6 768.3 766.0 735.3 766.4 738.9 766.8 740.6 767.2 737.9 767.6 761.5 768.0 754.3 768.4 719.9 768.8 722.6 769.1 754.5 769.5 709.1 769.9 751.6 770.3 744.2 770.7 731.6 771.1 752.5 771.5 742.1 771.9 739.0 772.3 740.2 772.7 721.8 773.1 725.5 773.5 749.3 773.9 743.0 774.3 730.4 774.6 733.7 775.0 743.6 775.4 726.0 775.8 720.1 776.2 740.5 776.6 719.9 777.0 754.0 777.4 753.5 777.8 723.1 778.2 741.9 778.6 743.9 779.0 733.1 779.4 738.7 779.7 724.1 780.1 749.2 780.5 733.4 780.9 682.7 781.3 725.9 781.7 754.5 782.1 718.3 782.5 718.7 782.9 706.5 783.3 723.9 783.7 735.0 784.1 705.3 784.5 714.9 784.9 750.4 785.2 713.8 785.6 727.5 786.0 708.0 786.4 728.9 786.8 712.0 787.2 720.1 787.6 714.2 788.0 722.4 788.4 727.5 788.8 720.0 789.2 711.4 789.6 713.9 790.0 696.2 790.3 712.6 790.7 702.7 791.1 687.6 791.5 716.0 791.9 708.8 792.3 724.5 792.7 714.7 793.1 691.3 793.5 709.7 793.9 678.4 794.3 728.2 794.7 732.4 795.1 707.5 795.5 730.8 795.8 672.1 796.2 691.0 796.6 725.2 797.0 708.4 797.4 712.9 797.8 697.4 798.2 702.8 798.6 687.3 799.0 680.8 799.4 705.9 799.8 721.8 800.2 699.4 800.6 712.1 800.9 695.7 801.3 716.5 801.7 704.9 802.1 714.2 802.5 724.0 802.9 725.1 803.3 725.7 803.7 725.0 804.1 731.8 804.5 737.1 804.9 738.4 805.3 742.9 805.7 749.0 806.1 748.8 806.4 749.3 806.8 756.5 807.2 761.4 807.6 761.1 808.0 761.4 808.4 768.2 808.8 772.8 809.2 774.9 809.6 781.3 810.0 788.1 810.4 794.9 810.8 799.0 811.2 804.4 811.5 807.2 811.9 815.7 812.3 816.8 812.7 826.1 813.1 833.5 813.5 837.2 813.9 849.7 814.3 853.3 814.7 859.2 815.1 862.3 815.5 871.4 815.9 873.6 816.3 884.9 816.7 890.1 817.0 900.0 817.4 903.3 817.8 914.0 818.2 918.4 818.6 933.5 819.0 945.9 819.4 946.8 819.8 913.8 820.2 940.4 820.6 944.0 821.0 922.9 821.4 903.8 821.8 926.3 822.1 915.4 822.5 901.4 822.9 905.3 823.3 893.1 823.7 876.8 824.1 890.0 824.5 887.8 824.9 872.6 825.3 882.0 825.7 891.3 826.1 889.3 826.5 888.0 826.9 823.6 827.3 867.1 827.6 849.7 828.0 850.6 828.4 871.5 828.8 846.3 829.2 860.5 829.6 879.4 830.0 849.9 830.4 859.4 830.8 846.1 831.2 833.5 831.6 803.1 832.0 839.9 832.4 832.7 832.7 823.4 833.1 824.3 833.5 827.5 833.9 839.0 834.3 835.5 834.7 822.7 835.1 835.0 835.5 826.1 835.9 832.8 836.3 797.2 836.7 832.9 837.1 782.7 837.5 816.4 837.9 821.5 838.2 821.6 838.6 791.9 839.0 786.6 839.4 811.7 839.8 793.1 840.2 798.3 840.6 797.9 841.0 790.6 841.4 780.1 841.8 816.6 842.2 833.2 842.6 782.9 843.0 785.2 843.3 772.7 843.7 805.2 844.1 793.4 844.5 755.7 844.9 794.9 845.3 765.8 845.7 784.4 846.1 777.2 846.5 789.5 846.9 751.4 847.3 793.9 847.7 782.3 848.1 776.6 848.5 745.2 848.8 756.2 849.2 749.2 849.6 757.6 850.0 752.4 850.4 747.1 850.8 730.5 851.2 747.5 851.6 770.3 852.0 731.2 852.4 744.5 852.8 760.0 853.2 745.0 853.6 754.8 853.9 709.3 854.3 742.3 854.7 764.9 855.1 731.3 855.5 746.7 855.9 715.8 856.3 731.5 856.7 758.1 857.1 739.2 857.5 746.8 857.9 741.4 858.3 739.1 858.7 757.8 859.1 725.6 859.4 740.2 859.8 739.8 860.2 715.6 860.6 698.5 861.0 733.9 861.4 698.3 861.8 752.8 862.2 714.7 862.6 730.2 863.0 722.0 863.4 734.1 863.8 727.6 864.2 722.6 864.5 722.2 864.9 710.4 865.3 682.1 865.7 729.8 866.1 715.7 866.5 737.5 866.9 747.6 867.3 690.8 867.7 728.7 868.1 719.4 868.5 707.4 868.9 693.9 869.3 701.5 869.7 678.5 870.0 707.1 870.4 729.9 870.8 699.7 871.2 700.7 871.6 678.8 872.0 705.8 872.4 708.7 872.8 674.9 873.2 715.3 873.6 733.3 874.0 716.2 874.4 753.1 874.8 727.8 875.1 739.9 875.5 749.4 875.9 755.7 876.3 762.6 876.7 764.7 877.1 773.9 877.5 783.9 877.9 790.5 878.3 794.6 878.7 801.0 879.1 809.2 879.5 813.5 879.9 821.1 880.3 824.9 880.6 832.9 881.0 841.9 881.4 848.9 881.8 858.8 882.2 861.4 882.6 871.5 883.0 881.0 883.4 887.5 883.8 896.6 884.2 897.9 884.6 911.9 885.0 913.6 885.4 917.8 885.7 924.2 886.1 926.3 886.5 930.8 886.9 933.5 887.3 937.3 887.7 940.1 888.1 934.4 888.5 959.3 888.9 960.8 889.3 965.5 889.7 973.3 890.1 998.5 890.5 943.5 890.9 956.8 891.2 956.2 891.6 974.4 892.0 969.7 892.4 981.7 892.8 944.8 893.2 931.3 893.6 929.9 894.0 937.0 894.4 959.6 894.8 931.1 895.2 928.4 895.6 915.9 896.0 913.7 896.3 927.7 896.7 923.7 897.1 912.6 897.5 915.2 897.9 923.5 898.3 951.3 898.7 929.1 899.1 906.9 899.5 916.0 899.9 903.8 900.3 921.6 900.7 914.8 901.1 903.9 901.5 904.7 901.8 908.2 902.2 897.5 902.6 893.3 903.0 891.8 903.4 934.4 903.8 917.1 904.2 914.1 904.6 913.9 905.0 931.3 905.4 888.7 905.8 920.8 906.2 904.4 906.6 939.3 906.9 911.0 907.3 906.3 907.7 914.8 908.1 889.7 908.5 865.0 908.9 910.3 909.3 909.0 909.7 870.4 910.1 886.2 910.5 900.7 910.9 910.1 911.3 872.9 911.7 886.4 912.1 866.1 912.4 899.5 912.8 888.4 913.2 889.1 913.6 886.6 914.0 867.2 914.4 868.8 914.8 888.5 915.2 879.1 915.6 881.9 916.0 862.1 916.4 875.8 916.8 887.7 917.2 875.2 917.5 869.4 917.9 854.1 918.3 847.5 918.7 845.8 919.1 857.5 919.5 873.8 919.9 851.4 920.3 860.9 920.7 865.6 921.1 851.0 921.5 847.9 921.9 839.8 922.3 863.5 922.7 873.0 923.0 840.5 923.4 859.9 923.8 830.4 924.2 858.9 924.6 850.0 925.0 884.1 925.4 809.9 925.8 844.7 926.2 838.5 926.6 843.9 927.0 838.9 927.4 822.8 927.8 832.2 928.1 833.0 928.5 814.9 928.9 850.3 929.3 814.0 929.7 806.4 930.1 848.1 930.5 823.5 930.9 844.9 931.3 855.7 931.7 836.8 932.1 816.3 932.5 812.1 932.9 827.2 933.3 842.3 933.6 831.0 934.0 829.5 934.4 827.3 934.8 851.8 935.2 819.9 935.6 817.3 936.0 783.6 936.4 804.3 936.8 815.5 937.2 812.0 937.6 807.9 938.0 829.3 938.4 841.4 938.7 821.6 939.1 814.0 939.5 808.6 939.9 820.0 940.3 822.5 940.7 812.7 941.1 807.7 941.5 799.8 941.9 810.9 942.3 800.8 942.7 820.8 943.1 794.5 943.5 806.4 943.9 824.6 944.2 808.3 944.6 802.7 945.0 818.9 945.4 792.9 945.8 807.6 946.2 795.8 946.6 816.1 947.0 797.0 947.4 790.6 947.8 806.7 948.2 802.7 948.6 807.7 949.0 794.3 949.3 798.1 949.7 791.0 950.1 798.5 950.5 815.3 950.9 815.5 951.3 802.9 951.7 789.6 952.1 763.6 952.5 783.2 952.9 804.1 953.3 823.9 953.7 787.4 954.1 794.2 954.5 811.4 954.8 781.1 955.2 793.4 955.6 799.1 956.0 820.5 956.4 769.4 956.8 791.4 957.2 795.6 957.6 805.5 958.0 796.7 958.4 773.5 958.8 783.4 959.2 761.9 959.6 775.1 960.0 785.0 960.3 776.8 960.7 787.0 961.1 809.7 961.5 797.3 961.9 783.7 962.3 801.5 962.7 795.2 963.1 805.3 963.5 763.1 963.9 805.8 964.3 801.5 964.7 799.0 965.1 772.2 965.4 769.7 965.8 793.4 966.2 776.9 966.6 797.6 967.0 784.5 967.4 747.0 967.8 770.5 968.2 784.3 968.6 802.3 969.0 787.3 969.4 801.6 969.8 813.7 970.2 773.6 970.6 773.8 970.9 779.1 971.3 767.5 971.7 805.4 972.1 761.4 972.5 796.6 972.9 775.6 973.3 774.3 973.7 754.5 974.1 751.9 974.5 775.2 974.9 785.5 975.3 795.7 975.7 775.9 976.0 791.6 976.4 798.6 976.8 782.0 977.2 769.3 977.6 783.1 978.0 804.1 978.4 776.3 978.8 795.9 979.2 799.6 979.6 757.0 980.0 774.1 980.4 749.2 980.8 798.3 981.2 762.3 981.5 779.4 981.9 738.5 982.3 779.6 982.7 787.1 983.1 770.1 983.5 773.3 983.9 782.3 984.3 762.6 984.7 765.6 985.1 762.6 985.5 769.3 985.9 792.1 986.3 784.7 986.6 766.0 987.0 787.7 987.4 749.9 987.8 773.2 988.2 785.1 988.6 758.9 989.0 773.8 989.4 756.3 989.8 770.3 990.2 748.0 990.6 782.4 991.0 804.1 991.4 794.5 991.8 796.0 992.1 764.2 992.5 728.6 992.9 775.1 993.3 791.3 993.7 755.5 994.1 765.5 994.5 777.3 994.9 765.9 995.3 771.5 995.7 787.9 996.1 761.6 996.5 778.4 996.9 784.7 997.2 774.4 997.6 748.5 998.0 742.7 998.4 750.6 998.8 777.6 999.2 785.0 999.6 765.3 1000.0 772.4 1000.4 768.0 1000.8 786.0 1001.2 782.4 1001.6 785.0 1002.0 750.8 1002.4 754.2 1002.7 779.0 1003.1 760.8 1003.5 759.9 1003.9 779.5 1004.3 768.6 1004.7 757.1 1005.1 783.0 1005.5 750.6 1005.9 771.2 1006.3 767.3 1006.7 771.6 1007.1 804.0 1007.5 763.2 1007.8 768.1 1008.2 777.9 1008.6 771.1 1009.0 761.9 1009.4 769.9 1009.8 775.4 1010.2 766.6 1010.6 756.9 1011.0 767.1 1011.4 779.0 1011.8 755.7 1012.2 771.8 1012.6 759.1 1013.0 769.5 1013.3 780.9 1013.7 785.6 1014.1 780.2 1014.5 770.6 1014.9 812.9 1015.3 761.7 1015.7 751.5 1016.1 770.6 1016.5 782.9 1016.9 790.8 1017.3 761.5 1017.7 761.1 1018.1 766.1 1018.4 756.9 1018.8 776.4 1019.2 770.4 1019.6 762.8 1020.0 769.9 1020.4 759.7 1020.8 754.6 1021.2 770.4 1021.6 780.3 1022.0 776.8 1022.4 750.8 1022.8 783.6 1023.2 765.5 1023.6 780.5 1023.9 733.3 1024.3 775.3 1024.7 757.1 1025.1 789.6 1025.5 720.5 1025.9 785.1 1026.3 760.9 1026.7 783.8 1027.1 746.0 1027.5 783.8 1027.9 772.1 1028.3 788.5 1028.7 771.4 1029.0 765.7 1029.4 740.8 1029.8 798.5 1030.2 757.8 1030.6 764.9 1031.0 774.2 1031.4 768.5 1031.8 759.8 1032.2 765.9 1032.6 766.5 1033.0 776.9 1033.4 771.7 1033.8 759.4 1034.2 779.8 1034.5 774.3 1034.9 766.2 1035.3 762.8 1035.7 762.3 1036.1 771.0 1036.5 797.4 1036.9 757.8 1037.3 754.7 1037.7 752.2 1038.1 764.7 1038.5 749.4 1038.9 774.4 1039.3 786.4 1039.6 773.3 1040.0 777.1 1040.4 757.2 1040.8 760.4 1041.2 779.4 1041.6 778.4 1042.0 773.3 1042.4 772.0 1042.8 753.1 1043.2 780.6 1043.6 755.6 1044.0 794.1 1044.4 784.2 1044.8 751.1 1045.1 769.6 1045.5 774.1 1045.9 767.4 1046.3 779.2 1046.7 775.6 1047.1 773.6 1047.5 773.9" fill="none" stroke="#1a6db0" stroke-width="1.4"/>
<path d="M654.9 779.8h0M655.3 774.7h0M655.7 804.4h0M656.1 750.5h0M656.5 799.5h0M656.9 794.3h0M657.3 766.7h0M657.6 791.7h0M658.0 789.0h0M658.4 786.9h0M658.8 766.0h0M659.2 741.2h0M659.6 773.3h0M660.0 789.8h0M660.4 766.2h0M660.8 782.4h0M661.2 774.2h0M661.6 745.4h0M662.0 784.6h0M662.4 773.8h0M662.8 786.4h0M663.1 776.1h0M663.5 770.2h0M663.9 788.0h0M664.3 778.7h0M664.7 777.3h0M665.1 783.0h0M665.5 790.8h0M665.9 794.2h0M666.3 776.1h0M666.7 777.7h0M667.1 728.2h0M667.5 808.6h0M667.9 772.3h0M668.2 768.6h0M668.6 754.5h0M669.0 766.7h0M669.4 785.9h0M669.8 773.9h0M670.2 766.1h0M670.6 778.4h0M671.0 762.9h0M671.4 800.5h0M671.8 749.2h0M672.2 752.9h0M672.6 782.0h0M673.0 765.2h0M673.4 773.2h0M673.7 785.7h0M674.1 771.8h0M674.5 759.6h0M674.9 779.3h0M675.3 779.2h0M675.7 774.9h0M676.1 767.7h0M676.5 755.6h0M676.9 782.9h0M677.3 766.6h0M677.7 770.8h0M678.1 800.4h0M678.5 779.9h0M678.8 775.8h0M679.2 774.4h0M679.6 769.2h0M680.0 803.0h0M680.4 773.2h0M680.8 783.6h0M681.2 794.4h0M681.6 766.4h0M682.0 763.4h0M682.4 783.2h0M682.8 761.9h0M683.2 779.3h0M683.6 772.9h0M684.0 789.6h0M684.3 751.3h0M684.7 811.8h0M685.1 775.2h0M685.5 764.0h0M685.9 802.9h0M686.3 776.6h0M686.7 775.0h0M687.1 762.1h0M687.5 756.1h0M687.9 779.6h0M688.3 793.6h0M688.7 754.4h0M689.1 756.5h0M689.4 780.5h0M689.8 768.9h0M690.2 768.4h0M690.6 765.8h0M691.0 771.0h0M691.4 753.8h0M691.8 798.7h0M692.2 759.0h0M692.6 768.5h0M693.0 777.0h0M693.4 757.1h0M693.8 807.3h0M694.2 757.3h0M694.6 768.4h0M694.9 790.1h0M695.3 767.7h0M695.7 778.1h0M696.1 736.8h0M696.5 747.4h0M696.9 767.1h0M697.3 783.6h0M697.7 781.5h0M698.1 777.7h0M698.5 780.9h0M698.9 785.7h0M699.3 781.1h0M699.7 776.5h0M700.0 779.8h0M700.4 782.3h0M700.8 785.5h0M701.2 735.7h0M701.6 807.7h0M702.0 786.4h0M702.4 765.5h0M702.8 779.4h0M703.2 761.2h0M703.6 759.9h0M704.0 753.2h0M704.4 760.4h0M704.8 785.2h0M705.2 755.0h0M705.5 795.9h0M705.9 772.3h0M706.3 777.6h0M706.7 785.5h0M707.1 755.9h0M707.5 772.7h0M707.9 755.5h0M708.3 791.0h0M708.7 757.7h0M709.1 762.5h0M709.5 767.7h0M709.9 789.6h0M710.3 772.9h0M710.6 791.2h0M711.0 798.8h0M711.4 723.2h0M711.8 754.9h0M712.2 743.1h0M712.6 774.7h0M713.0 758.5h0M713.4 758.3h0M713.8 753.6h0M714.2 767.9h0M714.6 771.1h0M715.0 797.2h0M715.4 758.7h0M715.8 761.2h0M716.1 751.1h0M716.5 770.8h0M716.9 741.8h0M717.3 777.4h0M717.7 784.3h0M718.1 752.8h0M718.5 772.7h0M718.9 783.7h0M719.3 763.8h0M719.7 754.6h0M720.1 759.4h0M720.5 758.0h0M720.9 719.2h0M721.2 744.8h0M721.6 742.6h0M722.0 792.7h0M722.4 758.9h0M722.8 752.9h0M723.2 769.0h0M723.6 776.1h0M724.0 757.7h0M724.4 767.7h0M724.8 771.5h0M725.2 746.4h0M725.6 743.6h0M726.0 758.2h0M726.4 768.8h0M726.7 754.8h0M727.1 750.1h0M727.5 752.7h0M727.9 782.3h0M728.3 766.2h0M728.7 756.1h0M729.1 752.1h0M729.5 747.1h0M729.9 749.8h0M730.3 788.0h0M730.7 770.4h0M731.1 777.5h0M731.5 734.2h0M731.8 757.2h0M732.2 751.6h0M732.6 744.6h0M733.0 763.8h0M733.4 775.3h0M733.8 764.8h0M734.2 760.6h0M734.6 736.8h0M735.0 736.9h0M735.4 773.3h0M735.8 748.1h0M736.2 746.9h0M736.6 772.3h0M737.0 758.5h0M737.3 783.2h0M737.7 751.8h0M738.1 760.8h0M738.5 788.9h0M738.9 765.9h0M739.3 752.3h0M739.7 763.4h0M740.1 751.0h0M740.5 747.2h0M740.9 766.8h0M741.3 759.1h0M741.7 723.8h0M742.1 752.5h0M742.4 766.1h0M742.8 752.9h0M743.2 772.6h0M743.6 737.2h0M744.0 747.8h0M744.4 737.4h0M744.8 739.8h0M745.2 746.9h0M745.6 738.3h0M746.0 749.3h0M746.4 761.3h0M746.8 766.2h0M747.2 757.8h0M747.6 786.9h0M747.9 724.9h0M748.3 775.2h0M748.7 751.6h0M749.1 769.1h0M749.5 779.0h0M749.9 751.1h0M750.3 754.0h0M750.7 751.8h0M751.1 741.4h0M751.5 757.9h0M751.9 743.4h0M752.3 741.3h0M752.7 753.2h0M753.0 752.2h0M753.4 740.2h0M753.8 746.8h0M754.2 745.1h0M754.6 781.0h0M755.0 746.0h0M755.4 741.2h0M755.8 748.2h0M756.2 741.2h0M756.6 718.5h0M757.0 744.2h0M757.4 735.7h0M757.8 757.0h0M758.2 756.8h0M758.5 751.2h0M758.9 758.6h0M759.3 743.9h0M759.7 756.9h0M760.1 745.8h0M760.5 777.9h0M760.9 766.3h0M761.3 752.1h0M761.7 757.4h0M762.1 751.2h0M762.5 756.5h0M762.9 746.4h0M763.3 726.1h0M763.7 707.6h0M764.0 730.2h0M764.4 745.4h0M764.8 718.6h0M765.2 761.5h0M765.6 768.3h0M766.0 735.3h0M766.4 738.9h0M766.8 740.6h0M767.2 737.9h0M767.6 761.5h0M768.0 754.3h0M768.4 719.9h0M768.8 722.6h0M769.1 754.5h0M769.5 709.1h0M769.9 751.6h0M770.3 744.2h0M770.7 731.6h0M771.1 752.5h0M771.5 742.1h0M771.9 739.0h0M772.3 740.2h0M772.7 721.8h0M773.1 725.5h0M773.5 749.3h0M773.9 743.0h0M774.3 730.4h0M774.6 733.7h0M775.0 743.6h0M775.4 726.0h0M775.8 720.1h0M776.2 740.5h0M776.6 719.9h0M777.0 754.0h0M777.4 753.5h0M777.8 723.1h0M778.2 741.9h0M778.6 743.9h0M779.0 733.1h0M779.4 738.7h0M779.7 724.1h0M780.1 749.2h0M780.5 733.4h0M780.9 682.7h0M781.3 725.9h0M781.7 754.5h0M782.1 718.3h0M782.5 718.7h0M782.9 706.5h0M783.3 723.9h0M783.7 735.0h0M784.1 705.3h0M784.5 714.9h0M784.9 750.4h0M785.2 713.8h0M785.6 727.5h0M786.0 708.0h0M786.4 728.9h0M786.8 712.0h0M787.2 720.1h0M787.6 714.2h0M788.0 722.4h0M788.4 727.5h0M788.8 720.0h0M789.2 711.4h0M789.6 713.9h0M790.0 696.2h0M790.3 712.6h0M790.7 702.7h0M791.1 687.6h0M791.5 716.0h0M791.9 708.8h0M792.3 724.5h0M792.7 714.7h0M793.1 691.3h0M793.5 709.7h0M793.9 678.4h0M794.3 728.2h0M794.7 732.4h0M795.1 707.5h0M795.5 730.8h0M795.8 672.1h0M796.2 691.0h0M796.6 725.2h0M797.0 708.4h0M797.4 712.9h0M797.8 697.4h0M798.2 702.8h0M798.6 687.3h0M799.0 680.8h0M799.4 705.9h0M799.8 721.8h0M800.2 699.4h0M800.6 712.1h0M800.9 695.7h0M801.3 716.5h0M801.7 704.9h0M802.1 714.2h0M802.5 724.0h0M802.9 725.1h0M803.3 725.7h0M803.7 725.0h0M804.1 731.8h0M804.5 737.1h0M804.9 738.4h0M805.3 742.9h0M805.7 749.0h0M806.1 748.8h0M806.4 749.3h0M806.8 756.5h0M807.2 761.4h0M807.6 761.1h0M808.0 761.4h0M808.4 768.2h0M808.8 772.8h0M809.2 774.9h0M809.6 781.3h0M810.0 788.1h0M810.4 794.9h0M810.8 799.0h0M811.2 804.4h0M811.5 807.2h0M811.9 815.7h0M812.3 816.8h0M812.7 826.1h0M813.1 833.5h0M813.5 837.2h0M813.9 849.7h0M814.3 853.3h0M814.7 859.2h0M815.1 862.3h0M815.5 871.4h0M815.9 873.6h0M816.3 884.9h0M816.7 890.1h0M817.0 900.0h0M817.4 903.3h0M817.8 914.0h0M818.2 918.4h0M818.6 933.5h0M819.0 945.9h0M819.4 946.8h0M819.8 913.8h0M820.2 940.4h0M820.6 944.0h0M821.0 922.9h0M821.4 903.8h0M821.8 926.3h0M822.1 915.4h0M822.5 901.4h0M822.9 905.3h0M823.3 893.1h0M823.7 876.8h0M824.1 890.0h0M824.5 887.8h0M824.9 872.6h0M825.3 882.0h0M825.7 891.3h0M826.1 889.3h0M826.5 888.0h0M826.9 823.6h0M827.3 867.1h0M827.6 849.7h0M828.0 850.6h0M828.4 871.5h0M828.8 846.3h0M829.2 860.5h0M829.6 879.4h0M830.0 849.9h0M830.4 859.4h0M830.8 846.1h0M831.2 833.5h0M831.6 803.1h0M832.0 839.9h0M832.4 832.7h0M832.7 823.4h0M833.1 824.3h0M833.5 827.5h0M833.9 839.0h0M834.3 835.5h0M834.7 822.7h0M835.1 835.0h0M835.5 826.1h0M835.9 832.8h0M836.3 797.2h0M836.7 832.9h0M837.1 782.7h0M837.5 816.4h0M837.9 821.5h0M838.2 821.6h0M838.6 791.9h0M839.0 786.6h0M839.4 811.7h0M839.8 793.1h0M840.2 798.3h0M840.6 797.9h0M841.0 790.6h0M841.4 780.1h0M841.8 816.6h0M842.2 833.2h0M842.6 782.9h0M843.0 785.2h0M843.3 772.7h0M843.7 805.2h0M844.1 793.4h0M844.5 755.7h0M844.9 794.9h0M845.3 765.8h0M845.7 784.4h0M846.1 777.2h0M846.5 789.5h0M846.9 751.4h0M847.3 793.9h0M847.7 782.3h0M848.1 776.6h0M848.5 745.2h0M848.8 756.2h0M849.2 749.2h0M849.6 757.6h0M850.0 752.4h0M850.4 747.1h0M850.8 730.5h0M851.2 747.5h0M851.6 770.3h0M852.0 731.2h0M852.4 744.5h0M852.8 760.0h0M853.2 745.0h0M853.6 754.8h0M853.9 709.3h0M854.3 742.3h0M854.7 764.9h0M855.1 731.3h0M855.5 746.7h0M855.9 715.8h0M856.3 731.5h0M856.7 758.1h0M857.1 739.2h0M857.5 746.8h0M857.9 741.4h0M858.3 739.1h0M858.7 757.8h0M859.1 725.6h0M859.4 740.2h0M859.8 739.8h0M860.2 715.6h0M860.6 698.5h0M861.0 733.9h0M861.4 698.3h0M861.8 752.8h0M862.2 714.7h0M862.6 730.2h0M863.0 722.0h0M863.4 734.1h0M863.8 727.6h0M864.2 722.6h0M864.5 722.2h0M864.9 710.4h0M865.3 682.1h0M865.7 729.8h0M866.1 715.7h0M866.5 737.5h0M866.9 747.6h0M867.3 690.8h0M867.7 728.7h0M868.1 719.4h0M868.5 707.4h0M868.9 693.9h0M869.3 701.5h0M869.7 678.5h0M870.0 707.1h0M870.4 729.9h0M870.8 699.7h0M871.2 700.7h0M871.6 678.8h0M872.0 705.8h0M872.4 708.7h0M872.8 674.9h0M873.2 715.3h0M873.6 733.3h0M874.0 716.2h0M874.4 753.1h0M874.8 727.8h0M875.1 739.9h0M875.5 749.4h0M875.9 755.7h0M876.3 762.6h0M876.7 764.7h0M877.1 773.9h0M877.5 783.9h0M877.9 790.5h0M878.3 794.6h0M878.7 801.0h0M879.1 809.2h0M879.5 813.5h0M879.9 821.1h0M880.3 824.9h0M880.6 832.9h0M881.0 841.9h0M881.4 848.9h0M881.8 858.8h0M882.2 861.4h0M882.6 871.5h0M883.0 881.0h0M883.4 887.5h0M883.8 896.6h0M884.2 897.9h0M884.6 911.9h0M885.0 913.6h0M885.4 917.8h0M885.7 924.2h0M886.1 926.3h0M886.5 930.8h0M886.9 933.5h0M887.3 937.3h0M887.7 940.1h0M888.1 934.4h0M888.5 959.3h0M888.9 960.8h0M889.3 965.5h0M889.7 973.3h0M890.1 998.5h0M890.5 943.5h0M890.9 956.8h0M891.2 956.2h0M891.6 974.4h0M892.0 969.7h0M892.4 981.7h0M892.8 944.8h0M893.2 931.3h0M893.6 929.9h0M894.0 937.0h0M894.4 959.6h0M894.8 931.1h0M895.2 928.4h0M895.6 915.9h0M896.0 913.7h0M896.3 927.7h0M896.7 923.7h0M897.1 912.6h0M897.5 915.2h0M897.9 923.5h0M898.3 951.3h0M898.7 929.1h0M899.1 906.9h0M899.5 916.0h0M899.9 903.8h0M900.3 921.6h0M900.7 914.8h0M901.1 903.9h0M901.5 904.7h0M901.8 908.2h0M902.2 897.5h0M902.6 893.3h0M903.0 891.8h0M903.4 934.4h0M903.8 917.1h0M904.2 914.1h0M904.6 913.9h0M905.0 931.3h0M905.4 888.7h0M905.8 920.8h0M906.2 904.4h0M906.6 939.3h0M906.9 911.0h0M907.3 906.3h0M907.7 914.8h0M908.1 889.7h0M908.5 865.0h0M908.9 910.3h0M909.3 909.0h0M909.7 870.4h0M910.1 886.2h0M910.5 900.7h0M910.9 910.1h0M911.3 872.9h0M911.7 886.4h0M912.1 866.1h0M912.4 899.5h0M912.8 888.4h0M913.2 889.1h0M913.6 886.6h0M914.0 867.2h0M914.4 868.8h0M914.8 888.5h0M915.2 879.1h0M915.6 881.9h0M916.0 862.1h0M916.4 875.8h0M916.8 887.7h0M917.2 875.2h0M917.5 869.4h0M917.9 854.1h0M918.3 847.5h0M918.7 845.8h0M919.1 857.5h0M919.5 873.8h0M919.9 851.4h0M920.3 860.9h0M920.7 865.6h0M921.1 851.0h0M921.5 847.9h0M921.9 839.8h0M922.3 863.5h0M922.7 873.0h0M923.0 840.5h0M923.4 859.9h0M923.8 830.4h0M924.2 858.9h0M924.6 850.0h0M925.0 884.1h0M925.4 809.9h0M925.8 844.7h0M926.2 838.5h0M926.6 843.9h0M927.0 838.9h0M927.4 822.8h0M927.8 832.2h0M928.1 833.0h0M928.5 814.9h0M928.9 850.3h0M929.3 814.0h0M929.7 806.4h0M930.1 848.1h0M930.5 823.5h0M930.9 844.9h0M931.3 855.7h0M931.7 836.8h0M932.1 816.3h0M932.5 812.1h0M932.9 827.2h0M933.3 842.3h0M933.6 831.0h0M934.0 829.5h0M934.4 827.3h0M934.8 851.8h0M935.2 819.9h0M935.6 817.3h0M936.0 783.6h0M936.4 804.3h0M936.8 815.5h0M937.2 812.0h0M937.6 807.9h0M938.0 829.3h0M938.4 841.4h0M938.7 821.6h0M939.1 814.0h0M939.5 808.6h0M939.9 820.0h0M940.3 822.5h0M940.7 812.7h0M941.1 807.7h0M941.5 799.8h0M941.9 810.9h0M942.3 800.8h0M942.7 820.8h0M943.1 794.5h0M943.5 806.4h0M943.9 824.6h0M944.2 808.3h0M944.6 802.7h0M945.0 818.9h0M945.4 792.9h0M945.8 807.6h0M946.2 795.8h0M946.6 816.1h0M947.0 797.0h0M947.4 790.6h0M947.8 806.7h0M948.2 802.7h0M948.6 807.7h0M949.0 794.3h0M949.3 798.1h0M949.7 791.0h0M950.1 798.5h0M950.5 815.3h0M950.9 815.5h0M951.3 802.9h0M951.7 789.6h0M952.1 763.6h0M952.5 783.2h0M952.9 804.1h0M953.3 823.9h0M953.7 787.4h0M954.1 794.2h0M954.5 811.4h0M954.8 781.1h0M955.2 793.4h0M955.6 799.1h0M956.0 820.5h0M956.4 769.4h0M956.8 791.4h0M957.2 795.6h0M957.6 805.5h0M958.0 796.7h0M958.4 773.5h0M958.8 783.4h0M959.2 761.9h0M959.6 775.1h0M960.0 785.0h0M960.3 776.8h0M960.7 787.0h0M961.1 809.7h0M961.5 797.3h0M961.9 783.7h0M962.3 801.5h0M962.7 795.2h0M963.1 805.3h0M963.5 763.1h0M963.9 805.8h0M964.3 801.5h0M964.7 799.0h0M965.1 772.2h0M965.4 769.7h0M965.8 793.4h0M966.2 776.9h0M966.6 797.6h0M967.0 784.5h0M967.4 747.0h0M967.8 770.5h0M968.2 784.3h0M968.6 802.3h0M969.0 787.3h0M969.4 801.6h0M969.8 813.7h0M970.2 773.6h0M970.6 773.8h0M970.9 779.1h0M971.3 767.5h0M971.7 805.4h0M972.1 761.4h0M972.5 796.6h0M972.9 775.6h0M973.3 774.3h0M973.7 754.5h0M974.1 751.9h0M974.5 775.2h0M974.9 785.5h0M975.3 795.7h0M975.7 775.9h0M976.0 791.6h0M976.4 798.6h0M976.8 782.0h0M977.2 769.3h0M977.6 783.1h0M978.0 804.1h0M978.4 776.3h0M978.8 795.9h0M979.2 799.6h0M979.6 757.0h0M980.0 774.1h0M980.4 749.2h0M980.8 798.3h0M981.2 762.3h0M981.5 779.4h0M981.9 738.5h0M982.3 779.6h0M982.7 787.1h0M983.1 770.1h0M983.5 773.3h0M983.9 782.3h0M984.3 762.6h0M984.7 765.6h0M985.1 762.6h0M985.5 769.3h0M985.9 792.1h0M986.3 784.7h0M986.6 766.0h0M987.0 787.7h0M987.4 749.9h0M987.8 773.2h0M988.2 785.1h0M988.6 758.9h0M989.0 773.8h0M989.4 756.3h0M989.8 770.3h0M990.2 748.0h0M990.6 782.4h0M991.0 804.1h0M991.4 794.5h0M991.8 796.0h0M992.1 764.2h0M992.5 728.6h0M992.9 775.1h0M993.3 791.3h0M993.7 755.5h0M994.1 765.5h0M994.5 777.3h0M994.9 765.9h0M995.3 771.5h0M995.7 787.9h0M996.1 761.6h0M996.5 778.4h0M996.9 784.7h0M997.2 774.4h0M997.6 748.5h0M998.0 742.7h0M998.4 750.6h0M998.8 777.6h0M999.2 785.0h0M999.6 765.3h0M1000.0 772.4h0M1000.4 768.0h0M1000.8 786.0h0M1001.2 782.4h0M1001.6 785.0h0M1002.0 750.8h0M1002.4 754.2h0M1002.7 779.0h0M1003.1 760.8h0M1003.5 759.9h0M1003.9 779.5h0M1004.3 768.6h0M1004.7 757.1h0M1005.1 783.0h0M1005.5 750.6h0M1005.9 771.2h0M1006.3 767.3h0M1006.7 771.6h0M1007.1 804.0h0M1007.5 763.2h0M1007.8 768.1h0M1008.2 777.9h0M1008.6 771.1h0M1009.0 761.9h0M1009.4 769.9h0M1009.8 775.4h0M1010.2 766.6h0M1010.6 756.9h0M1011.0 767.1h0M1011.4 779.0h0M1011.8 755.7h0M1012.2 771.8h0M1012.6 759.1h0M1013.0 769.5h0M1013.3 780.9h0M1013.7 785.6h0M1014.1 780.2h0M1014.5 770.6h0M1014.9 812.9h0M1015.3 761.7h0M1015.7 751.5h0M1016.1 770.6h0M1016.5 782.9h0M1016.9 790.8h0M1017.3 761.5h0M1017.7 761.1h0M1018.1 766.1h0M1018.4 756.9h0M1018.8 776.4h0M1019.2 770.4h0M1019.6 762.8h0M1020.0 769.9h0M1020.4 759.7h0M1020.8 754.6h0M1021.2 770.4h0M1021.6 780.3h0M1022.0 776.8h0M1022.4 750.8h0M1022.8 783.6h0M1023.2 765.5h0M1023.6 780.5h0M1023.9 733.3h0M1024.3 775.3h0M1024.7 757.1h0M1025.1 789.6h0M1025.5 720.5h0M1025.9 785.1h0M1026.3 760.9h0M1026.7 783.8h0M1027.1 746.0h0M1027.5 783.8h0M1027.9 772.1h0M1028.3 788.5h0M1028.7 771.4h0M1029.0 765.7h0M1029.4 740.8h0M1029.8 798.5h0M1030.2 757.8h0M1030.6 764.9h0M1031.0 774.2h0M1031.4 768.5h0M1031.8 759.8h0M1032.2 765.9h0M1032.6 766.5h0M1033.0 776.9h0M1033.4 771.7h0M1033.8 759.4h0M1034.2 779.8h0M1034.5 774.3h0M1034.9 766.2h0M1035.3 762.8h0M1035.7 762.3h0M1036.1 771.0h0M1036.5 797.4h0M1036.9 757.8h0M1037.3 754.7h0M1037.7 752.2h0M1038.1 764.7h0M1038.5 749.4h0M1038.9 774.4h0M1039.3 786.4h0M1039.6 773.3h0M1040.0 777.1h0M1040.4 757.2h0M1040.8 760.4h0M1041.2 779.4h0M1041.6 778.4h0M1042.0 773.3h0M1042.4 772.0h0M1042.8 753.1h0M1043.2 780.6h0M1043.6 755.6h0M1044.0 794.1h0M1044.4 784.2h0M1044.8 751.1h0M1045.1 769.6h0M1045.5 774.1h0M1045.9 767.4h0M1046.3 779.2h0M1046.7 775.6h0M1047.1 773.6h0M1047.5 773.9h0" stroke="#1c64e2" stroke-width="8.2" stroke-linecap="round" fill="none"/>
<path d="M785.8 1053.6v-7M785.8 654.0v7M916.6 1053.6v-7M916.6 654.0v7M654.9 654.0h7M1047.5 654.0h-7M654.9 768.2h7M1047.5 768.2h-7M654.9 882.3h7M1047.5 882.3h-7M654.9 996.5h7M1047.5 996.5h-7" stroke="#262626" stroke-width="1.6" fill="none"/>
<rect x="654.9" y="654.0" width="392.6" height="399.6" fill="none" stroke="#262626" stroke-width="1.9"/>
<text x="640.3" y="659.2" font-size="29" text-anchor="end" fill="#262626" font-weight="normal" >0.04</text>
<text x="635.8" y="773.4" font-size="29" text-anchor="end" fill="#262626" font-weight="normal" >0</text>
<text x="641.4" y="887.8" font-size="29" text-anchor="end" fill="#262626" font-weight="normal" >-0.04</text>
<text x="641.4" y="1002.4" font-size="29" text-anchor="end" fill="#262626" font-weight="normal" >-0.08</text>
<text x="656.0" y="1088.9" font-size="29" text-anchor="middle" fill="#262626" font-weight="normal" >1.1</text>
<text x="788.9" y="1088.9" font-size="29" text-anchor="middle" fill="#262626" font-weight="normal" >1.12</text>
<text x="919.5" y="1088.9" font-size="29" text-anchor="middle" fill="#262626" font-weight="normal" >1.14</text>
<text x="1050.4" y="1088.9" font-size="29" text-anchor="middle" fill="#262626" font-weight="normal" >1.16</text>
<text x="854.5" y="1122.2" font-size="29" text-anchor="middle" fill="#262626" font-weight="normal" >Energy (eV)</text>
<text x="937.4" y="1021.9" font-size="25" text-anchor="start" fill="#000" font-weight="normal" >tML/ML</text>
<path d="M820.7 957.2l19.7 -0.8l-5.2 5.6l11.3 5.7l-2.4 4.6l-11.1 -5.8l-1.1 7.2z" fill="#1a1a1a"/>
<path d="M1187.7 688.3 1188.1 715.2 1188.5 722.2 1188.9 761.0 1189.3 730.3 1189.7 732.2 1190.1 727.2 1190.4 738.2 1190.8 727.2 1191.2 736.0 1191.6 752.8 1192.0 710.1 1192.4 710.5 1192.8 694.7 1193.2 727.6 1193.6 742.4 1194.0 740.0 1194.4 759.9 1194.8 697.3 1195.2 751.9 1195.5 754.0 1195.9 735.1 1196.3 702.4 1196.7 727.2 1197.1 752.3 1197.5 746.6 1197.9 712.1 1198.3 736.5 1198.7 748.8 1199.1 741.7 1199.5 719.8 1199.9 696.1 1200.3 759.5 1200.6 747.8 1201.0 751.7 1201.4 783.7 1201.8 754.7 1202.2 757.1 1202.6 715.4 1203.0 740.3 1203.4 769.9 1203.8 725.8 1204.2 745.8 1204.6 773.4 1205.0 751.6 1205.4 752.3 1205.8 758.7 1206.1 741.9 1206.5 787.4 1206.9 753.1 1207.3 725.2 1207.7 729.1 1208.1 725.0 1208.5 725.6 1208.9 719.2 1209.3 771.1 1209.7 721.9 1210.1 787.4 1210.5 763.6 1210.9 790.1 1211.2 732.9 1211.6 728.2 1212.0 759.0 1212.4 721.2 1212.8 770.1 1213.2 754.7 1213.6 755.6 1214.0 780.2 1214.4 751.7 1214.8 723.1 1215.2 796.1 1215.6 745.2 1216.0 766.9 1216.3 730.7 1216.7 757.5 1217.1 755.3 1217.5 757.5 1217.9 766.7 1218.3 800.5 1218.7 747.5 1219.1 803.1 1219.5 773.2 1219.9 767.4 1220.3 797.4 1220.7 779.6 1221.1 761.2 1221.4 786.1 1221.8 804.6 1222.2 845.8 1222.6 809.3 1223.0 803.4 1223.4 803.5 1223.8 813.7 1224.2 789.1 1224.6 809.3 1225.0 801.7 1225.4 787.8 1225.8 819.4 1226.2 810.1 1226.5 743.1 1226.9 790.2 1227.3 833.5 1227.7 810.6 1228.1 798.9 1228.5 786.6 1228.9 808.8 1229.3 822.9 1229.7 827.7 1230.1 801.7 1230.5 809.0 1230.9 826.2 1231.3 820.6 1231.6 825.9 1232.0 804.5 1232.4 833.1 1232.8 810.9 1233.2 804.6 1233.6 812.6 1234.0 839.4 1234.4 796.3 1234.8 834.8 1235.2 812.1 1235.6 834.2 1236.0 852.5 1236.4 812.9 1236.7 810.6 1237.1 816.7 1237.5 808.7 1237.9 825.7 1238.3 826.4 1238.7 814.2 1239.1 772.4 1239.5 792.8 1239.9 817.9 1240.3 795.9 1240.7 815.6 1241.1 814.5 1241.5 788.0 1241.9 814.4 1242.2 836.3 1242.6 820.5 1243.0 800.3 1243.4 798.9 1243.8 776.4 1244.2 814.0 1244.6 785.0 1245.0 790.3 1245.4 800.9 1245.8 780.9 1246.2 786.9 1246.6 812.8 1247.0 774.2 1247.3 818.4 1247.7 792.7 1248.1 793.1 1248.5 784.2 1248.9 806.0 1249.3 791.8 1249.7 793.1 1250.1 770.2 1250.5 804.6 1250.9 786.8 1251.3 792.7 1251.7 812.3 1252.1 733.7 1252.4 786.8 1252.8 813.9 1253.2 756.4 1253.6 804.3 1254.0 775.4 1254.4 765.0 1254.8 793.9 1255.2 789.0 1255.6 790.4 1256.0 781.6 1256.4 810.2 1256.8 801.9 1257.2 779.7 1257.5 755.9 1257.9 763.2 1258.3 741.0 1258.7 760.6 1259.1 783.5 1259.5 775.2 1259.9 811.8 1260.3 790.2 1260.7 793.2 1261.1 769.9 1261.5 764.4 1261.9 790.0 1262.3 792.5 1262.6 813.2 1263.0 787.3 1263.4 781.8 1263.8 779.9 1264.2 821.3 1264.6 811.3 1265.0 824.9 1265.4 839.9 1265.8 853.4 1266.2 865.6 1266.6 877.0 1267.0 890.3 1267.4 901.6 1267.7 909.4 1268.1 914.3 1268.5 921.5 1268.9 933.6 1269.3 930.5 1269.7 952.2 1270.1 962.8 1270.5 917.8 1270.9 968.3 1271.3 998.4 1271.7 974.1 1272.1 966.3 1272.5 932.6 1272.9 966.0 1273.2 956.3 1273.6 966.4 1274.0 968.6 1274.4 960.1 1274.8 967.2 1275.2 920.1 1275.6 952.9 1276.0 913.5 1276.4 997.5 1276.8 942.1 1277.2 929.0 1277.6 943.4 1278.0 913.8 1278.3 920.3 1278.7 935.8 1279.1 919.2 1279.5 870.1 1279.9 917.6 1280.3 914.1 1280.7 925.9 1281.1 912.1 1281.5 937.3 1281.9 913.3 1282.3 858.7 1282.7 883.3 1283.1 889.0 1283.4 877.4 1283.8 859.5 1284.2 882.1 1284.6 850.6 1285.0 867.6 1285.4 882.6 1285.8 849.6 1286.2 928.7 1286.6 892.8 1287.0 875.6 1287.4 897.8 1287.8 882.2 1288.2 890.8 1288.5 890.3 1288.9 823.5 1289.3 863.5 1289.7 876.0 1290.1 848.3 1290.5 877.9 1290.9 855.1 1291.3 864.7 1291.7 838.9 1292.1 897.7 1292.5 854.1 1292.9 865.9 1293.3 890.1 1293.6 845.7 1294.0 882.9 1294.4 833.2 1294.8 854.0 1295.2 849.6 1295.6 860.8 1296.0 843.9 1296.4 897.3 1296.8 858.5 1297.2 871.4 1297.6 852.7 1298.0 859.0 1298.4 844.5 1298.7 872.2 1299.1 818.9 1299.5 791.4 1299.9 857.3 1300.3 852.7 1300.7 845.9 1301.1 826.3 1301.5 813.4 1301.9 873.8 1302.3 861.8 1302.7 870.1 1303.1 870.7 1303.5 880.6 1303.9 840.9 1304.2 870.3 1304.6 817.8 1305.0 829.0 1305.4 866.5 1305.8 866.1 1306.2 857.5 1306.6 817.7 1307.0 861.3 1307.4 873.5 1307.8 844.8 1308.2 836.1 1308.6 855.9 1309.0 810.8 1309.3 837.4 1309.7 832.8 1310.1 858.0 1310.5 841.6 1310.9 843.5 1311.3 902.7 1311.7 834.0 1312.1 874.3 1312.5 839.3 1312.9 867.2 1313.3 798.3 1313.7 831.1 1314.1 808.4 1314.4 818.6 1314.8 880.3 1315.2 880.5 1315.6 841.8 1316.0 817.4 1316.4 832.7 1316.8 807.9 1317.2 802.5 1317.6 862.5 1318.0 827.2 1318.4 793.9 1318.8 843.1 1319.2 871.3 1319.5 835.7 1319.9 839.8 1320.3 822.1 1320.7 847.3 1321.1 827.7 1321.5 872.4 1321.9 811.9 1322.3 797.1 1322.7 802.3 1323.1 857.0 1323.5 820.9 1323.9 885.4 1324.3 821.3 1324.6 827.9 1325.0 859.7 1325.4 814.9 1325.8 823.5 1326.2 807.6 1326.6 823.4 1327.0 821.1 1327.4 863.7 1327.8 848.1 1328.2 834.6 1328.6 819.3 1329.0 825.0 1329.4 795.4 1329.7 841.6 1330.1 832.4 1330.5 819.3 1330.9 828.6 1331.3 814.2 1331.7 835.0 1332.1 795.8 1332.5 829.7 1332.9 801.5 1333.3 823.7 1333.7 793.8 1334.1 850.2 1334.5 812.6 1334.8 831.0 1335.2 817.8 1335.6 798.8 1336.0 844.3 1336.4 847.8 1336.8 841.3 1337.2 816.6 1337.6 858.4 1338.0 819.3 1338.4 846.3 1338.8 859.0 1339.2 828.0 1339.6 807.9 1340.0 832.7 1340.3 829.9 1340.7 820.9 1341.1 829.0 1341.5 882.5 1341.9 828.1 1342.3 817.8 1342.7 797.8 1343.1 779.1 1343.5 805.9 1343.9 817.3 1344.3 837.6 1344.7 816.8 1345.1 803.1 1345.4 793.4 1345.8 835.3 1346.2 813.2 1346.6 801.7 1347.0 781.1 1347.4 812.4 1347.8 827.8 1348.2 830.6 1348.6 823.9 1349.0 829.5 1349.4 800.4 1349.8 795.5 1350.2 802.1 1350.5 792.8 1350.9 824.8 1351.3 808.3 1351.7 823.2 1352.1 814.6 1352.5 791.3 1352.9 815.4 1353.3 850.9 1353.7 818.8 1354.1 827.3 1354.5 842.4 1354.9 827.8 1355.3 793.0 1355.6 778.4 1356.0 820.5 1356.4 790.7 1356.8 786.8 1357.2 832.1 1357.6 810.2 1358.0 809.3 1358.4 804.5 1358.8 838.6 1359.2 813.8 1359.6 785.7 1360.0 781.2 1360.4 769.6 1360.7 811.6 1361.1 767.8 1361.5 790.9 1361.9 830.1 1362.3 788.1 1362.7 809.4 1363.1 791.8 1363.5 803.5 1363.9 777.3 1364.3 795.5 1364.7 805.5 1365.1 780.6 1365.5 794.0 1365.8 806.6 1366.2 773.0 1366.6 805.5 1367.0 809.5 1367.4 807.1 1367.8 824.8 1368.2 806.4 1368.6 758.6 1369.0 812.4 1369.4 793.9 1369.8 815.3 1370.2 805.1 1370.6 762.8 1371.0 774.5 1371.3 803.6 1371.7 791.0 1372.1 806.8 1372.5 805.5 1372.9 807.6 1373.3 806.7 1373.7 782.3 1374.1 776.5 1374.5 778.1 1374.9 790.5 1375.3 813.2 1375.7 787.3 1376.1 803.5 1376.4 767.6 1376.8 773.3 1377.2 769.0 1377.6 789.9 1378.0 818.0 1378.4 763.2 1378.8 757.3 1379.2 809.8 1379.6 777.5 1380.0 756.2 1380.4 800.1 1380.8 743.8 1381.2 784.7 1381.5 813.1 1381.9 749.8 1382.3 770.4 1382.7 797.3 1383.1 757.7 1383.5 812.7 1383.9 738.3 1384.3 789.2 1384.7 763.1 1385.1 779.9 1385.5 763.0 1385.9 753.5 1386.3 786.5 1386.6 754.4 1387.0 774.9 1387.4 782.1 1387.8 772.4 1388.2 787.1 1388.6 782.5 1389.0 747.7 1389.4 768.7 1389.8 742.8 1390.2 756.1 1390.6 798.1 1391.0 800.6 1391.4 776.3 1391.7 757.1 1392.1 761.5 1392.5 777.3 1392.9 740.7 1393.3 794.1 1393.7 784.0 1394.1 756.3 1394.5 715.3 1394.9 749.7 1395.3 777.0 1395.7 745.2 1396.1 742.9 1396.5 737.4 1396.8 763.3 1397.2 770.4 1397.6 751.9 1398.0 745.6 1398.4 721.9 1398.8 711.7 1399.2 766.5 1399.6 761.9 1400.0 752.4 1400.4 755.5 1400.8 733.9 1401.2 740.1 1401.6 744.0 1402.0 722.2 1402.3 751.1 1402.7 768.1 1403.1 799.0 1403.5 766.6 1403.9 766.4 1404.3 782.4 1404.7 722.9 1405.1 740.8 1405.5 752.2 1405.9 760.8 1406.3 773.9 1406.7 760.4 1407.1 705.7 1407.4 784.7 1407.8 738.1 1408.2 725.8 1408.6 737.1 1409.0 745.5 1409.4 723.7 1409.8 759.9 1410.2 726.9 1410.6 709.2 1411.0 757.1 1411.4 752.3 1411.8 733.0 1412.2 716.0 1412.5 709.2 1412.9 722.2 1413.3 748.8 1413.7 757.6 1414.1 731.1 1414.5 728.1 1414.9 757.5 1415.3 734.9 1415.7 729.6 1416.1 715.8 1416.5 755.7 1416.9 725.5 1417.3 775.4 1417.6 744.9 1418.0 738.2 1418.4 707.0 1418.8 674.2 1419.2 732.0 1419.6 727.3 1420.0 717.4 1420.4 763.9 1420.8 722.3 1421.2 761.7 1421.6 705.5 1422.0 709.3 1422.4 727.8 1422.7 753.5 1423.1 705.1 1423.5 732.8 1423.9 735.8 1424.3 726.7 1424.7 771.7 1425.1 729.8 1425.5 718.8 1425.9 731.7 1426.3 735.6 1426.7 757.2 1427.1 726.0 1427.5 734.8 1427.8 738.6 1428.2 749.9 1428.6 722.2 1429.0 714.6 1429.4 731.6 1429.8 721.7 1430.2 713.4 1430.6 708.3 1431.0 735.1 1431.4 743.8 1431.8 747.8 1432.2 739.5 1432.6 729.0 1432.9 721.5 1433.3 748.4 1433.7 737.2 1434.1 759.7 1434.5 715.5 1434.9 748.0 1435.3 733.4 1435.7 754.6 1436.1 746.5 1436.5 754.1 1436.9 707.4 1437.3 733.8 1437.7 746.5 1438.1 759.6 1438.4 753.1 1438.8 730.1 1439.2 708.7 1439.6 769.4 1440.0 759.4 1440.4 745.0 1440.8 762.6 1441.2 774.2 1441.6 741.4 1442.0 727.2 1442.4 772.9 1442.8 737.9 1443.2 723.3 1443.5 723.0 1443.9 750.6 1444.3 697.3 1444.7 731.6 1445.1 758.5 1445.5 723.4 1445.9 764.7 1446.3 725.3 1446.7 767.6 1447.1 727.5 1447.5 754.5 1447.9 721.0 1448.3 728.8 1448.6 734.6 1449.0 743.3 1449.4 724.3 1449.8 782.0 1450.2 739.4 1450.6 740.9 1451.0 739.1 1451.4 735.0 1451.8 689.6 1452.2 751.1 1452.6 738.8 1453.0 752.7 1453.4 726.0 1453.7 797.5 1454.1 725.8 1454.5 773.5 1454.9 805.6 1455.3 783.5 1455.7 766.9 1456.1 760.8 1456.5 766.6 1456.9 750.9 1457.3 768.7 1457.7 770.3 1458.1 812.2 1458.5 761.8 1458.8 754.8 1459.2 786.2 1459.6 818.0 1460.0 810.7 1460.4 755.0 1460.8 803.0 1461.2 807.4 1461.6 813.8 1462.0 787.7 1462.4 815.8 1462.8 824.6 1463.2 840.4 1463.6 816.3 1463.9 796.4 1464.3 820.0 1464.7 800.8 1465.1 815.7 1465.5 817.3 1465.9 817.8 1466.3 821.6 1466.7 803.3 1467.1 814.9 1467.5 836.8 1467.9 824.0 1468.3 829.1 1468.7 819.1 1469.1 826.1 1469.4 822.6 1469.8 860.7 1470.2 825.4 1470.6 808.1 1471.0 879.9 1471.4 804.6 1471.8 831.2 1472.2 842.1 1472.6 874.5 1473.0 818.8 1473.4 860.2 1473.8 852.3 1474.2 825.1 1474.5 861.4 1474.9 858.6 1475.3 859.9 1475.7 837.5 1476.1 821.8 1476.5 823.4 1476.9 821.3 1477.3 834.1 1477.7 822.6 1478.1 836.8 1478.5 782.2 1478.9 815.5 1479.3 855.6 1479.6 836.3 1480.0 781.9 1480.4 838.1 1480.8 817.9 1481.2 799.4 1481.6 841.8 1482.0 782.4 1482.4 769.3 1482.8 817.2 1483.2 777.8 1483.6 816.3 1484.0 817.2 1484.4 791.7 1484.7 790.8 1485.1 806.0 1485.5 776.7 1485.9 820.8 1486.3 807.7 1486.7 825.7 1487.1 773.8 1487.5 771.8 1487.9 773.3 1488.3 810.6 1488.7 781.5 1489.1 774.0 1489.5 813.6 1489.8 796.8 1490.2 767.0 1490.6 764.7 1491.0 772.4 1491.4 765.6 1491.8 768.8 1492.2 771.0 1492.6 775.0 1493.0 788.8 1493.4 776.0 1493.8 779.0 1494.2 725.5 1494.6 765.7 1494.9 770.8 1495.3 775.0 1495.7 772.6 1496.1 775.5 1496.5 759.3 1496.9 770.4 1497.3 753.8 1497.7 783.1 1498.1 762.5 1498.5 752.0 1498.9 791.7 1499.3 765.6 1499.7 760.5 1500.1 775.1 1500.4 778.0 1500.8 804.6 1501.2 745.6 1501.6 786.2 1502.0 792.1 1502.4 754.7 1502.8 803.4 1503.2 748.5 1503.6 758.7 1504.0 755.3 1504.4 770.1 1504.8 790.5 1505.2 803.5 1505.5 737.8 1505.9 775.5 1506.3 776.2 1506.7 734.9 1507.1 778.1 1507.5 770.3 1507.9 770.1 1508.3 768.0 1508.7 785.5 1509.1 776.0 1509.5 739.6 1509.9 749.8 1510.3 822.8 1510.6 802.7 1511.0 757.7 1511.4 766.3 1511.8 771.2 1512.2 743.3 1512.6 798.5 1513.0 739.9 1513.4 760.7 1513.8 752.4 1514.2 758.0 1514.6 746.2 1515.0 767.5 1515.4 773.1 1515.7 747.0 1516.1 758.7 1516.5 786.6 1516.9 735.4 1517.3 738.0 1517.7 733.3 1518.1 759.8 1518.5 754.4 1518.9 768.5 1519.3 780.0 1519.7 759.5 1520.1 757.1 1520.5 773.4 1520.8 724.4 1521.2 791.8 1521.6 787.1 1522.0 773.0 1522.4 734.4 1522.8 764.5 1523.2 765.7 1523.6 776.5 1524.0 774.0 1524.4 784.4 1524.8 738.8 1525.2 746.6 1525.6 739.0 1525.9 771.2 1526.3 708.9 1526.7 777.1 1527.1 798.0 1527.5 763.3 1527.9 754.7 1528.3 742.5 1528.7 777.0 1529.1 745.4 1529.5 723.3 1529.9 785.0 1530.3 781.1 1530.7 789.7 1531.0 751.4 1531.4 739.2 1531.8 740.8 1532.2 739.3 1532.6 727.8 1533.0 752.9 1533.4 736.5 1533.8 773.7 1534.2 781.2 1534.6 750.0 1535.0 770.6 1535.4 735.3 1535.8 727.3 1536.2 746.2 1536.5 768.4 1536.9 768.4 1537.3 726.8 1537.7 769.1 1538.1 751.5 1538.5 758.2 1538.9 751.9 1539.3 731.3 1539.7 763.2 1540.1 780.1 1540.5 723.9 1540.9 747.8 1541.3 737.8 1541.6 752.2 1542.0 736.4 1542.4 726.7 1542.8 724.6 1543.2 756.5 1543.6 757.9 1544.0 743.1 1544.4 746.7 1544.8 739.5 1545.2 764.3 1545.6 795.8 1546.0 741.3 1546.4 734.6 1546.7 737.2 1547.1 717.1 1547.5 732.7 1547.9 756.9 1548.3 729.8 1548.7 750.6 1549.1 724.2 1549.5 740.7 1549.9 739.6 1550.3 743.9 1550.7 747.1 1551.1 777.3 1551.5 746.7 1551.8 792.2 1552.2 737.8 1552.6 727.9 1553.0 707.2 1553.4 740.1 1553.8 761.6 1554.2 778.7 1554.6 709.5 1555.0 775.6 1555.4 730.2 1555.8 793.0 1556.2 748.9 1556.6 734.5 1556.9 741.6 1557.3 748.9 1557.7 764.3 1558.1 765.9 1558.5 728.4 1558.9 739.7 1559.3 751.5 1559.7 744.3 1560.1 766.6 1560.5 728.5 1560.9 723.8 1561.3 763.9 1561.7 746.7 1562.0 728.2 1562.4 761.4 1562.8 709.0 1563.2 719.3 1563.6 754.4 1564.0 729.8 1564.4 716.5 1564.8 773.5 1565.2 737.0 1565.6 752.1 1566.0 753.5 1566.4 735.4 1566.8 758.8 1567.2 796.1 1567.5 796.9 1567.9 750.0 1568.3 737.3 1568.7 750.2 1569.1 754.8 1569.5 750.8 1569.9 724.6 1570.3 739.5 1570.7 764.6 1571.1 755.7 1571.5 710.0 1571.9 761.5 1572.3 757.9 1572.6 750.8 1573.0 771.2 1573.4 732.7 1573.8 793.3 1574.2 722.1 1574.6 759.1 1575.0 792.5 1575.4 745.1 1575.8 784.2 1576.2 740.3 1576.6 735.7 1577.0 762.2 1577.4 758.6 1577.7 732.4 1578.1 773.4 1578.5 750.7 1578.9 744.4 1579.3 720.7 1579.7 761.1 1580.1 750.7" fill="none" stroke="#1a6db0" stroke-width="1.4"/>
<path d="M1187.7 688.3h0M1188.1 715.2h0M1188.5 722.2h0M1188.9 761.0h0M1189.3 730.3h0M1189.7 732.2h0M1190.1 727.2h0M1190.4 738.2h0M1190.8 727.2h0M1191.2 736.0h0M1191.6 752.8h0M1192.0 710.1h0M1192.4 710.5h0M1192.8 694.7h0M1193.2 727.6h0M1193.6 742.4h0M1194.0 740.0h0M1194.4 759.9h0M1194.8 697.3h0M1195.2 751.9h0M1195.5 754.0h0M1195.9 735.1h0M1196.3 702.4h0M1196.7 727.2h0M1197.1 752.3h0M1197.5 746.6h0M1197.9 712.1h0M1198.3 736.5h0M1198.7 748.8h0M1199.1 741.7h0M1199.5 719.8h0M1199.9 696.1h0M1200.3 759.5h0M1200.6 747.8h0M1201.0 751.7h0M1201.4 783.7h0M1201.8 754.7h0M1202.2 757.1h0M1202.6 715.4h0M1203.0 740.3h0M1203.4 769.9h0M1203.8 725.8h0M1204.2 745.8h0M1204.6 773.4h0M1205.0 751.6h0M1205.4 752.3h0M1205.8 758.7h0M1206.1 741.9h0M1206.5 787.4h0M1206.9 753.1h0M1207.3 725.2h0M1207.7 729.1h0M1208.1 725.0h0M1208.5 725.6h0M1208.9 719.2h0M1209.3 771.1h0M1209.7 721.9h0M1210.1 787.4h0M1210.5 763.6h0M1210.9 790.1h0M1211.2 732.9h0M1211.6 728.2h0M1212.0 759.0h0M1212.4 721.2h0M1212.8 770.1h0M1213.2 754.7h0M1213.6 755.6h0M1214.0 780.2h0M1214.4 751.7h0M1214.8 723.1h0M1215.2 796.1h0M1215.6 745.2h0M1216.0 766.9h0M1216.3 730.7h0M1216.7 757.5h0M1217.1 755.3h0M1217.5 757.5h0M1217.9 766.7h0M1218.3 800.5h0M1218.7 747.5h0M1219.1 803.1h0M1219.5 773.2h0M1219.9 767.4h0M1220.3 797.4h0M1220.7 779.6h0M1221.1 761.2h0M1221.4 786.1h0M1221.8 804.6h0M1222.2 845.8h0M1222.6 809.3h0M1223.0 803.4h0M1223.4 803.5h0M1223.8 813.7h0M1224.2 789.1h0M1224.6 809.3h0M1225.0 801.7h0M1225.4 787.8h0M1225.8 819.4h0M1226.2 810.1h0M1226.5 743.1h0M1226.9 790.2h0M1227.3 833.5h0M1227.7 810.6h0M1228.1 798.9h0M1228.5 786.6h0M1228.9 808.8h0M1229.3 822.9h0M1229.7 827.7h0M1230.1 801.7h0M1230.5 809.0h0M1230.9 826.2h0M1231.3 820.6h0M1231.6 825.9h0M1232.0 804.5h0M1232.4 833.1h0M1232.8 810.9h0M1233.2 804.6h0M1233.6 812.6h0M1234.0 839.4h0M1234.4 796.3h0M1234.8 834.8h0M1235.2 812.1h0M1235.6 834.2h0M1236.0 852.5h0M1236.4 812.9h0M1236.7 810.6h0M1237.1 816.7h0M1237.5 808.7h0M1237.9 825.7h0M1238.3 826.4h0M1238.7 814.2h0M1239.1 772.4h0M1239.5 792.8h0M1239.9 817.9h0M1240.3 795.9h0M1240.7 815.6h0M1241.1 814.5h0M1241.5 788.0h0M1241.9 814.4h0M1242.2 836.3h0M1242.6 820.5h0M1243.0 800.3h0M1243.4 798.9h0M1243.8 776.4h0M1244.2 814.0h0M1244.6 785.0h0M1245.0 790.3h0M1245.4 800.9h0M1245.8 780.9h0M1246.2 786.9h0M1246.6 812.8h0M1247.0 774.2h0M1247.3 818.4h0M1247.7 792.7h0M1248.1 793.1h0M1248.5 784.2h0M1248.9 806.0h0M1249.3 791.8h0M1249.7 793.1h0M1250.1 770.2h0M1250.5 804.6h0M1250.9 786.8h0M1251.3 792.7h0M1251.7 812.3h0M1252.1 733.7h0M1252.4 786.8h0M1252.8 813.9h0M1253.2 756.4h0M1253.6 804.3h0M1254.0 775.4h0M1254.4 765.0h0M1254.8 793.9h0M1255.2 789.0h0M1255.6 790.4h0M1256.0 781.6h0M1256.4 810.2h0M1256.8 801.9h0M1257.2 779.7h0M1257.5 755.9h0M1257.9 763.2h0M1258.3 741.0h0M1258.7 760.6h0M1259.1 783.5h0M1259.5 775.2h0M1259.9 811.8h0M1260.3 790.2h0M1260.7 793.2h0M1261.1 769.9h0M1261.5 764.4h0M1261.9 790.0h0M1262.3 792.5h0M1262.6 813.2h0M1263.0 787.3h0M1263.4 781.8h0M1263.8 779.9h0M1264.2 821.3h0M1264.6 811.3h0M1265.0 824.9h0M1265.4 839.9h0M1265.8 853.4h0M1266.2 865.6h0M1266.6 877.0h0M1267.0 890.3h0M1267.4 901.6h0M1267.7 909.4h0M1268.1 914.3h0M1268.5 921.5h0M1268.9 933.6h0M1269.3 930.5h0M1269.7 952.2h0M1270.1 962.8h0M1270.5 917.8h0M1270.9 968.3h0M1271.3 998.4h0M1271.7 974.1h0M1272.1 966.3h0M1272.5 932.6h0M1272.9 966.0h0M1273.2 956.3h0M1273.6 966.4h0M1274.0 968.6h0M1274.4 960.1h0M1274.8 967.2h0M1275.2 920.1h0M1275.6 952.9h0M1276.0 913.5h0M1276.4 997.5h0M1276.8 942.1h0M1277.2 929.0h0M1277.6 943.4h0M1278.0 913.8h0M1278.3 920.3h0M1278.7 935.8h0M1279.1 919.2h0M1279.5 870.1h0M1279.9 917.6h0M1280.3 914.1h0M1280.7 925.9h0M1281.1 912.1h0M1281.5 937.3h0M1281.9 913.3h0M1282.3 858.7h0M1282.7 883.3h0M1283.1 889.0h0M1283.4 877.4h0M1283.8 859.5h0M1284.2 882.1h0M1284.6 850.6h0M1285.0 867.6h0M1285.4 882.6h0M1285.8 849.6h0M1286.2 928.7h0M1286.6 892.8h0M1287.0 875.6h0M1287.4 897.8h0M1287.8 882.2h0M1288.2 890.8h0M1288.5 890.3h0M1288.9 823.5h0M1289.3 863.5h0M1289.7 876.0h0M1290.1 848.3h0M1290.5 877.9h0M1290.9 855.1h0M1291.3 864.7h0M1291.7 838.9h0M1292.1 897.7h0M1292.5 854.1h0M1292.9 865.9h0M1293.3 890.1h0M1293.6 845.7h0M1294.0 882.9h0M1294.4 833.2h0M1294.8 854.0h0M1295.2 849.6h0M1295.6 860.8h0M1296.0 843.9h0M1296.4 897.3h0M1296.8 858.5h0M1297.2 871.4h0M1297.6 852.7h0M1298.0 859.0h0M1298.4 844.5h0M1298.7 872.2h0M1299.1 818.9h0M1299.5 791.4h0M1299.9 857.3h0M1300.3 852.7h0M1300.7 845.9h0M1301.1 826.3h0M1301.5 813.4h0M1301.9 873.8h0M1302.3 861.8h0M1302.7 870.1h0M1303.1 870.7h0M1303.5 880.6h0M1303.9 840.9h0M1304.2 870.3h0M1304.6 817.8h0M1305.0 829.0h0M1305.4 866.5h0M1305.8 866.1h0M1306.2 857.5h0M1306.6 817.7h0M1307.0 861.3h0M1307.4 873.5h0M1307.8 844.8h0M1308.2 836.1h0M1308.6 855.9h0M1309.0 810.8h0M1309.3 837.4h0M1309.7 832.8h0M1310.1 858.0h0M1310.5 841.6h0M1310.9 843.5h0M1311.3 902.7h0M1311.7 834.0h0M1312.1 874.3h0M1312.5 839.3h0M1312.9 867.2h0M1313.3 798.3h0M1313.7 831.1h0M1314.1 808.4h0M1314.4 818.6h0M1314.8 880.3h0M1315.2 880.5h0M1315.6 841.8h0M1316.0 817.4h0M1316.4 832.7h0M1316.8 807.9h0M1317.2 802.5h0M1317.6 862.5h0M1318.0 827.2h0M1318.4 793.9h0M1318.8 843.1h0M1319.2 871.3h0M1319.5 835.7h0M1319.9 839.8h0M1320.3 822.1h0M1320.7 847.3h0M1321.1 827.7h0M1321.5 872.4h0M1321.9 811.9h0M1322.3 797.1h0M1322.7 802.3h0M1323.1 857.0h0M1323.5 820.9h0M1323.9 885.4h0M1324.3 821.3h0M1324.6 827.9h0M1325.0 859.7h0M1325.4 814.9h0M1325.8 823.5h0M1326.2 807.6h0M1326.6 823.4h0M1327.0 821.1h0M1327.4 863.7h0M1327.8 848.1h0M1328.2 834.6h0M1328.6 819.3h0M1329.0 825.0h0M1329.4 795.4h0M1329.7 841.6h0M1330.1 832.4h0M1330.5 819.3h0M1330.9 828.6h0M1331.3 814.2h0M1331.7 835.0h0M1332.1 795.8h0M1332.5 829.7h0M1332.9 801.5h0M1333.3 823.7h0M1333.7 793.8h0M1334.1 850.2h0M1334.5 812.6h0M1334.8 831.0h0M1335.2 817.8h0M1335.6 798.8h0M1336.0 844.3h0M1336.4 847.8h0M1336.8 841.3h0M1337.2 816.6h0M1337.6 858.4h0M1338.0 819.3h0M1338.4 846.3h0M1338.8 859.0h0M1339.2 828.0h0M1339.6 807.9h0M1340.0 832.7h0M1340.3 829.9h0M1340.7 820.9h0M1341.1 829.0h0M1341.5 882.5h0M1341.9 828.1h0M1342.3 817.8h0M1342.7 797.8h0M1343.1 779.1h0M1343.5 805.9h0M1343.9 817.3h0M1344.3 837.6h0M1344.7 816.8h0M1345.1 803.1h0M1345.4 793.4h0M1345.8 835.3h0M1346.2 813.2h0M1346.6 801.7h0M1347.0 781.1h0M1347.4 812.4h0M1347.8 827.8h0M1348.2 830.6h0M1348.6 823.9h0M1349.0 829.5h0M1349.4 800.4h0M1349.8 795.5h0M1350.2 802.1h0M1350.5 792.8h0M1350.9 824.8h0M1351.3 808.3h0M1351.7 823.2h0M1352.1 814.6h0M1352.5 791.3h0M1352.9 815.4h0M1353.3 850.9h0M1353.7 818.8h0M1354.1 827.3h0M1354.5 842.4h0M1354.9 827.8h0M1355.3 793.0h0M1355.6 778.4h0M1356.0 820.5h0M1356.4 790.7h0M1356.8 786.8h0M1357.2 832.1h0M1357.6 810.2h0M1358.0 809.3h0M1358.4 804.5h0M1358.8 838.6h0M1359.2 813.8h0M1359.6 785.7h0M1360.0 781.2h0M1360.4 769.6h0M1360.7 811.6h0M1361.1 767.8h0M1361.5 790.9h0M1361.9 830.1h0M1362.3 788.1h0M1362.7 809.4h0M1363.1 791.8h0M1363.5 803.5h0M1363.9 777.3h0M1364.3 795.5h0M1364.7 805.5h0M1365.1 780.6h0M1365.5 794.0h0M1365.8 806.6h0M1366.2 773.0h0M1366.6 805.5h0M1367.0 809.5h0M1367.4 807.1h0M1367.8 824.8h0M1368.2 806.4h0M1368.6 758.6h0M1369.0 812.4h0M1369.4 793.9h0M1369.8 815.3h0M1370.2 805.1h0M1370.6 762.8h0M1371.0 774.5h0M1371.3 803.6h0M1371.7 791.0h0M1372.1 806.8h0M1372.5 805.5h0M1372.9 807.6h0M1373.3 806.7h0M1373.7 782.3h0M1374.1 776.5h0M1374.5 778.1h0M1374.9 790.5h0M1375.3 813.2h0M1375.7 787.3h0M1376.1 803.5h0M1376.4 767.6h0M1376.8 773.3h0M1377.2 769.0h0M1377.6 789.9h0M1378.0 818.0h0M1378.4 763.2h0M1378.8 757.3h0M1379.2 809.8h0M1379.6 777.5h0M1380.0 756.2h0M1380.4 800.1h0M1380.8 743.8h0M1381.2 784.7h0M1381.5 813.1h0M1381.9 749.8h0M1382.3 770.4h0M1382.7 797.3h0M1383.1 757.7h0M1383.5 812.7h0M1383.9 738.3h0M1384.3 789.2h0M1384.7 763.1h0M1385.1 779.9h0M1385.5 763.0h0M1385.9 753.5h0M1386.3 786.5h0M1386.6 754.4h0M1387.0 774.9h0M1387.4 782.1h0M1387.8 772.4h0M1388.2 787.1h0M1388.6 782.5h0M1389.0 747.7h0M1389.4 768.7h0M1389.8 742.8h0M1390.2 756.1h0M1390.6 798.1h0M1391.0 800.6h0M1391.4 776.3h0M1391.7 757.1h0M1392.1 761.5h0M1392.5 777.3h0M1392.9 740.7h0M1393.3 794.1h0M1393.7 784.0h0M1394.1 756.3h0M1394.5 715.3h0M1394.9 749.7h0M1395.3 777.0h0M1395.7 745.2h0M1396.1 742.9h0M1396.5 737.4h0M1396.8 763.3h0M1397.2 770.4h0M1397.6 751.9h0M1398.0 745.6h0M1398.4 721.9h0M1398.8 711.7h0M1399.2 766.5h0M1399.6 761.9h0M1400.0 752.4h0M1400.4 755.5h0M1400.8 733.9h0M1401.2 740.1h0M1401.6 744.0h0M1402.0 722.2h0M1402.3 751.1h0M1402.7 768.1h0M1403.1 799.0h0M1403.5 766.6h0M1403.9 766.4h0M1404.3 782.4h0M1404.7 722.9h0M1405.1 740.8h0M1405.5 752.2h0M1405.9 760.8h0M1406.3 773.9h0M1406.7 760.4h0M1407.1 705.7h0M1407.4 784.7h0M1407.8 738.1h0M1408.2 725.8h0M1408.6 737.1h0M1409.0 745.5h0M1409.4 723.7h0M1409.8 759.9h0M1410.2 726.9h0M1410.6 709.2h0M1411.0 757.1h0M1411.4 752.3h0M1411.8 733.0h0M1412.2 716.0h0M1412.5 709.2h0M1412.9 722.2h0M1413.3 748.8h0M1413.7 757.6h0M1414.1 731.1h0M1414.5 728.1h0M1414.9 757.5h0M1415.3 734.9h0M1415.7 729.6h0M1416.1 715.8h0M1416.5 755.7h0M1416.9 725.5h0M1417.3 775.4h0M1417.6 744.9h0M1418.0 738.2h0M1418.4 707.0h0M1418.8 674.2h0M1419.2 732.0h0M1419.6 727.3h0M1420.0 717.4h0M1420.4 763.9h0M1420.8 722.3h0M1421.2 761.7h0M1421.6 705.5h0M1422.0 709.3h0M1422.4 727.8h0M1422.7 753.5h0M1423.1 705.1h0M1423.5 732.8h0M1423.9 735.8h0M1424.3 726.7h0M1424.7 771.7h0M1425.1 729.8h0M1425.5 718.8h0M1425.9 731.7h0M1426.3 735.6h0M1426.7 757.2h0M1427.1 726.0h0M1427.5 734.8h0M1427.8 738.6h0M1428.2 749.9h0M1428.6 722.2h0M1429.0 714.6h0M1429.4 731.6h0M1429.8 721.7h0M1430.2 713.4h0M1430.6 708.3h0M1431.0 735.1h0M1431.4 743.8h0M1431.8 747.8h0M1432.2 739.5h0M1432.6 729.0h0M1432.9 721.5h0M1433.3 748.4h0M1433.7 737.2h0M1434.1 759.7h0M1434.5 715.5h0M1434.9 748.0h0M1435.3 733.4h0M1435.7 754.6h0M1436.1 746.5h0M1436.5 754.1h0M1436.9 707.4h0M1437.3 733.8h0M1437.7 746.5h0M1438.1 759.6h0M1438.4 753.1h0M1438.8 730.1h0M1439.2 708.7h0M1439.6 769.4h0M1440.0 759.4h0M1440.4 745.0h0M1440.8 762.6h0M1441.2 774.2h0M1441.6 741.4h0M1442.0 727.2h0M1442.4 772.9h0M1442.8 737.9h0M1443.2 723.3h0M1443.5 723.0h0M1443.9 750.6h0M1444.3 697.3h0M1444.7 731.6h0M1445.1 758.5h0M1445.5 723.4h0M1445.9 764.7h0M1446.3 725.3h0M1446.7 767.6h0M1447.1 727.5h0M1447.5 754.5h0M1447.9 721.0h0M1448.3 728.8h0M1448.6 734.6h0M1449.0 743.3h0M1449.4 724.3h0M1449.8 782.0h0M1450.2 739.4h0M1450.6 740.9h0M1451.0 739.1h0M1451.4 735.0h0M1451.8 689.6h0M1452.2 751.1h0M1452.6 738.8h0M1453.0 752.7h0M1453.4 726.0h0M1453.7 797.5h0M1454.1 725.8h0M1454.5 773.5h0M1454.9 805.6h0M1455.3 783.5h0M1455.7 766.9h0M1456.1 760.8h0M1456.5 766.6h0M1456.9 750.9h0M1457.3 768.7h0M1457.7 770.3h0M1458.1 812.2h0M1458.5 761.8h0M1458.8 754.8h0M1459.2 786.2h0M1459.6 818.0h0M1460.0 810.7h0M1460.4 755.0h0M1460.8 803.0h0M1461.2 807.4h0M1461.6 813.8h0M1462.0 787.7h0M1462.4 815.8h0M1462.8 824.6h0M1463.2 840.4h0M1463.6 816.3h0M1463.9 796.4h0M1464.3 820.0h0M1464.7 800.8h0M1465.1 815.7h0M1465.5 817.3h0M1465.9 817.8h0M1466.3 821.6h0M1466.7 803.3h0M1467.1 814.9h0M1467.5 836.8h0M1467.9 824.0h0M1468.3 829.1h0M1468.7 819.1h0M1469.1 826.1h0M1469.4 822.6h0M1469.8 860.7h0M1470.2 825.4h0M1470.6 808.1h0M1471.0 879.9h0M1471.4 804.6h0M1471.8 831.2h0M1472.2 842.1h0M1472.6 874.5h0M1473.0 818.8h0M1473.4 860.2h0M1473.8 852.3h0M1474.2 825.1h0M1474.5 861.4h0M1474.9 858.6h0M1475.3 859.9h0M1475.7 837.5h0M1476.1 821.8h0M1476.5 823.4h0M1476.9 821.3h0M1477.3 834.1h0M1477.7 822.6h0M1478.1 836.8h0M1478.5 782.2h0M1478.9 815.5h0M1479.3 855.6h0M1479.6 836.3h0M1480.0 781.9h0M1480.4 838.1h0M1480.8 817.9h0M1481.2 799.4h0M1481.6 841.8h0M1482.0 782.4h0M1482.4 769.3h0M1482.8 817.2h0M1483.2 777.8h0M1483.6 816.3h0M1484.0 817.2h0M1484.4 791.7h0M1484.7 790.8h0M1485.1 806.0h0M1485.5 776.7h0M1485.9 820.8h0M1486.3 807.7h0M1486.7 825.7h0M1487.1 773.8h0M1487.5 771.8h0M1487.9 773.3h0M1488.3 810.6h0M1488.7 781.5h0M1489.1 774.0h0M1489.5 813.6h0M1489.8 796.8h0M1490.2 767.0h0M1490.6 764.7h0M1491.0 772.4h0M1491.4 765.6h0M1491.8 768.8h0M1492.2 771.0h0M1492.6 775.0h0M1493.0 788.8h0M1493.4 776.0h0M1493.8 779.0h0M1494.2 725.5h0M1494.6 765.7h0M1494.9 770.8h0M1495.3 775.0h0M1495.7 772.6h0M1496.1 775.5h0M1496.5 759.3h0M1496.9 770.4h0M1497.3 753.8h0M1497.7 783.1h0M1498.1 762.5h0M1498.5 752.0h0M1498.9 791.7h0M1499.3 765.6h0M1499.7 760.5h0M1500.1 775.1h0M1500.4 778.0h0M1500.8 804.6h0M1501.2 745.6h0M1501.6 786.2h0M1502.0 792.1h0M1502.4 754.7h0M1502.8 803.4h0M1503.2 748.5h0M1503.6 758.7h0M1504.0 755.3h0M1504.4 770.1h0M1504.8 790.5h0M1505.2 803.5h0M1505.5 737.8h0M1505.9 775.5h0M1506.3 776.2h0M1506.7 734.9h0M1507.1 778.1h0M1507.5 770.3h0M1507.9 770.1h0M1508.3 768.0h0M1508.7 785.5h0M1509.1 776.0h0M1509.5 739.6h0M1509.9 749.8h0M1510.3 822.8h0M1510.6 802.7h0M1511.0 757.7h0M1511.4 766.3h0M1511.8 771.2h0M1512.2 743.3h0M1512.6 798.5h0M1513.0 739.9h0M1513.4 760.7h0M1513.8 752.4h0M1514.2 758.0h0M1514.6 746.2h0M1515.0 767.5h0M1515.4 773.1h0M1515.7 747.0h0M1516.1 758.7h0M1516.5 786.6h0M1516.9 735.4h0M1517.3 738.0h0M1517.7 733.3h0M1518.1 759.8h0M1518.5 754.4h0M1518.9 768.5h0M1519.3 780.0h0M1519.7 759.5h0M1520.1 757.1h0M1520.5 773.4h0M1520.8 724.4h0M1521.2 791.8h0M1521.6 787.1h0M1522.0 773.0h0M1522.4 734.4h0M1522.8 764.5h0M1523.2 765.7h0M1523.6 776.5h0M1524.0 774.0h0M1524.4 784.4h0M1524.8 738.8h0M1525.2 746.6h0M1525.6 739.0h0M1525.9 771.2h0M1526.3 708.9h0M1526.7 777.1h0M1527.1 798.0h0M1527.5 763.3h0M1527.9 754.7h0M1528.3 742.5h0M1528.7 777.0h0M1529.1 745.4h0M1529.5 723.3h0M1529.9 785.0h0M1530.3 781.1h0M1530.7 789.7h0M1531.0 751.4h0M1531.4 739.2h0M1531.8 740.8h0M1532.2 739.3h0M1532.6 727.8h0M1533.0 752.9h0M1533.4 736.5h0M1533.8 773.7h0M1534.2 781.2h0M1534.6 750.0h0M1535.0 770.6h0M1535.4 735.3h0M1535.8 727.3h0M1536.2 746.2h0M1536.5 768.4h0M1536.9 768.4h0M1537.3 726.8h0M1537.7 769.1h0M1538.1 751.5h0M1538.5 758.2h0M1538.9 751.9h0M1539.3 731.3h0M1539.7 763.2h0M1540.1 780.1h0M1540.5 723.9h0M1540.9 747.8h0M1541.3 737.8h0M1541.6 752.2h0M1542.0 736.4h0M1542.4 726.7h0M1542.8 724.6h0M1543.2 756.5h0M1543.6 757.9h0M1544.0 743.1h0M1544.4 746.7h0M1544.8 739.5h0M1545.2 764.3h0M1545.6 795.8h0M1546.0 741.3h0M1546.4 734.6h0M1546.7 737.2h0M1547.1 717.1h0M1547.5 732.7h0M1547.9 756.9h0M1548.3 729.8h0M1548.7 750.6h0M1549.1 724.2h0M1549.5 740.7h0M1549.9 739.6h0M1550.3 743.9h0M1550.7 747.1h0M1551.1 777.3h0M1551.5 746.7h0M1551.8 792.2h0M1552.2 737.8h0M1552.6 727.9h0M1553.0 707.2h0M1553.4 740.1h0M1553.8 761.6h0M1554.2 778.7h0M1554.6 709.5h0M1555.0 775.6h0M1555.4 730.2h0M1555.8 793.0h0M1556.2 748.9h0M1556.6 734.5h0M1556.9 741.6h0M1557.3 748.9h0M1557.7 764.3h0M1558.1 765.9h0M1558.5 728.4h0M1558.9 739.7h0M1559.3 751.5h0M1559.7 744.3h0M1560.1 766.6h0M1560.5 728.5h0M1560.9 723.8h0M1561.3 763.9h0M1561.7 746.7h0M1562.0 728.2h0M1562.4 761.4h0M1562.8 709.0h0M1563.2 719.3h0M1563.6 754.4h0M1564.0 729.8h0M1564.4 716.5h0M1564.8 773.5h0M1565.2 737.0h0M1565.6 752.1h0M1566.0 753.5h0M1566.4 735.4h0M1566.8 758.8h0M1567.2 796.1h0M1567.5 796.9h0M1567.9 750.0h0M1568.3 737.3h0M1568.7 750.2h0M1569.1 754.8h0M1569.5 750.8h0M1569.9 724.6h0M1570.3 739.5h0M1570.7 764.6h0M1571.1 755.7h0M1571.5 710.0h0M1571.9 761.5h0M1572.3 757.9h0M1572.6 750.8h0M1573.0 771.2h0M1573.4 732.7h0M1573.8 793.3h0M1574.2 722.1h0M1574.6 759.1h0M1575.0 792.5h0M1575.4 745.1h0M1575.8 784.2h0M1576.2 740.3h0M1576.6 735.7h0M1577.0 762.2h0M1577.4 758.6h0M1577.7 732.4h0M1578.1 773.4h0M1578.5 750.7h0M1578.9 744.4h0M1579.3 720.7h0M1579.7 761.1h0M1580.1 750.7h0" stroke="#1c64e2" stroke-width="8.2" stroke-linecap="round" fill="none"/>
<path d="M1318.5 1051.2v-7M1318.5 651.4v7M1449.3 1051.2v-7M1449.3 651.4v7M1187.7 651.4h7M1580.1 651.4h-7M1187.7 731.4h7M1580.1 731.4h-7M1187.7 811.3h7M1580.1 811.3h-7M1187.7 891.3h7M1580.1 891.3h-7M1187.7 971.2h7M1580.1 971.2h-7" stroke="#262626" stroke-width="1.6" fill="none"/>
<rect x="1187.7" y="651.4" width="392.4" height="399.8" fill="none" stroke="#262626" stroke-width="1.9"/>
<text x="1176.7" y="665.0" font-size="29" text-anchor="end" fill="#262626" font-weight="normal" >0.04</text>
<text x="1176.7" y="745.0" font-size="29" text-anchor="end" fill="#262626" font-weight="normal" >0.02</text>
<text x="1171.4" y="825.3" font-size="29" text-anchor="end" fill="#262626" font-weight="normal" >0</text>
<text x="1177.8" y="905.2" font-size="29" text-anchor="end" fill="#262626" font-weight="normal" >-0.02</text>
<text x="1177.8" y="984.4" font-size="29" text-anchor="end" fill="#262626" font-weight="normal" >-0.04</text>
<text x="1188.8" y="1089.6" font-size="29" text-anchor="middle" fill="#262626" font-weight="normal" >1.1</text>
<text x="1321.5" y="1089.6" font-size="29" text-anchor="middle" fill="#262626" font-weight="normal" >1.12</text>
<text x="1452.4" y="1089.6" font-size="29" text-anchor="middle" fill="#262626" font-weight="normal" >1.14</text>
<text x="1583.1" y="1089.6" font-size="29" text-anchor="middle" fill="#262626" font-weight="normal" >1.16</text>
<text x="1387.5" y="1122.2" font-size="29" text-anchor="middle" fill="#262626" font-weight="normal" >Energy (eV)</text>
<text x="1481.6" y="1021.9" font-size="25" text-anchor="start" fill="#000" font-weight="normal" >tBL/ML</text>
<path d="M1277.4 1000.2l19.7 -0.8l-5.2 5.6l11.3 5.7l-2.4 4.6l-11.1 -5.8l-1.1 7.2z" fill="#1a1a1a"/>
<text transform="translate(22.8,888.4) rotate(-90)" font-size="29" textLength="72" lengthAdjust="spacingAndGlyphs" fill="#262626">ΔR/R</text></svg></body></html>
